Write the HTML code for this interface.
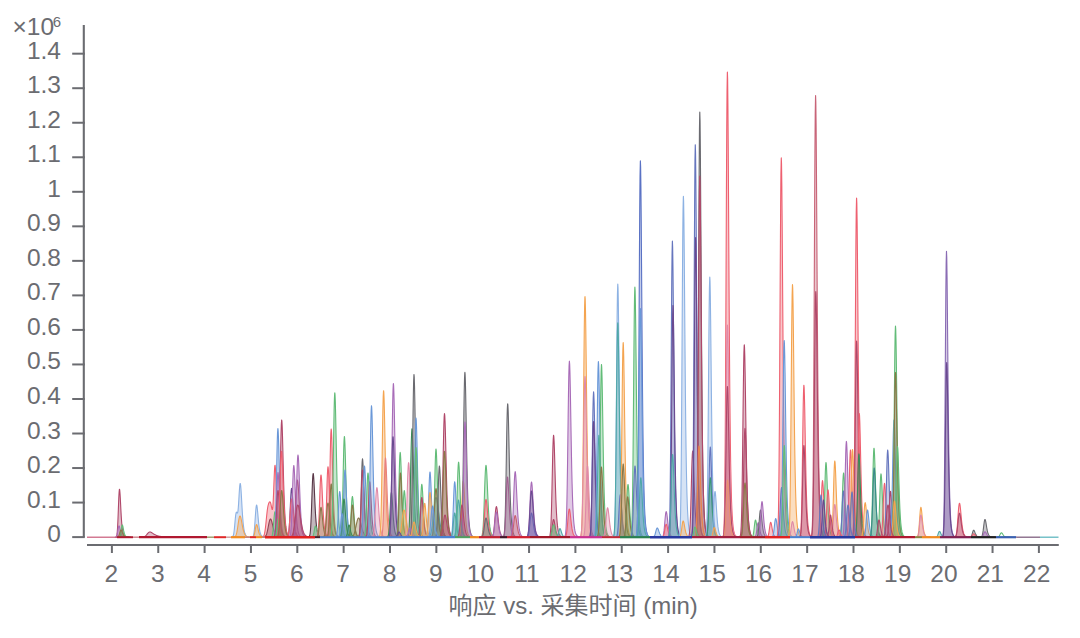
<!DOCTYPE html>
<html><head><meta charset="utf-8"><style>
html,body{margin:0;padding:0;background:#fff;width:1080px;height:638px;overflow:hidden}
svg{display:block}
.t{font-family:"Liberation Sans","Noto Sans CJK SC",sans-serif;font-size:24.5px;fill:#6b6c71}
.sup{font-size:15px}
.xl{font-size:24.0px}
</style></head><body>
<svg width="1080" height="638" viewBox="0 0 1080 638">
<g stroke-linejoin="round">
<path d="M115.76 537.20 L115.76 537.13 L116.06 536.99 L116.36 536.65 L116.66 535.90 L116.97 534.40 L117.27 531.73 L117.57 527.50 L117.88 521.47 L118.18 513.94 L118.48 505.70 L118.78 498.05 L119.09 492.28 L119.39 489.43 L119.50 489.20 L119.69 489.81 L119.99 493.00 L120.30 498.13 L120.60 504.14 L120.90 510.16 L121.20 515.60 L121.51 520.23 L121.81 524.00 L122.11 526.99 L122.42 529.31 L122.72 531.12 L123.02 532.51 L123.33 533.59 L123.63 534.42 L123.93 535.06 L124.23 535.55 L124.54 535.93 L124.84 536.22 L125.14 536.44 L125.44 536.62 L125.75 536.75 L126.05 536.85 L126.35 536.93 L126.66 536.99 L126.96 537.04 L127.26 537.08 L127.56 537.11 L127.87 537.13 L128.17 537.14 L128.47 537.16 Z" fill="#b0486a" fill-opacity="0.36" stroke="#b0486a" stroke-opacity="1.00" stroke-width="1.10"/>
<path d="M115.26 537.20 L115.26 537.18 L115.56 537.15 L115.86 537.07 L116.16 536.89 L116.47 536.54 L116.77 535.91 L117.07 534.92 L117.38 533.50 L117.68 531.72 L117.98 529.78 L118.28 527.98 L118.59 526.63 L118.89 525.95 L119.00 525.90 L119.19 526.04 L119.49 526.79 L119.80 528.00 L120.10 529.42 L120.40 530.83 L120.70 532.12 L121.01 533.21 L121.31 534.09 L121.61 534.80 L121.92 535.34 L122.22 535.77 L122.52 536.10 L122.83 536.35 L123.13 536.54 L123.43 536.70 L123.73 536.81 L124.04 536.90 L124.34 536.97 L124.64 537.02 L124.94 537.06 L125.25 537.09 L125.55 537.12 L125.85 537.14 L126.16 537.15 L126.46 537.16 L126.76 537.17 L127.06 537.18 L127.37 537.18 L127.67 537.19 L127.97 537.19 Z" fill="#a86cb8" fill-opacity="0.36" stroke="#a86cb8" stroke-opacity="1.00" stroke-width="1.10"/>
<path d="M118.84 537.20 L118.84 537.18 L119.15 537.14 L119.46 537.03 L119.76 536.77 L120.07 536.25 L120.38 535.31 L120.68 533.85 L120.99 531.89 L121.29 529.63 L121.60 527.46 L121.91 525.81 L122.21 525.04 L122.30 525.00 L122.52 525.23 L122.83 526.23 L123.13 527.73 L123.44 529.39 L123.74 530.97 L124.05 532.35 L124.36 533.46 L124.66 534.34 L124.97 535.03 L125.28 535.55 L125.58 535.94 L125.89 536.24 L126.19 536.47 L126.50 536.65 L126.81 536.78 L127.11 536.88 L127.42 536.96 L127.73 537.01 L128.03 537.06 L128.34 537.09 L128.65 537.12 L128.95 537.14 L129.26 537.15 L129.56 537.16 L129.87 537.17 L130.18 537.18 L130.48 537.18 L130.79 537.19 Z" fill="#62bc78" fill-opacity="0.36" stroke="#62bc78" stroke-opacity="1.00" stroke-width="1.10"/>
<path d="M116.68 537.20 L116.68 537.19 L116.98 537.17 L117.29 537.14 L117.59 537.07 L117.89 536.93 L118.20 536.69 L118.50 536.30 L118.80 535.72 L119.11 534.94 L119.41 533.98 L119.71 532.91 L120.02 531.85 L120.32 530.94 L120.62 530.30 L120.93 530.01 L121.00 530.00 L121.23 530.10 L121.53 530.52 L121.84 531.18 L122.14 531.97 L122.44 532.79 L122.75 533.57 L123.05 534.27 L123.35 534.86 L123.66 535.34 L123.96 535.74 L124.26 536.05 L124.57 536.30 L124.87 536.49 L125.17 536.64 L125.48 536.76 L125.78 536.86 L126.08 536.93 L126.39 536.99 L126.69 537.04 L126.99 537.07 L127.30 537.10 L127.60 537.12 L127.90 537.14 L128.21 537.15 L128.51 537.16 L128.81 537.17 L129.12 537.18 L129.42 537.18 L129.72 537.19 L130.03 537.19 L130.33 537.19 L130.63 537.19 L130.94 537.19 Z" fill="#8a7848" fill-opacity="0.36" stroke="#8a7848" stroke-opacity="1.00" stroke-width="1.10"/>
<path d="M141.36 537.20 L141.36 537.18 L141.66 537.18 L141.96 537.16 L142.26 537.15 L142.57 537.12 L142.87 537.09 L143.17 537.04 L143.47 536.98 L143.77 536.90 L144.07 536.79 L144.38 536.66 L144.68 536.50 L144.98 536.31 L145.28 536.09 L145.58 535.83 L145.88 535.54 L146.19 535.23 L146.49 534.89 L146.79 534.53 L147.09 534.16 L147.39 533.80 L147.69 533.45 L148.00 533.12 L148.30 532.82 L148.60 532.56 L148.90 532.34 L149.20 532.18 L149.50 532.07 L149.81 532.01 L150.00 532.00 L150.11 532.00 L150.41 532.04 L150.71 532.13 L151.01 532.25 L151.31 532.40 L151.62 532.57 L151.92 532.76 L152.22 532.96 L152.52 533.17 L152.82 533.37 L153.12 533.58 L153.43 533.79 L153.73 533.98 L154.03 534.17 L154.33 534.35 L154.63 534.52 L154.93 534.69 L155.24 534.84 L155.54 534.98 L155.84 535.12 L156.14 535.25 L156.44 535.37 L156.74 535.48 L157.04 535.59 L157.35 535.69 L157.65 535.78 L157.95 535.87 L158.25 535.95 L158.55 536.03 L158.85 536.10 L159.16 536.17 L159.46 536.23 L159.76 536.29 L160.06 536.35 L160.36 536.40 L160.66 536.45 L160.97 536.49 L161.27 536.54 L161.57 536.58 L161.87 536.62 L162.17 536.65 L162.47 536.69 L162.78 536.72 L163.08 536.75 L163.38 536.78 L163.68 536.80 L163.98 536.83 L164.28 536.85 L164.59 536.87 L164.89 536.89 L165.19 536.91 L165.49 536.93 L165.79 536.95 L166.09 536.96 L166.40 536.98 L166.70 536.99 L167.00 537.00 L167.30 537.01 L167.60 537.03 L167.90 537.04 L168.21 537.05 L168.51 537.06 L168.81 537.07 L169.11 537.07 L169.41 537.08 L169.71 537.09 L170.02 537.10 L170.32 537.10 L170.62 537.11 L170.92 537.11 L171.22 537.12 L171.52 537.12 L171.83 537.13 L172.13 537.13 L172.43 537.14 L172.73 537.14 L173.03 537.14 L173.33 537.15 L173.64 537.15 L173.94 537.15 L174.24 537.16 L174.54 537.16 L174.84 537.16 L175.14 537.16 L175.44 537.17 L175.75 537.17 L176.05 537.17 L176.35 537.17 L176.65 537.17 L176.95 537.18 L177.25 537.18 L177.56 537.18 L177.86 537.18 L178.16 537.18 L178.46 537.18 L178.76 537.18 L179.06 537.18 L179.37 537.19 L179.67 537.19 L179.97 537.19 Z" fill="#b0486a" fill-opacity="0.36" stroke="#b0486a" stroke-opacity="1.00" stroke-width="1.10"/>
<path d="M231.69 537.20 L231.69 537.17 L231.99 537.12 L232.29 537.02 L232.59 536.83 L232.89 536.47 L233.19 535.84 L233.49 534.84 L233.79 533.34 L234.09 531.26 L234.39 528.60 L234.69 525.47 L234.99 522.08 L235.29 518.76 L235.59 515.89 L235.89 513.77 L236.19 512.54 L236.30 512.33 L236.49 512.19 L236.79 512.45 L237.09 512.92 L237.40 513.09 L237.69 512.48 L238.00 510.73 L238.29 507.70 L238.59 503.49 L238.90 498.51 L239.19 493.35 L239.50 488.72 L239.80 485.30 L240.10 483.59 L240.30 483.53 L240.40 483.81 L240.70 485.90 L241.00 489.55 L241.30 494.29 L241.60 499.60 L241.90 505.05 L242.20 510.22 L242.50 514.91 L242.80 519.00 L243.10 522.46 L243.40 525.34 L243.70 527.68 L244.00 529.59 L244.30 531.11 L244.60 532.34 L244.90 533.31 L245.20 534.10 L245.50 534.72 L245.80 535.22 L246.10 535.62 L246.40 535.94 L246.70 536.19 L247.00 536.40 L247.30 536.56 L247.60 536.69 L247.90 536.79 L248.20 536.87 L248.50 536.94 L248.80 536.99 L249.10 537.03 L249.40 537.07 L249.70 537.09 L250.00 537.12 L250.30 537.13 L250.60 537.15 L250.90 537.16 L251.20 537.17 Z" fill="#8db2e3" fill-opacity="0.36" stroke="#8db2e3" stroke-opacity="1.00" stroke-width="1.10"/>
<path d="M233.38 537.20 L233.38 537.18 L233.68 537.15 L233.98 537.12 L234.28 537.06 L234.58 536.96 L234.88 536.80 L235.18 536.56 L235.48 536.20 L235.78 535.70 L236.08 535.01 L236.38 534.10 L236.68 532.95 L236.98 531.54 L237.28 529.88 L237.58 528.00 L237.88 525.97 L238.18 523.87 L238.48 521.82 L238.78 519.92 L239.08 518.31 L239.38 517.07 L239.68 516.29 L239.98 516.00 L240.00 516.00 L240.28 516.20 L240.58 516.86 L240.88 517.90 L241.18 519.25 L241.48 520.81 L241.78 522.47 L242.08 524.17 L242.38 525.81 L242.69 527.37 L242.99 528.79 L243.28 530.07 L243.59 531.19 L243.89 532.16 L244.19 532.99 L244.49 533.69 L244.79 534.28 L245.09 534.78 L245.39 535.19 L245.69 535.53 L245.99 535.82 L246.29 536.06 L246.59 536.25 L246.89 536.42 L247.19 536.55 L247.49 536.66 L247.79 536.75 L248.09 536.83 L248.39 536.89 L248.69 536.95 L248.99 536.99 L249.29 537.03 L249.59 537.06 L249.89 537.08 L250.19 537.10 L250.49 537.12 L250.79 537.13 L251.09 537.14 L251.39 537.15 L251.69 537.16 L251.99 537.17 L252.29 537.17 L252.59 537.18 L252.89 537.18 L253.19 537.19 L253.50 537.19 L253.79 537.19 Z" fill="#f4a450" fill-opacity="0.36" stroke="#f4a450" stroke-opacity="1.00" stroke-width="1.10"/>
<path d="M251.99 537.20 L251.99 537.16 L252.29 537.10 L252.59 536.96 L252.89 536.70 L253.19 536.22 L253.50 535.39 L253.79 534.05 L254.10 532.04 L254.40 529.27 L254.70 525.71 L255.00 521.54 L255.30 517.04 L255.60 512.68 L255.90 508.95 L256.20 506.32 L256.50 505.08 L256.60 505.00 L256.80 505.31 L257.10 506.87 L257.40 509.45 L257.70 512.65 L258.00 516.11 L258.30 519.50 L258.60 522.63 L258.90 525.36 L259.20 527.68 L259.50 529.59 L259.81 531.14 L260.11 532.39 L260.41 533.38 L260.71 534.17 L261.01 534.80 L261.31 535.30 L261.61 535.69 L261.91 536.01 L262.21 536.26 L262.51 536.45 L262.81 536.61 L263.11 536.73 L263.41 536.83 L263.71 536.90 L264.01 536.97 L264.31 537.01 L264.61 537.05 L264.92 537.08 L265.21 537.11 L265.52 537.13 L265.82 537.14 L266.12 537.15 L266.42 537.16 L266.72 537.17 L267.02 537.18 Z" fill="#8db2e3" fill-opacity="0.36" stroke="#8db2e3" stroke-opacity="1.00" stroke-width="1.10"/>
<path d="M251.99 537.20 L251.99 537.18 L252.29 537.16 L252.59 537.11 L252.89 537.01 L253.19 536.82 L253.50 536.49 L253.79 535.97 L254.10 535.18 L254.40 534.10 L254.70 532.71 L255.00 531.07 L255.30 529.31 L255.60 527.60 L255.90 526.15 L256.20 525.12 L256.50 524.63 L256.60 524.60 L256.80 524.72 L257.10 525.33 L257.40 526.34 L257.70 527.59 L258.00 528.95 L258.30 530.27 L258.60 531.50 L258.90 532.57 L259.20 533.47 L259.50 534.22 L259.81 534.83 L260.11 535.32 L260.41 535.71 L260.71 536.02 L261.01 536.26 L261.31 536.46 L261.61 536.61 L261.91 536.73 L262.21 536.83 L262.51 536.91 L262.81 536.97 L263.11 537.02 L263.41 537.05 L263.71 537.08 L264.01 537.11 L264.31 537.13 L264.61 537.14 L264.92 537.15 L265.21 537.16 L265.52 537.17 L265.82 537.18 L266.12 537.18 L266.42 537.19 L266.72 537.19 L267.02 537.19 Z" fill="#f4a450" fill-opacity="0.36" stroke="#f4a450" stroke-opacity="1.00" stroke-width="1.10"/>
<path d="M263.01 537.20 L263.01 537.18 L263.31 537.16 L263.62 537.14 L263.92 537.10 L264.22 537.04 L264.53 536.94 L264.83 536.80 L265.13 536.59 L265.44 536.30 L265.74 535.91 L266.04 535.39 L266.35 534.72 L266.65 533.88 L266.95 532.87 L267.25 531.68 L267.56 530.33 L267.86 528.84 L268.16 527.26 L268.47 525.64 L268.77 524.06 L269.07 522.59 L269.38 521.29 L269.68 520.25 L269.98 519.50 L270.29 519.09 L270.50 519.00 L270.59 519.02 L270.89 519.28 L271.19 519.86 L271.50 520.69 L271.80 521.74 L272.10 522.94 L272.41 524.22 L272.71 525.55 L273.01 526.85 L273.32 528.11 L273.62 529.28 L273.92 530.36 L274.23 531.33 L274.53 532.19 L274.83 532.94 L275.13 533.59 L275.44 534.15 L275.74 534.63 L276.04 535.04 L276.35 535.39 L276.65 535.68 L276.95 535.92 L277.26 536.13 L277.56 536.30 L277.86 536.44 L278.17 536.57 L278.47 536.67 L278.77 536.75 L279.07 536.83 L279.38 536.89 L279.68 536.94 L279.98 536.98 L280.29 537.01 L280.59 537.04 L280.89 537.07 L281.20 537.09 L281.50 537.11 L281.80 537.12 L282.11 537.14 L282.41 537.15 L282.71 537.15 L283.01 537.16 L283.32 537.17 L283.62 537.17 L283.92 537.18 L284.23 537.18 L284.53 537.18 L284.83 537.19 L285.14 537.19 L285.44 537.19 L285.74 537.19 Z" fill="#5a3848" fill-opacity="0.36" stroke="#5a3848" stroke-opacity="1.00" stroke-width="1.10"/>
<path d="M261.85 537.20 L261.85 537.17 L262.15 537.14 L262.45 537.08 L262.75 536.98 L263.06 536.81 L263.36 536.54 L263.66 536.12 L263.96 535.49 L264.26 534.60 L264.56 533.39 L264.86 531.80 L265.16 529.82 L265.46 527.46 L265.77 524.77 L266.07 521.83 L266.37 518.79 L266.67 515.78 L266.97 512.95 L267.27 510.42 L267.57 508.26 L267.87 506.50 L267.90 506.37 L268.18 505.11 L268.48 504.04 L268.78 503.21 L269.08 502.57 L269.38 502.11 L269.68 501.85 L269.98 501.83 L270.28 502.13 L270.58 502.81 L270.88 503.88 L271.00 504.38 L271.19 505.29 L271.49 506.88 L271.79 508.40 L272.09 509.44 L272.39 509.52 L272.69 508.12 L272.99 504.82 L273.29 499.49 L273.60 492.40 L273.90 484.34 L274.20 476.43 L274.50 469.96 L274.80 466.03 L275.10 465.27 L275.40 467.74 L275.70 472.92 L276.00 479.95 L276.30 487.87 L276.61 495.84 L276.91 503.28 L277.21 509.79 L277.51 515.29 L277.81 519.81 L278.11 523.45 L278.41 526.35 L278.71 528.65 L279.01 530.47 L279.31 531.90 L279.62 533.02 L279.92 533.91 L280.22 534.61 L280.52 535.16 L280.82 535.59 L281.12 535.93 L281.42 536.20 L281.72 536.41 L282.02 536.58 L282.33 536.71 L282.63 536.82 L282.93 536.90 L283.23 536.96 L283.53 537.01 L283.83 537.05 L284.13 537.08 L284.43 537.11 L284.74 537.13 L285.04 537.14 Z" fill="#ee6070" fill-opacity="0.36" stroke="#ee6070" stroke-opacity="1.00" stroke-width="1.10"/>
<path d="M270.68 537.20 L270.68 537.16 L270.98 537.11 L271.29 536.98 L271.59 536.73 L271.89 536.24 L272.20 535.38 L272.50 534.00 L272.80 531.96 L273.11 529.20 L273.41 525.80 L273.71 522.02 L274.02 518.25 L274.32 515.02 L274.62 512.75 L274.93 511.74 L275.00 511.70 L275.23 512.06 L275.53 513.55 L275.84 515.88 L276.14 518.68 L276.44 521.59 L276.75 524.35 L277.05 526.82 L277.35 528.91 L277.66 530.63 L277.96 532.02 L278.26 533.13 L278.57 534.00 L278.87 534.69 L279.17 535.23 L279.48 535.66 L279.78 535.99 L280.08 536.25 L280.39 536.46 L280.69 536.62 L280.99 536.74 L281.30 536.84 L281.60 536.92 L281.90 536.98 L282.21 537.03 L282.51 537.06 L282.81 537.09 L283.12 537.12 L283.42 537.13 L283.72 537.15 L284.03 537.16 L284.33 537.17 L284.63 537.18 L284.94 537.18 Z" fill="#62bc78" fill-opacity="0.36" stroke="#62bc78" stroke-opacity="1.00" stroke-width="1.10"/>
<path d="M273.58 537.20 L273.58 537.05 L273.88 536.81 L274.19 536.28 L274.49 535.19 L274.79 533.12 L275.10 529.46 L275.40 523.59 L275.70 514.90 L276.01 503.12 L276.31 488.64 L276.61 472.54 L276.92 456.50 L277.22 442.72 L277.52 433.07 L277.83 428.78 L277.90 428.60 L278.13 430.15 L278.43 436.47 L278.74 446.39 L279.04 458.32 L279.34 470.71 L279.65 482.47 L279.95 492.98 L280.25 501.88 L280.56 509.22 L280.86 515.15 L281.16 519.86 L281.47 523.59 L281.77 526.52 L282.07 528.82 L282.38 530.63 L282.68 532.05 L282.98 533.16 L283.29 534.03 L283.59 534.72 L283.89 535.25 L284.20 535.67 L284.50 536.00 L284.80 536.26 L285.11 536.46 L285.41 536.62 L285.71 536.75 L286.02 536.84 L286.32 536.92 L286.62 536.98 L286.93 537.03 L287.23 537.07 L287.53 537.09 L287.84 537.12 Z" fill="#6a98d8" fill-opacity="0.36" stroke="#6a98d8" stroke-opacity="1.00" stroke-width="1.10"/>
<path d="M273.68 537.20 L273.68 537.11 L273.98 536.97 L274.29 536.65 L274.59 536.00 L274.89 534.77 L275.20 532.59 L275.50 529.09 L275.80 523.92 L276.11 516.89 L276.41 508.27 L276.71 498.68 L277.02 489.12 L277.32 480.91 L277.62 475.16 L277.93 472.61 L278.00 472.50 L278.23 473.42 L278.53 477.19 L278.84 483.10 L279.14 490.21 L279.44 497.59 L279.75 504.59 L280.05 510.85 L280.35 516.16 L280.66 520.53 L280.96 524.07 L281.26 526.87 L281.57 529.09 L281.87 530.84 L282.17 532.21 L282.48 533.29 L282.78 534.13 L283.08 534.79 L283.39 535.31 L283.69 535.72 L283.99 536.04 L284.30 536.29 L284.60 536.49 L284.90 536.64 L285.21 536.76 L285.51 536.86 L285.81 536.93 L286.12 536.99 L286.42 537.03 L286.72 537.07 L287.03 537.10 L287.33 537.12 L287.63 537.14 L287.94 537.15 Z" fill="#a86cb8" fill-opacity="0.36" stroke="#a86cb8" stroke-opacity="1.00" stroke-width="1.10"/>
<path d="M273.39 537.20 L273.39 537.14 L273.69 537.05 L273.99 536.86 L274.29 536.48 L274.59 535.78 L274.89 534.57 L275.19 532.63 L275.50 529.71 L275.80 525.70 L276.10 520.54 L276.40 514.49 L276.70 507.95 L277.00 501.64 L277.30 496.23 L277.60 492.42 L277.90 490.62 L278.00 490.50 L278.20 490.95 L278.50 493.21 L278.80 496.96 L279.10 501.60 L279.40 506.62 L279.70 511.53 L280.00 516.07 L280.30 520.03 L280.61 523.39 L280.90 526.16 L281.21 528.42 L281.51 530.22 L281.81 531.67 L282.11 532.81 L282.41 533.72 L282.71 534.44 L283.01 535.02 L283.31 535.47 L283.61 535.83 L283.91 536.11 L284.21 536.34 L284.51 536.52 L284.81 536.66 L285.11 536.77 L285.41 536.86 L285.71 536.93 L286.01 536.99 L286.31 537.03 L286.62 537.07 L286.92 537.09 L287.22 537.12 L287.52 537.13 L287.82 537.15 L288.12 537.16 L288.42 537.17 Z" fill="#b0486a" fill-opacity="0.36" stroke="#b0486a" stroke-opacity="1.00" stroke-width="1.10"/>
<path d="M274.54 537.20 L274.54 537.17 L274.85 537.11 L275.16 536.94 L275.46 536.56 L275.77 535.78 L276.07 534.38 L276.38 532.21 L276.69 529.28 L276.99 525.91 L277.30 522.67 L277.61 520.21 L277.91 519.06 L278.00 519.00 L278.22 519.35 L278.53 520.84 L278.83 523.07 L279.14 525.55 L279.44 527.91 L279.75 529.96 L280.06 531.63 L280.36 532.94 L280.67 533.96 L280.98 534.73 L281.28 535.32 L281.59 535.77 L281.89 536.11 L282.20 536.37 L282.51 536.57 L282.81 536.72 L283.12 536.84 L283.43 536.92 L283.73 536.99 L284.04 537.04 L284.35 537.08 L284.65 537.11 L284.96 537.13 L285.26 537.15 L285.57 537.16 L285.88 537.17 L286.18 537.18 L286.49 537.18 Z" fill="#62bc78" fill-opacity="0.36" stroke="#62bc78" stroke-opacity="1.00" stroke-width="1.10"/>
<path d="M277.09 537.20 L277.09 537.04 L277.39 536.82 L277.69 536.34 L277.99 535.40 L278.29 533.64 L278.60 530.60 L278.89 525.72 L279.20 518.42 L279.50 508.33 L279.80 495.39 L280.10 480.20 L280.40 463.81 L280.70 447.95 L281.00 434.38 L281.30 424.82 L281.60 420.30 L281.70 420.00 L281.90 421.14 L282.20 426.81 L282.50 436.20 L282.80 447.85 L283.10 460.45 L283.40 472.78 L283.70 484.16 L284.00 494.11 L284.31 502.55 L284.61 509.50 L284.91 515.16 L285.21 519.69 L285.51 523.31 L285.81 526.19 L286.11 528.48 L286.41 530.28 L286.71 531.72 L287.01 532.86 L287.31 533.76 L287.61 534.47 L287.91 535.04 L288.21 535.49 L288.51 535.84 L288.81 536.13 L289.11 536.35 L289.41 536.53 L289.71 536.67 L290.01 536.78 L290.31 536.86 L290.62 536.93 L290.92 536.99 L291.22 537.03 L291.52 537.07 L291.82 537.10 L292.12 537.12 Z" fill="#b0486a" fill-opacity="0.36" stroke="#b0486a" stroke-opacity="1.00" stroke-width="1.10"/>
<path d="M276.32 537.20 L276.32 537.09 L276.62 536.96 L276.92 536.69 L277.22 536.19 L277.52 535.31 L277.82 533.82 L278.12 531.45 L278.43 527.89 L278.73 522.86 L279.03 516.19 L279.33 507.85 L279.63 498.09 L279.93 487.44 L280.23 476.74 L280.53 466.94 L280.83 458.97 L281.14 453.61 L281.44 451.37 L281.50 451.30 L281.74 452.28 L282.04 456.04 L282.34 462.07 L282.64 469.64 L282.94 477.95 L283.24 486.34 L283.55 494.32 L283.85 501.58 L284.15 507.92 L284.45 513.33 L284.75 517.84 L285.05 521.56 L285.35 524.60 L285.65 527.06 L285.95 529.04 L286.26 530.64 L286.56 531.93 L286.86 532.97 L287.16 533.80 L287.46 534.46 L287.76 535.00 L288.06 535.43 L288.37 535.78 L288.67 536.06 L288.97 536.28 L289.27 536.46 L289.57 536.61 L289.87 536.72 L290.17 536.82 L290.47 536.89 L290.77 536.95 L291.08 537.00 L291.38 537.04 L291.68 537.07 L291.98 537.10 L292.28 537.12 L292.58 537.13 L292.88 537.15 Z" fill="#ee6070" fill-opacity="0.36" stroke="#ee6070" stroke-opacity="1.00" stroke-width="1.10"/>
<path d="M276.52 537.20 L276.52 537.14 L276.82 537.07 L277.12 536.92 L277.42 536.65 L277.72 536.17 L278.02 535.36 L278.32 534.07 L278.62 532.14 L278.93 529.41 L279.23 525.78 L279.53 521.24 L279.83 515.94 L280.13 510.15 L280.43 504.33 L280.73 499.00 L281.03 494.67 L281.34 491.76 L281.64 490.54 L281.70 490.50 L281.94 491.03 L282.24 493.08 L282.54 496.36 L282.84 500.47 L283.14 504.99 L283.44 509.55 L283.75 513.89 L284.05 517.84 L284.35 521.28 L284.65 524.22 L284.95 526.68 L285.25 528.70 L285.55 530.35 L285.85 531.69 L286.15 532.77 L286.46 533.63 L286.76 534.34 L287.06 534.90 L287.36 535.35 L287.66 535.71 L287.96 536.00 L288.26 536.24 L288.56 536.43 L288.87 536.58 L289.17 536.70 L289.47 536.80 L289.77 536.88 L290.07 536.94 L290.37 536.99 L290.67 537.03 L290.98 537.07 L291.28 537.09 L291.58 537.11 L291.88 537.13 L292.18 537.14 L292.48 537.16 L292.78 537.16 L293.08 537.17 Z" fill="#8a7848" fill-opacity="0.36" stroke="#8a7848" stroke-opacity="1.00" stroke-width="1.10"/>
<path d="M286.99 537.20 L286.99 537.13 L287.29 537.04 L287.59 536.84 L287.89 536.45 L288.19 535.72 L288.50 534.45 L288.80 532.42 L289.10 529.38 L289.40 525.18 L289.70 519.79 L290.00 513.47 L290.30 506.64 L290.60 500.04 L290.90 494.39 L291.20 490.41 L291.50 488.53 L291.60 488.40 L291.80 488.87 L292.10 491.24 L292.40 495.15 L292.70 500.00 L293.00 505.24 L293.30 510.38 L293.60 515.12 L293.90 519.26 L294.20 522.77 L294.50 525.67 L294.81 528.02 L295.11 529.91 L295.41 531.42 L295.71 532.61 L296.01 533.57 L296.31 534.32 L296.61 534.92 L296.91 535.39 L297.21 535.77 L297.51 536.06 L297.81 536.30 L298.11 536.49 L298.41 536.64 L298.71 536.75 L299.01 536.85 L299.31 536.92 L299.61 536.98 L299.92 537.02 L300.21 537.06 L300.52 537.09 L300.82 537.11 L301.12 537.13 L301.42 537.14 L301.72 537.16 L302.02 537.17 Z" fill="#6a4a90" fill-opacity="0.36" stroke="#6a4a90" stroke-opacity="1.00" stroke-width="1.10"/>
<path d="M286.42 537.20 L286.42 537.15 L286.72 537.09 L287.02 536.97 L287.32 536.75 L287.62 536.36 L287.92 535.70 L288.22 534.64 L288.52 533.06 L288.83 530.83 L289.13 527.86 L289.43 524.15 L289.73 519.81 L290.03 515.07 L290.33 510.31 L290.63 505.95 L290.93 502.41 L291.24 500.03 L291.54 499.03 L291.60 499.00 L291.84 499.43 L292.14 501.11 L292.44 503.79 L292.74 507.16 L293.04 510.85 L293.34 514.58 L293.64 518.13 L293.95 521.36 L294.25 524.18 L294.55 526.58 L294.85 528.59 L295.15 530.24 L295.45 531.60 L295.75 532.69 L296.06 533.57 L296.36 534.28 L296.66 534.86 L296.96 535.32 L297.26 535.69 L297.56 535.98 L297.86 536.22 L298.16 536.41 L298.46 536.57 L298.77 536.69 L299.07 536.79 L299.37 536.87 L299.67 536.94 L299.97 536.99 L300.27 537.03 L300.57 537.06 L300.88 537.09 L301.18 537.11 L301.48 537.13 L301.78 537.14 L302.08 537.15 L302.38 537.16 L302.68 537.17 L302.98 537.18 Z" fill="#ee6070" fill-opacity="0.36" stroke="#ee6070" stroke-opacity="1.00" stroke-width="1.10"/>
<path d="M289.19 537.20 L289.19 537.10 L289.49 536.97 L289.79 536.68 L290.09 536.10 L290.39 535.02 L290.69 533.16 L291.00 530.18 L291.30 525.71 L291.60 519.54 L291.90 511.62 L292.20 502.33 L292.50 492.30 L292.80 482.60 L293.10 474.29 L293.40 468.45 L293.70 465.69 L293.80 465.50 L294.00 466.20 L294.30 469.67 L294.60 475.41 L294.90 482.54 L295.20 490.24 L295.50 497.79 L295.80 504.75 L296.10 510.84 L296.40 516.00 L296.70 520.25 L297.01 523.72 L297.31 526.49 L297.61 528.70 L297.91 530.46 L298.21 531.86 L298.51 532.97 L298.81 533.85 L299.11 534.54 L299.41 535.10 L299.71 535.53 L300.01 535.88 L300.31 536.15 L300.61 536.37 L300.91 536.54 L301.21 536.68 L301.51 536.79 L301.81 536.87 L302.12 536.94 L302.42 536.99 L302.72 537.04 L303.02 537.07 L303.32 537.10 L303.62 537.12 L303.92 537.14 L304.22 537.15 Z" fill="#a86cb8" fill-opacity="0.36" stroke="#a86cb8" stroke-opacity="1.00" stroke-width="1.10"/>
<path d="M291.64 537.20 L291.64 537.13 L291.94 537.05 L292.24 536.91 L292.55 536.67 L292.85 536.24 L293.15 535.54 L293.45 534.44 L293.75 532.80 L294.05 530.48 L294.36 527.33 L294.66 523.27 L294.96 518.30 L295.26 512.53 L295.56 506.23 L295.87 499.72 L296.17 493.48 L296.47 488.00 L296.77 483.72 L297.07 481.00 L297.37 480.00 L297.40 480.00 L297.68 480.74 L297.98 483.04 L298.28 486.63 L298.58 491.10 L298.88 496.10 L299.19 501.27 L299.49 506.31 L299.79 511.01 L300.09 515.23 L300.39 518.95 L300.69 522.14 L301.00 524.84 L301.30 527.08 L301.60 528.94 L301.90 530.46 L302.20 531.71 L302.50 532.73 L302.81 533.56 L303.11 534.24 L303.41 534.79 L303.71 535.24 L304.01 535.61 L304.32 535.90 L304.62 536.14 L304.92 536.34 L305.22 536.50 L305.52 536.63 L305.82 536.74 L306.13 536.82 L306.43 536.89 L306.73 536.95 L307.03 537.00 L307.33 537.03 L307.63 537.07 L307.94 537.09 L308.24 537.11 L308.54 537.13 L308.84 537.14 L309.14 537.15 L309.45 537.16 L309.75 537.17 Z" fill="#b0486a" fill-opacity="0.36" stroke="#b0486a" stroke-opacity="1.00" stroke-width="1.10"/>
<path d="M293.10 537.20 L293.10 537.09 L293.41 536.95 L293.71 536.65 L294.01 536.08 L294.32 535.04 L294.62 533.25 L294.93 530.39 L295.23 526.11 L295.53 520.10 L295.84 512.25 L296.14 502.73 L296.45 492.06 L296.75 481.12 L297.05 470.93 L297.36 462.63 L297.66 457.15 L297.96 455.02 L298.00 455.00 L298.27 456.29 L298.57 460.56 L298.88 467.12 L299.18 475.07 L299.48 483.55 L299.79 491.91 L300.09 499.65 L300.39 506.49 L300.70 512.33 L301.00 517.18 L301.31 521.16 L301.61 524.39 L301.91 526.99 L302.22 529.06 L302.52 530.71 L302.82 532.03 L303.13 533.09 L303.43 533.92 L303.74 534.59 L304.04 535.12 L304.34 535.54 L304.65 535.88 L304.95 536.15 L305.25 536.36 L305.56 536.53 L305.86 536.67 L306.17 536.78 L306.47 536.86 L306.77 536.93 L307.08 536.99 L307.38 537.03 L307.69 537.06 L307.99 537.09 L308.29 537.11 L308.60 537.13 L308.90 537.15 Z" fill="#a86cb8" fill-opacity="0.36" stroke="#a86cb8" stroke-opacity="1.00" stroke-width="1.10"/>
<path d="M308.59 537.20 L308.59 537.11 L308.89 536.99 L309.19 536.73 L309.49 536.22 L309.79 535.27 L310.10 533.61 L310.39 530.96 L310.70 526.99 L311.00 521.51 L311.30 514.48 L311.60 506.22 L311.90 497.31 L312.20 488.69 L312.50 481.31 L312.80 476.12 L313.10 473.67 L313.20 473.50 L313.40 474.12 L313.70 477.20 L314.00 482.31 L314.30 488.64 L314.60 495.48 L314.90 502.19 L315.20 508.37 L315.50 513.78 L315.81 518.37 L316.11 522.14 L316.41 525.22 L316.71 527.68 L317.01 529.65 L317.31 531.21 L317.61 532.46 L317.91 533.44 L318.21 534.22 L318.51 534.84 L318.81 535.33 L319.11 535.72 L319.41 536.03 L319.71 536.27 L320.01 536.46 L320.31 536.62 L320.61 536.74 L320.91 536.83 L321.21 536.91 L321.51 536.97 L321.81 537.02 L322.12 537.06 L322.42 537.09 L322.72 537.11 L323.02 537.13 L323.32 537.14 L323.62 537.15 Z" fill="#5a3848" fill-opacity="0.36" stroke="#5a3848" stroke-opacity="1.00" stroke-width="1.10"/>
<path d="M311.47 537.20 L311.47 537.18 L311.77 537.16 L312.08 537.09 L312.39 536.95 L312.69 536.66 L313.00 536.17 L313.31 535.37 L313.61 534.21 L313.92 532.69 L314.23 530.93 L314.53 529.13 L314.84 527.56 L315.15 526.46 L315.45 526.01 L315.50 526.00 L315.76 526.23 L316.06 527.01 L316.37 528.18 L316.68 529.52 L316.99 530.87 L317.29 532.10 L317.60 533.16 L317.90 534.03 L318.21 534.73 L318.52 535.28 L318.82 535.71 L319.13 536.04 L319.44 536.30 L319.74 536.50 L320.05 536.66 L320.36 536.78 L320.66 536.88 L320.97 536.95 L321.28 537.00 L321.58 537.05 L321.89 537.08 L322.19 537.11 L322.50 537.13 L322.81 537.15 L323.12 537.16 L323.42 537.17 L323.73 537.17 L324.03 537.18 L324.34 537.18 L324.65 537.19 L324.95 537.19 Z" fill="#62bc78" fill-opacity="0.36" stroke="#62bc78" stroke-opacity="1.00" stroke-width="1.10"/>
<path d="M316.39 537.20 L316.39 537.12 L316.69 537.00 L316.99 536.75 L317.29 536.24 L317.59 535.31 L317.89 533.70 L318.19 531.11 L318.50 527.23 L318.80 521.88 L319.10 515.01 L319.40 506.95 L319.70 498.25 L320.00 489.83 L320.30 482.63 L320.60 477.56 L320.90 475.16 L321.00 475.00 L321.20 475.60 L321.50 478.61 L321.80 483.60 L322.10 489.78 L322.40 496.47 L322.70 503.01 L323.00 509.05 L323.30 514.33 L323.61 518.81 L323.90 522.50 L324.21 525.50 L324.51 527.91 L324.81 529.83 L325.11 531.36 L325.41 532.57 L325.71 533.53 L326.01 534.29 L326.31 534.90 L326.61 535.37 L326.91 535.75 L327.21 536.05 L327.51 536.29 L327.81 536.48 L328.11 536.63 L328.41 536.75 L328.71 536.84 L329.01 536.92 L329.31 536.98 L329.62 537.02 L329.92 537.06 L330.22 537.09 L330.52 537.11 L330.82 537.13 L331.12 537.14 L331.42 537.16 Z" fill="#ee6070" fill-opacity="0.36" stroke="#ee6070" stroke-opacity="1.00" stroke-width="1.10"/>
<path d="M316.39 537.20 L316.39 537.16 L316.69 537.10 L316.99 536.98 L317.29 536.74 L317.59 536.29 L317.89 535.52 L318.19 534.28 L318.50 532.42 L318.80 529.86 L319.10 526.57 L319.40 522.71 L319.70 518.54 L320.00 514.51 L320.30 511.06 L320.60 508.63 L320.90 507.48 L321.00 507.40 L321.20 507.69 L321.50 509.13 L321.80 511.52 L322.10 514.48 L322.40 517.68 L322.70 520.82 L323.00 523.71 L323.30 526.24 L323.61 528.39 L323.90 530.16 L324.21 531.60 L324.51 532.75 L324.81 533.67 L325.11 534.40 L325.41 534.98 L325.71 535.44 L326.01 535.81 L326.31 536.10 L326.61 536.33 L326.91 536.51 L327.21 536.65 L327.51 536.77 L327.81 536.86 L328.11 536.93 L328.41 536.98 L328.71 537.03 L329.01 537.06 L329.31 537.09 L329.62 537.11 L329.92 537.13 L330.22 537.15 L330.52 537.16 L330.82 537.17 L331.12 537.17 L331.42 537.18 Z" fill="#8a7848" fill-opacity="0.36" stroke="#8a7848" stroke-opacity="1.00" stroke-width="1.10"/>
<path d="M323.68 537.20 L323.68 537.10 L323.98 536.95 L324.29 536.61 L324.59 535.90 L324.89 534.55 L325.20 532.18 L325.50 528.38 L325.80 522.75 L326.11 515.10 L326.41 505.72 L326.71 495.28 L327.02 484.88 L327.32 475.95 L327.62 469.69 L327.93 466.92 L328.00 466.80 L328.23 467.80 L328.53 471.90 L328.84 478.33 L329.14 486.07 L329.44 494.10 L329.75 501.72 L330.05 508.53 L330.35 514.30 L330.66 519.06 L330.96 522.91 L331.26 525.96 L331.57 528.38 L331.87 530.28 L332.17 531.77 L332.48 532.94 L332.78 533.86 L333.08 534.58 L333.39 535.15 L333.69 535.59 L333.99 535.94 L334.30 536.21 L334.60 536.42 L334.90 536.59 L335.21 536.72 L335.51 536.83 L335.81 536.91 L336.12 536.97 L336.42 537.02 L336.72 537.06 L337.03 537.09 L337.33 537.11 L337.63 537.13 L337.94 537.15 Z" fill="#ee6070" fill-opacity="0.36" stroke="#ee6070" stroke-opacity="1.00" stroke-width="1.10"/>
<path d="M322.82 537.20 L322.82 537.16 L323.12 537.10 L323.42 537.00 L323.72 536.80 L324.02 536.45 L324.32 535.85 L324.62 534.91 L324.93 533.49 L325.23 531.49 L325.53 528.83 L325.83 525.51 L326.13 521.63 L326.43 517.39 L326.73 513.13 L327.03 509.22 L327.33 506.05 L327.64 503.92 L327.94 503.03 L328.00 503.00 L328.24 503.39 L328.54 504.89 L328.84 507.29 L329.14 510.30 L329.44 513.61 L329.74 516.95 L330.05 520.13 L330.35 523.02 L330.65 525.54 L330.95 527.69 L331.25 529.49 L331.55 530.97 L331.85 532.18 L332.15 533.16 L332.45 533.95 L332.76 534.59 L333.06 535.10 L333.36 535.51 L333.66 535.84 L333.96 536.11 L334.26 536.32 L334.56 536.50 L334.87 536.63 L335.17 536.75 L335.47 536.84 L335.77 536.91 L336.07 536.96 L336.37 537.01 L336.67 537.05 L336.97 537.08 L337.27 537.10 L337.58 537.12 L337.88 537.14 L338.18 537.15 L338.48 537.16 L338.78 537.17 L339.08 537.17 L339.38 537.18 Z" fill="#8a7848" fill-opacity="0.36" stroke="#8a7848" stroke-opacity="1.00" stroke-width="1.10"/>
<path d="M326.88 537.20 L326.88 537.05 L327.18 536.81 L327.49 536.29 L327.79 535.20 L328.09 533.13 L328.40 529.49 L328.70 523.64 L329.00 514.99 L329.31 503.24 L329.61 488.82 L329.91 472.78 L330.22 456.79 L330.52 443.07 L330.82 433.45 L331.13 429.18 L331.20 429.00 L331.43 430.54 L331.73 436.84 L332.04 446.72 L332.34 458.61 L332.64 470.95 L332.95 482.67 L333.25 493.14 L333.55 502.01 L333.86 509.32 L334.16 515.24 L334.46 519.93 L334.77 523.64 L335.07 526.56 L335.37 528.86 L335.68 530.65 L335.98 532.07 L336.28 533.18 L336.59 534.04 L336.89 534.73 L337.19 535.26 L337.50 535.68 L337.80 536.01 L338.10 536.26 L338.41 536.47 L338.71 536.62 L339.01 536.75 L339.32 536.85 L339.62 536.92 L339.92 536.98 L340.23 537.03 L340.53 537.07 L340.83 537.09 L341.14 537.12 Z" fill="#ee6070" fill-opacity="0.36" stroke="#ee6070" stroke-opacity="1.00" stroke-width="1.10"/>
<path d="M326.59 537.20 L326.59 537.13 L326.89 537.03 L327.19 536.81 L327.49 536.38 L327.79 535.58 L328.10 534.20 L328.39 531.99 L328.70 528.67 L329.00 524.10 L329.30 518.22 L329.60 511.33 L329.90 503.88 L330.20 496.69 L330.50 490.53 L330.80 486.19 L331.10 484.14 L331.20 484.00 L331.40 484.52 L331.70 487.09 L332.00 491.35 L332.30 496.64 L332.60 502.36 L332.90 507.96 L333.20 513.12 L333.50 517.64 L333.81 521.47 L334.11 524.63 L334.41 527.19 L334.71 529.25 L335.01 530.90 L335.31 532.20 L335.61 533.24 L335.91 534.06 L336.21 534.71 L336.51 535.23 L336.81 535.64 L337.11 535.96 L337.41 536.22 L337.71 536.42 L338.01 536.58 L338.31 536.71 L338.61 536.81 L338.91 536.89 L339.21 536.96 L339.51 537.01 L339.81 537.05 L340.12 537.08 L340.42 537.10 L340.72 537.12 L341.02 537.14 L341.32 537.15 L341.62 537.16 Z" fill="#8a7848" fill-opacity="0.36" stroke="#8a7848" stroke-opacity="1.00" stroke-width="1.10"/>
<path d="M330.19 537.20 L330.19 537.00 L330.49 536.73 L330.79 536.14 L331.09 534.98 L331.39 532.81 L331.69 529.06 L332.00 523.06 L332.30 514.06 L332.60 501.64 L332.90 485.69 L333.20 466.97 L333.50 446.77 L333.80 427.24 L334.10 410.51 L334.40 398.74 L334.70 393.17 L334.80 392.80 L335.00 394.20 L335.30 401.19 L335.60 412.76 L335.90 427.11 L336.20 442.63 L336.50 457.83 L336.80 471.85 L337.10 484.11 L337.40 494.51 L337.70 503.07 L338.01 510.04 L338.31 515.62 L338.61 520.09 L338.91 523.63 L339.21 526.45 L339.51 528.68 L339.81 530.45 L340.11 531.85 L340.41 532.96 L340.71 533.84 L341.01 534.54 L341.31 535.09 L341.61 535.53 L341.91 535.88 L342.21 536.15 L342.51 536.37 L342.81 536.54 L343.12 536.68 L343.42 536.79 L343.72 536.87 L344.02 536.94 L344.32 536.99 L344.62 537.04 L344.92 537.07 L345.22 537.10 Z" fill="#62bc78" fill-opacity="0.36" stroke="#62bc78" stroke-opacity="1.00" stroke-width="1.10"/>
<path d="M335.38 537.20 L335.38 537.14 L335.68 537.04 L335.99 536.81 L336.29 536.36 L336.59 535.48 L336.90 533.94 L337.20 531.47 L337.50 527.82 L337.81 522.86 L338.11 516.77 L338.41 509.99 L338.72 503.24 L339.02 497.44 L339.32 493.38 L339.63 491.58 L339.70 491.50 L339.93 492.15 L340.23 494.81 L340.54 498.99 L340.84 504.01 L341.14 509.22 L341.45 514.17 L341.75 518.59 L342.05 522.34 L342.36 525.42 L342.66 527.92 L342.96 529.91 L343.27 531.47 L343.57 532.71 L343.87 533.68 L344.18 534.44 L344.48 535.03 L344.78 535.50 L345.09 535.87 L345.39 536.15 L345.69 536.38 L346.00 536.56 L346.30 536.70 L346.60 536.80 L346.91 536.89 L347.21 536.96 L347.51 537.01 L347.82 537.05 L348.12 537.08 L348.42 537.11 L348.73 537.13 L349.03 537.14 L349.33 537.16 L349.64 537.17 Z" fill="#6a98d8" fill-opacity="0.36" stroke="#6a98d8" stroke-opacity="1.00" stroke-width="1.10"/>
<path d="M340.08 537.20 L340.08 537.06 L340.38 536.84 L340.69 536.35 L340.99 535.34 L341.29 533.41 L341.60 530.02 L341.90 524.58 L342.20 516.53 L342.51 505.60 L342.81 492.18 L343.11 477.24 L343.42 462.37 L343.72 449.59 L344.02 440.64 L344.33 436.67 L344.40 436.50 L344.63 437.93 L344.93 443.80 L345.24 452.99 L345.54 464.06 L345.84 475.55 L346.15 486.45 L346.45 496.19 L346.75 504.45 L347.06 511.25 L347.36 516.76 L347.66 521.13 L347.97 524.58 L348.27 527.30 L348.57 529.43 L348.88 531.11 L349.18 532.42 L349.48 533.45 L349.79 534.26 L350.09 534.90 L350.39 535.39 L350.70 535.78 L351.00 536.09 L351.30 536.33 L351.61 536.52 L351.91 536.66 L352.21 536.78 L352.52 536.87 L352.82 536.94 L353.12 537.00 L353.43 537.04 L353.73 537.08 L354.03 537.10 L354.34 537.12 Z" fill="#62bc78" fill-opacity="0.36" stroke="#62bc78" stroke-opacity="1.00" stroke-width="1.10"/>
<path d="M340.68 537.20 L340.68 537.11 L340.98 536.96 L341.29 536.63 L341.59 535.96 L341.89 534.67 L342.20 532.41 L342.50 528.78 L342.80 523.40 L343.11 516.11 L343.41 507.15 L343.71 497.19 L344.02 487.26 L344.32 478.74 L344.62 472.76 L344.93 470.11 L345.00 470.00 L345.23 470.96 L345.53 474.87 L345.84 481.01 L346.14 488.39 L346.44 496.06 L346.75 503.33 L347.05 509.84 L347.35 515.35 L347.66 519.89 L347.96 523.56 L348.26 526.47 L348.57 528.78 L348.87 530.59 L349.17 532.02 L349.48 533.13 L349.78 534.01 L350.08 534.70 L350.39 535.24 L350.69 535.66 L350.99 535.99 L351.30 536.25 L351.60 536.46 L351.90 536.62 L352.21 536.74 L352.51 536.84 L352.81 536.92 L353.12 536.98 L353.42 537.03 L353.72 537.06 L354.03 537.09 L354.33 537.12 L354.63 537.13 L354.94 537.15 Z" fill="#6a98d8" fill-opacity="0.36" stroke="#6a98d8" stroke-opacity="1.00" stroke-width="1.10"/>
<path d="M339.68 537.20 L339.68 537.15 L339.98 537.06 L340.29 536.88 L340.59 536.49 L340.89 535.76 L341.20 534.48 L341.50 532.41 L341.80 529.36 L342.11 525.21 L342.41 520.12 L342.71 514.46 L343.02 508.81 L343.32 503.97 L343.62 500.57 L343.93 499.06 L344.00 499.00 L344.23 499.54 L344.53 501.77 L344.84 505.26 L345.14 509.46 L345.44 513.81 L345.75 517.95 L346.05 521.64 L346.35 524.78 L346.66 527.36 L346.96 529.45 L347.26 531.10 L347.57 532.41 L347.87 533.45 L348.17 534.25 L348.48 534.89 L348.78 535.39 L349.08 535.78 L349.39 536.09 L349.69 536.33 L349.99 536.51 L350.30 536.66 L350.60 536.78 L350.90 536.87 L351.21 536.94 L351.51 537.00 L351.81 537.04 L352.12 537.07 L352.42 537.10 L352.72 537.12 L353.03 537.14 L353.33 537.15 L353.63 537.16 L353.94 537.17 Z" fill="#3a8a58" fill-opacity="0.36" stroke="#3a8a58" stroke-opacity="1.00" stroke-width="1.10"/>
<path d="M348.08 537.20 L348.08 537.14 L348.38 537.06 L348.69 536.86 L348.99 536.45 L349.29 535.67 L349.60 534.30 L349.90 532.10 L350.20 528.84 L350.51 524.43 L350.81 519.00 L351.11 512.97 L351.42 506.95 L351.72 501.79 L352.02 498.17 L352.33 496.57 L352.40 496.50 L352.63 497.08 L352.93 499.45 L353.24 503.17 L353.54 507.64 L353.84 512.28 L354.15 516.69 L354.45 520.63 L354.75 523.96 L355.06 526.71 L355.36 528.94 L355.66 530.70 L355.97 532.10 L356.27 533.20 L356.57 534.06 L356.88 534.74 L357.18 535.27 L357.48 535.69 L357.79 536.01 L358.09 536.27 L358.39 536.47 L358.70 536.63 L359.00 536.75 L359.30 536.85 L359.61 536.92 L359.91 536.98 L360.21 537.03 L360.52 537.07 L360.82 537.10 L361.12 537.12 L361.43 537.14 L361.73 537.15 L362.03 537.16 L362.34 537.17 Z" fill="#62bc78" fill-opacity="0.36" stroke="#62bc78" stroke-opacity="1.00" stroke-width="1.10"/>
<path d="M349.96 537.20 L349.96 537.18 L350.26 537.17 L350.56 537.15 L350.86 537.12 L351.16 537.07 L351.46 537.01 L351.76 536.92 L352.06 536.79 L352.36 536.61 L352.66 536.38 L352.96 536.06 L353.26 535.66 L353.56 535.15 L353.86 534.52 L354.16 533.77 L354.46 532.87 L354.76 531.83 L355.06 530.66 L355.36 529.37 L355.66 527.99 L355.96 526.54 L356.26 525.07 L356.56 523.63 L356.86 522.26 L357.16 521.01 L357.46 519.93 L357.76 519.07 L358.06 518.44 L358.36 518.09 L358.60 518.00 L358.66 518.00 L358.96 518.19 L359.26 518.63 L359.56 519.29 L359.87 520.14 L360.17 521.15 L360.46 522.26 L360.76 523.45 L361.06 524.66 L361.37 525.87 L361.67 527.05 L361.97 528.18 L362.27 529.24 L362.57 530.21 L362.87 531.10 L363.17 531.90 L363.47 532.61 L363.77 533.24 L364.07 533.79 L364.37 534.27 L364.67 534.69 L364.97 535.05 L365.27 535.36 L365.57 535.63 L365.87 535.86 L366.17 536.05 L366.47 536.22 L366.77 536.36 L367.07 536.48 L367.37 536.59 L367.67 536.68 L367.97 536.76 L368.27 536.82 L368.57 536.88 L368.87 536.92 L369.17 536.96 L369.47 537.00 L369.77 537.03 L370.07 537.05 L370.37 537.07 L370.67 537.09 L370.97 537.11 L371.27 537.12 L371.57 537.13 L371.87 537.14 L372.17 537.15 L372.47 537.16 L372.77 537.16 L373.07 537.17 L373.37 537.17 L373.67 537.18 L373.97 537.18 L374.27 537.18 L374.57 537.19 L374.87 537.19 L375.17 537.19 L375.47 537.19 L375.77 537.19 Z" fill="#8a7848" fill-opacity="0.36" stroke="#8a7848" stroke-opacity="1.00" stroke-width="1.10"/>
<path d="M358.18 537.20 L358.18 537.09 L358.48 536.92 L358.79 536.54 L359.09 535.75 L359.39 534.25 L359.70 531.61 L360.00 527.37 L360.30 521.10 L360.61 512.59 L360.91 502.15 L361.21 490.52 L361.52 478.94 L361.82 468.99 L362.12 462.02 L362.43 458.93 L362.50 458.80 L362.73 459.92 L363.03 464.48 L363.34 471.64 L363.64 480.26 L363.94 489.20 L364.25 497.69 L364.55 505.27 L364.85 511.70 L365.16 517.00 L365.46 521.29 L365.76 524.69 L366.07 527.37 L366.37 529.49 L366.67 531.15 L366.98 532.46 L367.28 533.48 L367.58 534.28 L367.89 534.91 L368.19 535.41 L368.49 535.79 L368.80 536.10 L369.10 536.33 L369.40 536.52 L369.71 536.67 L370.01 536.78 L370.31 536.87 L370.62 536.94 L370.92 537.00 L371.22 537.04 L371.53 537.08 L371.83 537.10 L372.13 537.12 L372.44 537.14 Z" fill="#6a6a70" fill-opacity="0.36" stroke="#6a6a70" stroke-opacity="1.00" stroke-width="1.10"/>
<path d="M358.18 537.20 L358.18 537.11 L358.48 536.96 L358.79 536.63 L359.09 535.96 L359.39 534.67 L359.70 532.41 L360.00 528.78 L360.30 523.40 L360.61 516.11 L360.91 507.15 L361.21 497.19 L361.52 487.26 L361.82 478.74 L362.12 472.76 L362.43 470.11 L362.50 470.00 L362.73 470.96 L363.03 474.87 L363.34 481.01 L363.64 488.39 L363.94 496.06 L364.25 503.33 L364.55 509.84 L364.85 515.35 L365.16 519.89 L365.46 523.56 L365.76 526.47 L366.07 528.78 L366.37 530.59 L366.67 532.02 L366.98 533.13 L367.28 534.01 L367.58 534.70 L367.89 535.24 L368.19 535.66 L368.49 535.99 L368.80 536.25 L369.10 536.46 L369.40 536.62 L369.71 536.74 L370.01 536.84 L370.31 536.92 L370.62 536.98 L370.92 537.03 L371.22 537.06 L371.53 537.09 L371.83 537.12 L372.13 537.13 L372.44 537.15 Z" fill="#b0486a" fill-opacity="0.36" stroke="#b0486a" stroke-opacity="1.00" stroke-width="1.10"/>
<path d="M360.18 537.20 L360.18 537.10 L360.48 536.95 L360.79 536.60 L361.09 535.88 L361.39 534.52 L361.70 532.13 L362.00 528.28 L362.30 522.58 L362.61 514.85 L362.91 505.37 L363.21 494.81 L363.52 484.29 L363.82 475.26 L364.12 468.93 L364.43 466.12 L364.50 466.00 L364.73 467.01 L365.03 471.16 L365.34 477.66 L365.64 485.49 L365.94 493.61 L366.25 501.32 L366.55 508.21 L366.85 514.04 L367.16 518.85 L367.46 522.75 L367.76 525.83 L368.07 528.27 L368.37 530.20 L368.67 531.71 L368.98 532.89 L369.28 533.82 L369.58 534.55 L369.89 535.12 L370.19 535.57 L370.49 535.92 L370.80 536.20 L371.10 536.41 L371.40 536.58 L371.71 536.72 L372.01 536.82 L372.31 536.90 L372.62 536.97 L372.92 537.02 L373.22 537.06 L373.53 537.09 L373.83 537.11 L374.13 537.13 L374.44 537.15 Z" fill="#6a98d8" fill-opacity="0.36" stroke="#6a98d8" stroke-opacity="1.00" stroke-width="1.10"/>
<path d="M363.68 537.20 L363.68 537.11 L363.98 536.97 L364.29 536.66 L364.59 536.01 L364.89 534.79 L365.20 532.63 L365.50 529.15 L365.80 524.02 L366.11 517.05 L366.41 508.50 L366.71 498.97 L367.02 489.49 L367.32 481.35 L367.62 475.64 L367.93 473.11 L368.00 473.00 L368.23 473.91 L368.53 477.65 L368.84 483.52 L369.14 490.57 L369.44 497.89 L369.75 504.85 L370.05 511.06 L370.35 516.32 L370.66 520.66 L370.96 524.17 L371.26 526.95 L371.57 529.15 L371.87 530.89 L372.17 532.25 L372.48 533.32 L372.78 534.16 L373.08 534.81 L373.39 535.33 L373.69 535.73 L373.99 536.05 L374.30 536.30 L374.60 536.49 L374.90 536.64 L375.21 536.76 L375.51 536.86 L375.81 536.93 L376.12 536.99 L376.42 537.04 L376.72 537.07 L377.03 537.10 L377.33 537.12 L377.63 537.14 L377.94 537.15 Z" fill="#62bc78" fill-opacity="0.36" stroke="#62bc78" stroke-opacity="1.00" stroke-width="1.10"/>
<path d="M365.48 537.20 L365.48 537.12 L365.78 537.00 L366.09 536.73 L366.39 536.18 L366.69 535.12 L367.00 533.25 L367.30 530.26 L367.60 525.83 L367.91 519.81 L368.21 512.43 L368.51 504.21 L368.82 496.03 L369.12 489.00 L369.42 484.08 L369.73 481.89 L369.80 481.80 L370.03 482.59 L370.33 485.82 L370.64 490.87 L370.94 496.96 L371.24 503.28 L371.55 509.28 L371.85 514.64 L372.15 519.18 L372.46 522.93 L372.76 525.95 L373.06 528.36 L373.37 530.26 L373.67 531.75 L373.97 532.93 L374.28 533.85 L374.58 534.57 L374.88 535.14 L375.19 535.58 L375.49 535.93 L375.79 536.21 L376.10 536.42 L376.40 536.59 L376.70 536.72 L377.01 536.82 L377.31 536.91 L377.61 536.97 L377.92 537.02 L378.22 537.06 L378.52 537.09 L378.83 537.11 L379.13 537.13 L379.43 537.15 L379.74 537.16 Z" fill="#b0486a" fill-opacity="0.36" stroke="#b0486a" stroke-opacity="1.00" stroke-width="1.10"/>
<path d="M367.18 537.20 L367.18 537.02 L367.48 536.73 L367.79 536.09 L368.09 534.77 L368.39 532.26 L368.70 527.83 L369.00 520.72 L369.30 510.20 L369.61 495.93 L369.91 478.41 L370.21 458.90 L370.52 439.48 L370.82 422.80 L371.12 411.11 L371.43 405.92 L371.50 405.70 L371.73 407.57 L372.03 415.23 L372.34 427.24 L372.64 441.69 L372.94 456.69 L373.25 470.93 L373.55 483.65 L373.85 494.43 L374.16 503.32 L374.46 510.51 L374.76 516.21 L375.07 520.72 L375.37 524.27 L375.67 527.06 L375.98 529.24 L376.28 530.96 L376.58 532.31 L376.89 533.36 L377.19 534.19 L377.49 534.84 L377.80 535.35 L378.10 535.75 L378.40 536.06 L378.71 536.31 L379.01 536.50 L379.31 536.65 L379.62 536.77 L379.92 536.86 L380.22 536.94 L380.53 536.99 L380.83 537.04 L381.13 537.07 L381.44 537.10 Z" fill="#6a98d8" fill-opacity="0.36" stroke="#6a98d8" stroke-opacity="1.00" stroke-width="1.10"/>
<path d="M371.72 537.20 L371.72 537.14 L372.02 537.06 L372.32 536.91 L372.62 536.62 L372.92 536.11 L373.22 535.25 L373.52 533.88 L373.82 531.82 L374.13 528.92 L374.43 525.07 L374.73 520.25 L375.03 514.62 L375.33 508.47 L375.63 502.29 L375.93 496.63 L376.23 492.03 L376.54 488.94 L376.84 487.64 L376.90 487.60 L377.14 488.16 L377.44 490.34 L377.74 493.82 L378.04 498.19 L378.34 502.99 L378.64 507.83 L378.94 512.44 L379.25 516.63 L379.55 520.29 L379.85 523.41 L380.15 526.02 L380.45 528.17 L380.75 529.93 L381.05 531.34 L381.36 532.49 L381.66 533.41 L381.96 534.16 L382.26 534.76 L382.56 535.23 L382.86 535.62 L383.16 535.93 L383.46 536.18 L383.76 536.38 L384.07 536.54 L384.37 536.67 L384.67 536.77 L384.97 536.86 L385.27 536.93 L385.57 536.98 L385.87 537.02 L386.18 537.06 L386.48 537.09 L386.78 537.11 L387.08 537.13 L387.38 537.14 L387.68 537.15 L387.98 537.16 L388.28 537.17 Z" fill="#e08aa8" fill-opacity="0.36" stroke="#e08aa8" stroke-opacity="1.00" stroke-width="1.10"/>
<path d="M378.99 537.20 L378.99 537.00 L379.29 536.72 L379.59 536.13 L379.89 534.94 L380.19 532.75 L380.50 528.95 L380.80 522.85 L381.10 513.72 L381.40 501.12 L381.70 484.94 L382.00 465.95 L382.30 445.46 L382.60 425.64 L382.90 408.67 L383.20 396.73 L383.50 391.08 L383.60 390.70 L383.80 392.12 L384.10 399.21 L384.40 410.95 L384.70 425.51 L385.00 441.26 L385.30 456.68 L385.60 470.90 L385.90 483.33 L386.20 493.89 L386.50 502.57 L386.81 509.65 L387.11 515.31 L387.41 519.84 L387.71 523.43 L388.01 526.29 L388.31 528.55 L388.61 530.35 L388.91 531.77 L389.21 532.90 L389.51 533.79 L389.81 534.50 L390.11 535.06 L390.41 535.51 L390.71 535.86 L391.01 536.14 L391.31 536.36 L391.61 536.53 L391.92 536.67 L392.21 536.78 L392.52 536.87 L392.82 536.94 L393.12 536.99 L393.42 537.03 L393.72 537.07 L394.02 537.10 Z" fill="#f4a450" fill-opacity="0.36" stroke="#f4a450" stroke-opacity="1.00" stroke-width="1.10"/>
<path d="M380.89 537.20 L380.89 537.09 L381.19 536.94 L381.49 536.62 L381.79 535.98 L382.09 534.79 L382.39 532.74 L382.69 529.44 L383.00 524.51 L383.30 517.69 L383.60 508.95 L383.90 498.68 L384.20 487.60 L384.50 476.89 L384.80 467.71 L385.10 461.26 L385.40 458.21 L385.50 458.00 L385.70 458.77 L386.00 462.60 L386.30 468.95 L386.60 476.82 L386.90 485.33 L387.20 493.67 L387.50 501.36 L387.80 508.08 L388.11 513.79 L388.40 518.48 L388.71 522.30 L389.01 525.37 L389.31 527.82 L389.61 529.76 L389.91 531.30 L390.21 532.53 L390.51 533.50 L390.81 534.27 L391.11 534.88 L391.41 535.36 L391.71 535.74 L392.01 536.04 L392.31 536.28 L392.61 536.47 L392.91 536.62 L393.21 536.74 L393.51 536.84 L393.81 536.91 L394.12 536.97 L394.42 537.02 L394.72 537.06 L395.02 537.09 L395.32 537.11 L395.62 537.13 L395.92 537.14 Z" fill="#e88080" fill-opacity="0.36" stroke="#e88080" stroke-opacity="1.00" stroke-width="1.10"/>
<path d="M387.08 537.20 L387.08 537.14 L387.38 537.04 L387.69 536.82 L387.99 536.37 L388.29 535.52 L388.60 534.02 L388.90 531.60 L389.20 528.02 L389.51 523.17 L389.81 517.21 L390.11 510.58 L390.42 503.98 L390.72 498.31 L391.02 494.34 L391.33 492.57 L391.40 492.50 L391.63 493.14 L391.93 495.74 L392.24 499.82 L392.54 504.73 L392.84 509.83 L393.15 514.67 L393.45 519.00 L393.75 522.66 L394.06 525.68 L394.36 528.13 L394.66 530.06 L394.97 531.60 L395.27 532.81 L395.57 533.75 L395.88 534.50 L396.18 535.08 L396.48 535.54 L396.79 535.90 L397.09 536.18 L397.39 536.40 L397.70 536.57 L398.00 536.71 L398.30 536.81 L398.61 536.90 L398.91 536.96 L399.21 537.01 L399.52 537.05 L399.82 537.09 L400.12 537.11 L400.43 537.13 L400.73 537.14 L401.03 537.16 L401.34 537.17 Z" fill="#3a8a58" fill-opacity="0.36" stroke="#3a8a58" stroke-opacity="1.00" stroke-width="1.10"/>
<path d="M388.79 537.20 L388.79 536.99 L389.09 536.70 L389.39 536.08 L389.69 534.83 L389.99 532.53 L390.30 528.55 L390.60 522.16 L390.90 512.58 L391.20 499.37 L391.50 482.41 L391.80 462.50 L392.10 441.01 L392.40 420.23 L392.70 402.44 L393.00 389.92 L393.30 384.00 L393.40 383.60 L393.60 385.09 L393.90 392.53 L394.20 404.83 L394.50 420.10 L394.80 436.61 L395.10 452.77 L395.40 467.69 L395.70 480.72 L396.00 491.79 L396.31 500.90 L396.61 508.31 L396.91 514.25 L397.21 519.00 L397.51 522.77 L397.81 525.77 L398.11 528.14 L398.41 530.02 L398.71 531.51 L399.01 532.69 L399.31 533.63 L399.61 534.37 L399.91 534.96 L400.21 535.42 L400.51 535.79 L400.81 536.08 L401.11 536.32 L401.41 536.50 L401.71 536.65 L402.01 536.76 L402.32 536.85 L402.62 536.92 L402.92 536.98 L403.22 537.03 L403.52 537.06 L403.82 537.09 Z" fill="#a86cb8" fill-opacity="0.36" stroke="#a86cb8" stroke-opacity="1.00" stroke-width="1.10"/>
<path d="M388.39 537.20 L388.39 537.06 L388.69 536.87 L388.99 536.47 L389.29 535.65 L389.59 534.15 L389.89 531.54 L390.19 527.36 L390.50 521.09 L390.80 512.45 L391.10 501.35 L391.40 488.32 L391.70 474.26 L392.00 460.67 L392.30 449.03 L392.60 440.83 L392.90 436.96 L393.00 436.70 L393.20 437.68 L393.50 442.54 L393.80 450.59 L394.10 460.58 L394.40 471.38 L394.70 481.96 L395.00 491.72 L395.30 500.25 L395.61 507.49 L395.90 513.45 L396.21 518.30 L396.51 522.18 L396.81 525.29 L397.11 527.76 L397.41 529.72 L397.71 531.27 L398.01 532.50 L398.31 533.48 L398.61 534.25 L398.91 534.86 L399.21 535.35 L399.51 535.73 L399.81 536.04 L400.11 536.28 L400.41 536.47 L400.71 536.62 L401.01 536.74 L401.31 536.84 L401.62 536.91 L401.92 536.97 L402.22 537.02 L402.52 537.06 L402.82 537.09 L403.12 537.11 L403.42 537.13 Z" fill="#6a4a90" fill-opacity="0.36" stroke="#6a4a90" stroke-opacity="1.00" stroke-width="1.10"/>
<path d="M395.88 537.20 L395.88 537.08 L396.18 536.90 L396.49 536.48 L396.79 535.63 L397.09 534.01 L397.40 531.16 L397.70 526.57 L398.00 519.79 L398.31 510.59 L398.61 499.29 L398.91 486.71 L399.22 474.18 L399.52 463.42 L399.82 455.89 L400.13 452.54 L400.20 452.40 L400.43 453.61 L400.73 458.55 L401.04 466.29 L401.34 475.61 L401.64 485.28 L401.95 494.47 L402.25 502.67 L402.55 509.62 L402.86 515.35 L403.16 519.99 L403.46 523.66 L403.77 526.57 L404.07 528.86 L404.37 530.66 L404.68 532.07 L404.98 533.18 L405.28 534.05 L405.59 534.73 L405.89 535.26 L406.19 535.68 L406.50 536.01 L406.80 536.26 L407.10 536.47 L407.41 536.62 L407.71 536.75 L408.01 536.85 L408.32 536.92 L408.62 536.98 L408.92 537.03 L409.23 537.07 L409.53 537.09 L409.83 537.12 L410.14 537.14 Z" fill="#62bc78" fill-opacity="0.36" stroke="#62bc78" stroke-opacity="1.00" stroke-width="1.10"/>
<path d="M396.08 537.20 L396.08 537.11 L396.38 536.97 L396.69 536.66 L396.99 536.01 L397.29 534.79 L397.60 532.63 L397.90 529.15 L398.20 524.02 L398.51 517.05 L398.81 508.50 L399.11 498.97 L399.42 489.49 L399.72 481.35 L400.02 475.64 L400.33 473.11 L400.40 473.00 L400.63 473.91 L400.93 477.65 L401.24 483.52 L401.54 490.57 L401.84 497.89 L402.15 504.85 L402.45 511.06 L402.75 516.32 L403.06 520.66 L403.36 524.17 L403.66 526.95 L403.97 529.15 L404.27 530.89 L404.57 532.25 L404.88 533.32 L405.18 534.16 L405.48 534.81 L405.79 535.33 L406.09 535.73 L406.39 536.05 L406.70 536.30 L407.00 536.49 L407.30 536.64 L407.61 536.76 L407.91 536.86 L408.21 536.93 L408.52 536.99 L408.82 537.04 L409.12 537.07 L409.43 537.10 L409.73 537.12 L410.03 537.14 L410.34 537.15 Z" fill="#8a7848" fill-opacity="0.36" stroke="#8a7848" stroke-opacity="1.00" stroke-width="1.10"/>
<path d="M399.98 537.20 L399.98 537.13 L400.28 537.03 L400.59 536.81 L400.89 536.34 L401.19 535.45 L401.50 533.88 L401.80 531.36 L402.10 527.63 L402.41 522.57 L402.71 516.36 L403.01 509.45 L403.32 502.57 L403.62 496.66 L403.92 492.52 L404.23 490.68 L404.30 490.60 L404.53 491.26 L404.83 493.98 L405.14 498.23 L405.44 503.35 L405.74 508.67 L406.05 513.72 L406.35 518.22 L406.65 522.04 L406.96 525.19 L407.26 527.74 L407.56 529.76 L407.87 531.36 L408.17 532.62 L408.47 533.61 L408.78 534.38 L409.08 534.99 L409.38 535.47 L409.69 535.84 L409.99 536.13 L410.29 536.36 L410.60 536.54 L410.90 536.69 L411.20 536.80 L411.51 536.88 L411.81 536.95 L412.11 537.01 L412.42 537.05 L412.72 537.08 L413.02 537.11 L413.33 537.13 L413.63 537.14 L413.93 537.15 L414.24 537.16 Z" fill="#62bc78" fill-opacity="0.36" stroke="#62bc78" stroke-opacity="1.00" stroke-width="1.10"/>
<path d="M403.99 537.20 L403.99 537.10 L404.29 536.96 L404.59 536.66 L404.89 536.05 L405.19 534.94 L405.50 533.00 L405.80 529.90 L406.10 525.26 L406.40 518.85 L406.70 510.62 L407.00 500.97 L407.30 490.55 L407.60 480.47 L407.90 471.84 L408.20 465.76 L408.50 462.89 L408.60 462.70 L408.80 463.42 L409.10 467.03 L409.40 473.00 L409.70 480.40 L410.00 488.41 L410.30 496.25 L410.60 503.49 L410.90 509.81 L411.20 515.17 L411.50 519.59 L411.81 523.19 L412.11 526.07 L412.41 528.37 L412.71 530.20 L413.01 531.65 L413.31 532.80 L413.61 533.72 L413.91 534.44 L414.21 535.01 L414.51 535.47 L414.81 535.83 L415.11 536.11 L415.41 536.34 L415.71 536.52 L416.01 536.66 L416.31 536.77 L416.61 536.86 L416.92 536.93 L417.21 536.99 L417.52 537.03 L417.82 537.07 L418.12 537.09 L418.42 537.12 L418.72 537.13 L419.02 537.15 Z" fill="#e08aa8" fill-opacity="0.36" stroke="#e08aa8" stroke-opacity="1.00" stroke-width="1.10"/>
<path d="M407.39 537.20 L407.39 537.05 L407.69 536.85 L407.99 536.41 L408.29 535.53 L408.59 533.91 L408.89 531.09 L409.19 526.58 L409.50 519.83 L409.80 510.50 L410.10 498.53 L410.40 484.48 L410.70 469.32 L411.00 454.65 L411.30 442.10 L411.60 433.26 L411.90 429.08 L412.00 428.80 L412.20 429.85 L412.50 435.10 L412.80 443.78 L413.10 454.56 L413.40 466.21 L413.70 477.62 L414.00 488.14 L414.30 497.34 L414.61 505.15 L414.90 511.58 L415.21 516.81 L415.51 521.00 L415.81 524.36 L416.11 527.01 L416.41 529.13 L416.71 530.80 L417.01 532.13 L417.31 533.18 L417.61 534.02 L417.91 534.68 L418.21 535.20 L418.51 535.62 L418.81 535.95 L419.11 536.21 L419.41 536.41 L419.71 536.58 L420.01 536.71 L420.31 536.81 L420.62 536.89 L420.92 536.95 L421.22 537.01 L421.52 537.05 L421.82 537.08 L422.12 537.10 L422.42 537.12 Z" fill="#3a8a58" fill-opacity="0.36" stroke="#3a8a58" stroke-opacity="1.00" stroke-width="1.10"/>
<path d="M409.68 537.20 L409.68 536.97 L409.98 536.62 L410.29 535.83 L410.59 534.19 L410.89 531.08 L411.20 525.61 L411.50 516.81 L411.80 503.80 L412.11 486.14 L412.41 464.46 L412.71 440.33 L413.02 416.29 L413.32 395.65 L413.62 381.19 L413.93 374.77 L414.00 374.50 L414.23 376.82 L414.53 386.29 L414.84 401.15 L415.14 419.03 L415.44 437.59 L415.75 455.21 L416.05 470.95 L416.35 484.29 L416.66 495.28 L416.96 504.17 L417.26 511.23 L417.57 516.81 L417.87 521.21 L418.17 524.65 L418.48 527.36 L418.78 529.48 L419.08 531.15 L419.39 532.45 L419.69 533.48 L419.99 534.28 L420.30 534.91 L420.60 535.40 L420.90 535.79 L421.21 536.10 L421.51 536.33 L421.81 536.52 L422.12 536.67 L422.42 536.78 L422.72 536.87 L423.03 536.94 L423.33 537.00 L423.63 537.04 L423.94 537.08 Z" fill="#6a6a70" fill-opacity="0.36" stroke="#6a6a70" stroke-opacity="1.00" stroke-width="1.10"/>
<path d="M411.68 537.20 L411.68 537.03 L411.98 536.78 L412.29 536.19 L412.59 535.00 L412.89 532.72 L413.20 528.71 L413.50 522.26 L413.80 512.73 L414.11 499.79 L414.41 483.91 L414.71 466.23 L415.02 448.62 L415.32 433.50 L415.62 422.90 L415.93 418.20 L416.00 418.00 L416.23 419.70 L416.53 426.64 L416.84 437.52 L417.14 450.62 L417.44 464.22 L417.75 477.13 L418.05 488.66 L418.35 498.43 L418.66 506.49 L418.96 513.00 L419.26 518.17 L419.57 522.26 L419.87 525.48 L420.17 528.01 L420.48 529.99 L420.78 531.55 L421.08 532.77 L421.39 533.72 L421.69 534.47 L421.99 535.06 L422.30 535.52 L422.60 535.88 L422.90 536.17 L423.21 536.39 L423.51 536.57 L423.81 536.70 L424.12 536.81 L424.42 536.89 L424.72 536.96 L425.03 537.01 L425.33 537.05 L425.63 537.08 L425.94 537.11 Z" fill="#6a98d8" fill-opacity="0.36" stroke="#6a98d8" stroke-opacity="1.00" stroke-width="1.10"/>
<path d="M411.68 537.20 L411.68 537.07 L411.98 536.88 L412.29 536.44 L412.59 535.54 L412.89 533.83 L413.20 530.81 L413.50 525.96 L413.80 518.78 L414.11 509.05 L414.41 497.09 L414.71 483.79 L415.02 470.54 L415.32 459.16 L415.62 451.19 L415.93 447.65 L416.00 447.50 L416.23 448.78 L416.53 454.00 L416.84 462.19 L417.14 472.05 L417.44 482.28 L417.75 492.00 L418.05 500.67 L418.35 508.03 L418.66 514.09 L418.96 518.99 L419.26 522.88 L419.57 525.96 L419.87 528.38 L420.17 530.28 L420.48 531.77 L420.78 532.95 L421.08 533.86 L421.39 534.58 L421.69 535.15 L421.99 535.59 L422.30 535.94 L422.60 536.21 L422.90 536.42 L423.21 536.59 L423.51 536.72 L423.81 536.83 L424.12 536.91 L424.42 536.97 L424.72 537.02 L425.03 537.06 L425.33 537.09 L425.63 537.11 L425.94 537.13 Z" fill="#62bc78" fill-opacity="0.36" stroke="#62bc78" stroke-opacity="1.00" stroke-width="1.10"/>
<path d="M417.48 537.20 L417.48 537.13 L417.78 537.01 L418.09 536.75 L418.39 536.22 L418.69 535.21 L419.00 533.43 L419.30 530.57 L419.60 526.34 L419.91 520.60 L420.21 513.55 L420.51 505.70 L420.82 497.89 L421.12 491.18 L421.42 486.48 L421.73 484.39 L421.80 484.30 L422.03 485.05 L422.33 488.13 L422.64 492.96 L422.94 498.78 L423.24 504.81 L423.55 510.54 L423.85 515.66 L424.15 520.00 L424.46 523.57 L424.76 526.46 L425.06 528.76 L425.37 530.57 L425.67 532.00 L425.97 533.12 L426.28 534.00 L426.58 534.69 L426.88 535.23 L427.19 535.66 L427.49 535.99 L427.79 536.25 L428.10 536.46 L428.40 536.62 L428.70 536.74 L429.01 536.84 L429.31 536.92 L429.61 536.98 L429.92 537.03 L430.22 537.06 L430.52 537.09 L430.83 537.12 L431.13 537.13 L431.43 537.15 L431.74 537.16 Z" fill="#62bc78" fill-opacity="0.36" stroke="#62bc78" stroke-opacity="1.00" stroke-width="1.10"/>
<path d="M417.48 537.20 L417.48 537.14 L417.78 537.06 L418.09 536.87 L418.39 536.47 L418.69 535.71 L419.00 534.37 L419.30 532.22 L419.60 529.05 L419.91 524.74 L420.21 519.45 L420.51 513.56 L420.82 507.70 L421.12 502.66 L421.42 499.13 L421.73 497.57 L421.80 497.50 L422.03 498.07 L422.33 500.38 L422.64 504.00 L422.94 508.37 L423.24 512.89 L423.55 517.19 L423.85 521.03 L424.15 524.29 L424.46 526.97 L424.76 529.14 L425.06 530.86 L425.37 532.22 L425.67 533.30 L425.97 534.14 L426.28 534.80 L426.58 535.32 L426.88 535.72 L427.19 536.04 L427.49 536.29 L427.79 536.49 L428.10 536.64 L428.40 536.76 L428.70 536.86 L429.01 536.93 L429.31 536.99 L429.61 537.03 L429.92 537.07 L430.22 537.10 L430.52 537.12 L430.83 537.14 L431.13 537.15 L431.43 537.16 L431.74 537.17 Z" fill="#b0486a" fill-opacity="0.36" stroke="#b0486a" stroke-opacity="1.00" stroke-width="1.10"/>
<path d="M420.38 537.20 L420.38 537.15 L420.68 537.08 L420.99 536.91 L421.29 536.57 L421.59 535.93 L421.90 534.78 L422.20 532.95 L422.50 530.24 L422.81 526.56 L423.11 522.04 L423.41 517.02 L423.72 512.01 L424.02 507.71 L424.32 504.69 L424.63 503.36 L424.70 503.30 L424.93 503.78 L425.23 505.76 L425.54 508.85 L425.84 512.58 L426.14 516.44 L426.45 520.12 L426.75 523.40 L427.05 526.18 L427.36 528.47 L427.66 530.32 L427.96 531.79 L428.27 532.95 L428.57 533.87 L428.87 534.59 L429.18 535.15 L429.48 535.59 L429.78 535.94 L430.09 536.21 L430.39 536.42 L430.69 536.59 L431.00 536.72 L431.30 536.83 L431.60 536.91 L431.91 536.97 L432.21 537.02 L432.51 537.06 L432.82 537.09 L433.12 537.11 L433.42 537.13 L433.73 537.15 L434.03 537.16 L434.33 537.17 L434.64 537.17 Z" fill="#f4a450" fill-opacity="0.36" stroke="#f4a450" stroke-opacity="1.00" stroke-width="1.10"/>
<path d="M425.68 537.20 L425.68 537.11 L425.98 536.97 L426.29 536.65 L426.59 536.00 L426.89 534.75 L427.20 532.55 L427.50 529.03 L427.80 523.81 L428.11 516.74 L428.41 508.05 L428.71 498.38 L429.02 488.75 L429.32 480.48 L429.62 474.68 L429.93 472.11 L430.00 472.00 L430.23 472.93 L430.53 476.73 L430.84 482.68 L431.14 489.85 L431.44 497.28 L431.75 504.34 L432.05 510.65 L432.35 516.00 L432.66 520.40 L432.96 523.96 L433.26 526.79 L433.57 529.03 L433.87 530.79 L434.17 532.17 L434.48 533.26 L434.78 534.11 L435.08 534.77 L435.39 535.30 L435.69 535.71 L435.99 536.03 L436.30 536.28 L436.60 536.48 L436.90 536.64 L437.21 536.76 L437.51 536.85 L437.81 536.93 L438.12 536.99 L438.42 537.03 L438.72 537.07 L439.03 537.10 L439.33 537.12 L439.63 537.14 L439.94 537.15 Z" fill="#6a98d8" fill-opacity="0.36" stroke="#6a98d8" stroke-opacity="1.00" stroke-width="1.10"/>
<path d="M425.39 537.20 L425.39 537.14 L425.69 537.05 L425.99 536.87 L426.29 536.51 L426.59 535.84 L426.89 534.68 L427.19 532.82 L427.50 530.04 L427.80 526.19 L428.10 521.25 L428.40 515.46 L428.70 509.21 L429.00 503.16 L429.30 497.98 L429.60 494.34 L429.90 492.62 L430.00 492.50 L430.20 492.93 L430.50 495.10 L430.80 498.68 L431.10 503.12 L431.40 507.93 L431.70 512.63 L432.00 516.97 L432.30 520.76 L432.61 523.98 L432.90 526.63 L433.21 528.79 L433.51 530.52 L433.81 531.90 L434.11 533.00 L434.41 533.87 L434.71 534.56 L435.01 535.11 L435.31 535.54 L435.61 535.89 L435.91 536.16 L436.21 536.38 L436.51 536.55 L436.81 536.68 L437.11 536.79 L437.41 536.88 L437.71 536.94 L438.01 537.00 L438.31 537.04 L438.62 537.07 L438.92 537.10 L439.22 537.12 L439.52 537.14 L439.82 537.15 L440.12 537.16 L440.42 537.17 Z" fill="#f4a450" fill-opacity="0.36" stroke="#f4a450" stroke-opacity="1.00" stroke-width="1.10"/>
<path d="M431.68 537.20 L431.68 537.08 L431.98 536.89 L432.29 536.46 L432.59 535.57 L432.89 533.88 L433.20 530.92 L433.50 526.14 L433.80 519.09 L434.11 509.52 L434.41 497.77 L434.71 484.68 L435.02 471.66 L435.32 460.47 L435.62 452.63 L435.93 449.14 L436.00 449.00 L436.23 450.26 L436.53 455.39 L436.84 463.45 L437.14 473.14 L437.44 483.20 L437.75 492.75 L438.05 501.28 L438.35 508.52 L438.66 514.47 L438.96 519.30 L439.26 523.12 L439.57 526.14 L439.87 528.53 L440.17 530.40 L440.48 531.86 L440.78 533.02 L441.08 533.92 L441.39 534.63 L441.69 535.18 L441.99 535.62 L442.30 535.96 L442.60 536.23 L442.90 536.44 L443.21 536.60 L443.51 536.73 L443.81 536.83 L444.12 536.91 L444.42 536.97 L444.72 537.02 L445.03 537.06 L445.33 537.09 L445.63 537.11 L445.94 537.13 Z" fill="#62bc78" fill-opacity="0.36" stroke="#62bc78" stroke-opacity="1.00" stroke-width="1.10"/>
<path d="M427.36 537.20 L427.36 537.16 L427.66 537.13 L427.96 537.09 L428.26 537.03 L428.56 536.94 L428.86 536.81 L429.16 536.62 L429.46 536.35 L429.76 535.99 L430.06 535.50 L430.36 534.85 L430.66 534.02 L430.96 532.97 L431.26 531.67 L431.56 530.10 L431.86 528.25 L432.16 526.10 L432.46 523.69 L432.76 521.01 L433.06 518.15 L433.36 515.16 L433.66 512.12 L433.96 509.14 L434.26 506.30 L434.56 503.72 L434.86 501.50 L435.16 499.70 L435.46 498.42 L435.76 497.68 L436.00 497.50 L436.06 497.51 L436.36 497.89 L436.66 498.79 L436.96 500.16 L437.26 501.93 L437.56 504.01 L437.87 506.31 L438.17 508.76 L438.46 511.27 L438.76 513.78 L439.06 516.22 L439.37 518.55 L439.67 520.74 L439.97 522.75 L440.27 524.58 L440.57 526.24 L440.87 527.71 L441.17 529.01 L441.47 530.15 L441.77 531.15 L442.07 532.01 L442.37 532.75 L442.67 533.39 L442.97 533.95 L443.27 534.42 L443.57 534.83 L443.87 535.17 L444.17 535.47 L444.47 535.72 L444.77 535.94 L445.07 536.12 L445.37 536.28 L445.67 536.41 L445.97 536.53 L446.27 536.63 L446.57 536.71 L446.87 536.78 L447.17 536.84 L447.47 536.90 L447.77 536.94 L448.07 536.98 L448.37 537.01 L448.67 537.04 L448.97 537.06 L449.27 537.08 L449.57 537.10 L449.87 537.11 L450.17 537.13 L450.47 537.14 L450.77 537.15 L451.07 537.15 L451.37 537.16 L451.67 537.17 L451.97 537.17 L452.27 537.18 L452.57 537.18 L452.87 537.18 L453.17 537.18 Z" fill="#50a8a8" fill-opacity="0.36" stroke="#50a8a8" stroke-opacity="1.00" stroke-width="1.10"/>
<path d="M430.82 537.20 L430.82 537.14 L431.12 537.06 L431.42 536.91 L431.72 536.63 L432.02 536.13 L432.32 535.29 L432.62 533.95 L432.93 531.93 L433.23 529.09 L433.53 525.31 L433.83 520.59 L434.13 515.08 L434.43 509.04 L434.73 502.99 L435.03 497.45 L435.33 492.94 L435.64 489.91 L435.94 488.64 L436.00 488.60 L436.24 489.15 L436.54 491.28 L436.84 494.69 L437.14 498.98 L437.44 503.68 L437.74 508.42 L438.05 512.94 L438.35 517.05 L438.65 520.64 L438.95 523.69 L439.25 526.25 L439.55 528.35 L439.85 530.07 L440.15 531.46 L440.45 532.59 L440.76 533.49 L441.06 534.22 L441.36 534.80 L441.66 535.27 L441.96 535.65 L442.26 535.96 L442.56 536.20 L442.87 536.40 L443.17 536.55 L443.47 536.68 L443.77 536.78 L444.07 536.87 L444.37 536.93 L444.67 536.98 L444.97 537.03 L445.27 537.06 L445.58 537.09 L445.88 537.11 L446.18 537.13 L446.48 537.14 L446.78 537.15 L447.08 537.16 L447.38 537.17 Z" fill="#8a7848" fill-opacity="0.36" stroke="#8a7848" stroke-opacity="1.00" stroke-width="1.10"/>
<path d="M435.08 537.20 L435.08 537.10 L435.38 536.95 L435.69 536.60 L435.99 535.88 L436.29 534.52 L436.60 532.13 L436.90 528.28 L437.20 522.58 L437.51 514.85 L437.81 505.37 L438.11 494.81 L438.42 484.29 L438.72 475.26 L439.02 468.93 L439.33 466.12 L439.40 466.00 L439.63 467.01 L439.93 471.16 L440.24 477.66 L440.54 485.49 L440.84 493.61 L441.15 501.32 L441.45 508.21 L441.75 514.04 L442.06 518.85 L442.36 522.75 L442.66 525.83 L442.97 528.27 L443.27 530.20 L443.57 531.71 L443.88 532.89 L444.18 533.82 L444.48 534.55 L444.79 535.12 L445.09 535.57 L445.39 535.92 L445.70 536.20 L446.00 536.41 L446.30 536.58 L446.61 536.72 L446.91 536.82 L447.21 536.90 L447.52 536.97 L447.82 537.02 L448.12 537.06 L448.43 537.09 L448.73 537.11 L449.03 537.13 L449.34 537.15 Z" fill="#6a6a70" fill-opacity="0.36" stroke="#6a6a70" stroke-opacity="1.00" stroke-width="1.10"/>
<path d="M439.60 537.20 L439.60 537.04 L439.91 536.82 L440.21 536.38 L440.51 535.52 L440.82 533.95 L441.12 531.26 L441.43 526.95 L441.73 520.52 L442.03 511.49 L442.34 499.69 L442.64 485.38 L442.95 469.33 L443.25 452.88 L443.55 437.55 L443.86 425.08 L444.16 416.84 L444.46 413.63 L444.50 413.60 L444.77 415.54 L445.07 421.97 L445.38 431.82 L445.68 443.78 L445.98 456.53 L446.29 469.10 L446.59 480.74 L446.89 491.02 L447.20 499.80 L447.50 507.09 L447.81 513.09 L448.11 517.94 L448.41 521.84 L448.72 524.96 L449.02 527.44 L449.32 529.43 L449.63 531.01 L449.93 532.27 L450.24 533.27 L450.54 534.07 L450.84 534.71 L451.15 535.22 L451.45 535.62 L451.75 535.94 L452.06 536.20 L452.36 536.40 L452.67 536.57 L452.97 536.69 L453.27 536.80 L453.58 536.88 L453.88 536.94 L454.19 537.00 L454.49 537.04 L454.79 537.07 L455.10 537.10 L455.40 537.12 Z" fill="#b0486a" fill-opacity="0.36" stroke="#b0486a" stroke-opacity="1.00" stroke-width="1.10"/>
<path d="M439.60 537.20 L439.60 537.09 L439.91 536.94 L440.21 536.63 L440.51 536.03 L440.82 534.94 L441.12 533.08 L441.43 530.09 L441.73 525.62 L442.03 519.35 L442.34 511.16 L442.64 501.23 L442.95 490.08 L443.25 478.67 L443.55 468.03 L443.86 459.37 L444.16 453.65 L444.46 451.42 L444.50 451.40 L444.77 452.75 L445.07 457.21 L445.38 464.05 L445.68 472.35 L445.98 481.20 L446.29 489.93 L446.59 498.00 L446.89 505.14 L447.20 511.24 L447.50 516.30 L447.81 520.46 L448.11 523.83 L448.41 526.54 L448.72 528.70 L449.02 530.43 L449.32 531.81 L449.63 532.91 L449.93 533.78 L450.24 534.47 L450.54 535.03 L450.84 535.47 L451.15 535.82 L451.45 536.10 L451.75 536.33 L452.06 536.50 L452.36 536.65 L452.67 536.76 L452.97 536.85 L453.27 536.92 L453.58 536.98 L453.88 537.02 L454.19 537.06 L454.49 537.09 L454.79 537.11 L455.10 537.13 L455.40 537.14 Z" fill="#8a7848" fill-opacity="0.36" stroke="#8a7848" stroke-opacity="1.00" stroke-width="1.10"/>
<path d="M450.38 537.20 L450.38 537.12 L450.68 537.00 L450.99 536.73 L451.29 536.18 L451.59 535.12 L451.90 533.25 L452.20 530.26 L452.50 525.83 L452.81 519.81 L453.11 512.43 L453.41 504.21 L453.72 496.03 L454.02 489.00 L454.32 484.08 L454.63 481.89 L454.70 481.80 L454.93 482.59 L455.23 485.82 L455.54 490.87 L455.84 496.96 L456.14 503.28 L456.45 509.28 L456.75 514.64 L457.05 519.18 L457.36 522.93 L457.66 525.95 L457.96 528.36 L458.27 530.26 L458.57 531.75 L458.87 532.93 L459.18 533.85 L459.48 534.57 L459.78 535.14 L460.09 535.58 L460.39 535.93 L460.69 536.21 L461.00 536.42 L461.30 536.59 L461.60 536.72 L461.91 536.82 L462.21 536.91 L462.51 536.97 L462.82 537.02 L463.12 537.06 L463.42 537.09 L463.73 537.11 L464.03 537.13 L464.33 537.15 L464.64 537.16 Z" fill="#6a98d8" fill-opacity="0.36" stroke="#6a98d8" stroke-opacity="1.00" stroke-width="1.10"/>
<path d="M450.38 537.20 L450.38 537.17 L450.68 537.11 L450.99 537.00 L451.29 536.75 L451.59 536.29 L451.90 535.48 L452.20 534.17 L452.50 532.23 L452.81 529.60 L453.11 526.38 L453.41 522.79 L453.72 519.22 L454.02 516.15 L454.32 514.00 L454.63 513.04 L454.70 513.00 L454.93 513.34 L455.23 514.75 L455.54 516.96 L455.84 519.62 L456.14 522.38 L456.45 525.00 L456.75 527.35 L457.05 529.33 L457.36 530.96 L457.66 532.29 L457.96 533.34 L458.27 534.17 L458.57 534.82 L458.87 535.33 L459.18 535.74 L459.48 536.05 L459.78 536.30 L460.09 536.49 L460.39 536.65 L460.69 536.77 L461.00 536.86 L461.30 536.93 L461.60 536.99 L461.91 537.04 L462.21 537.07 L462.51 537.10 L462.82 537.12 L463.12 537.14 L463.42 537.15 L463.73 537.16 L464.03 537.17 L464.33 537.18 L464.64 537.18 Z" fill="#50a8a8" fill-opacity="0.36" stroke="#50a8a8" stroke-opacity="1.00" stroke-width="1.10"/>
<path d="M453.99 537.20 L453.99 537.10 L454.29 536.96 L454.59 536.65 L454.89 536.04 L455.19 534.92 L455.50 532.97 L455.80 529.85 L456.10 525.18 L456.40 518.73 L456.70 510.45 L457.00 500.72 L457.30 490.23 L457.60 480.09 L457.90 471.40 L458.20 465.28 L458.50 462.39 L458.60 462.20 L458.80 462.93 L459.10 466.56 L459.40 472.57 L459.70 480.02 L460.00 488.08 L460.30 495.98 L460.60 503.26 L460.90 509.62 L461.20 515.03 L461.50 519.47 L461.81 523.09 L462.11 525.99 L462.41 528.31 L462.71 530.15 L463.01 531.62 L463.31 532.77 L463.61 533.69 L463.91 534.42 L464.21 535.00 L464.51 535.46 L464.81 535.82 L465.11 536.11 L465.41 536.33 L465.71 536.51 L466.01 536.66 L466.31 536.77 L466.61 536.86 L466.92 536.93 L467.21 536.99 L467.52 537.03 L467.82 537.07 L468.12 537.09 L468.42 537.12 L468.72 537.13 L469.02 537.15 Z" fill="#62bc78" fill-opacity="0.36" stroke="#62bc78" stroke-opacity="1.00" stroke-width="1.10"/>
<path d="M458.69 537.20 L458.69 537.12 L458.99 537.02 L459.29 536.79 L459.59 536.34 L459.89 535.50 L460.19 534.05 L460.50 531.72 L460.80 528.22 L461.10 523.41 L461.40 517.22 L461.70 509.97 L462.00 502.13 L462.30 494.55 L462.60 488.07 L462.90 483.50 L463.20 481.35 L463.30 481.20 L463.50 481.74 L463.80 484.45 L464.10 488.94 L464.40 494.51 L464.70 500.53 L465.00 506.42 L465.30 511.86 L465.60 516.61 L465.90 520.64 L466.20 523.96 L466.51 526.67 L466.81 528.83 L467.11 530.56 L467.41 531.94 L467.71 533.03 L468.01 533.90 L468.31 534.58 L468.61 535.13 L468.91 535.56 L469.21 535.90 L469.51 536.17 L469.81 536.38 L470.11 536.55 L470.41 536.69 L470.71 536.79 L471.01 536.88 L471.31 536.94 L471.62 537.00 L471.92 537.04 L472.22 537.07 L472.52 537.10 L472.82 537.12 L473.12 537.14 L473.42 537.15 L473.72 537.16 Z" fill="#f4a450" fill-opacity="0.36" stroke="#f4a450" stroke-opacity="1.00" stroke-width="1.10"/>
<path d="M460.29 537.20 L460.29 536.98 L460.59 536.66 L460.89 535.99 L461.19 534.66 L461.49 532.19 L461.80 527.91 L462.10 521.05 L462.40 510.77 L462.70 496.59 L463.00 478.38 L463.30 457.00 L463.60 433.93 L463.90 411.62 L464.20 392.53 L464.50 379.08 L464.80 372.73 L464.90 372.30 L465.10 373.90 L465.40 381.88 L465.70 395.09 L466.00 411.48 L466.30 429.21 L466.60 446.56 L466.90 462.58 L467.20 476.57 L467.50 488.45 L467.81 498.22 L468.11 506.19 L468.41 512.56 L468.71 517.66 L469.01 521.71 L469.31 524.92 L469.61 527.47 L469.91 529.49 L470.21 531.09 L470.51 532.36 L470.81 533.36 L471.11 534.16 L471.41 534.79 L471.71 535.29 L472.01 535.69 L472.31 536.00 L472.61 536.25 L472.91 536.45 L473.21 536.60 L473.51 536.73 L473.82 536.83 L474.12 536.90 L474.42 536.97 L474.72 537.01 L475.02 537.05 L475.32 537.08 Z" fill="#6a6a70" fill-opacity="0.36" stroke="#6a6a70" stroke-opacity="1.00" stroke-width="1.10"/>
<path d="M460.39 537.20 L460.39 537.04 L460.69 536.82 L460.99 536.36 L461.29 535.42 L461.59 533.70 L461.89 530.70 L462.19 525.91 L462.50 518.72 L462.80 508.80 L463.10 496.07 L463.40 481.13 L463.70 465.00 L464.00 449.40 L464.30 436.04 L464.60 426.64 L464.90 422.20 L465.00 421.90 L465.20 423.02 L465.50 428.60 L465.80 437.84 L466.10 449.30 L466.40 461.69 L466.70 473.82 L467.00 485.02 L467.30 494.81 L467.61 503.11 L467.90 509.95 L468.21 515.51 L468.51 519.97 L468.81 523.54 L469.11 526.37 L469.41 528.62 L469.71 530.40 L470.01 531.81 L470.31 532.93 L470.61 533.82 L470.91 534.52 L471.21 535.08 L471.51 535.52 L471.81 535.87 L472.11 536.14 L472.41 536.36 L472.71 536.54 L473.01 536.67 L473.31 536.78 L473.62 536.87 L473.92 536.94 L474.22 536.99 L474.52 537.04 L474.82 537.07 L475.12 537.10 L475.42 537.12 Z" fill="#a86cb8" fill-opacity="0.36" stroke="#a86cb8" stroke-opacity="1.00" stroke-width="1.10"/>
<path d="M480.82 537.20 L480.82 537.11 L481.12 537.00 L481.42 536.78 L481.72 536.36 L482.02 535.62 L482.32 534.37 L482.62 532.39 L482.93 529.40 L483.23 525.20 L483.53 519.61 L483.83 512.63 L484.13 504.47 L484.43 495.55 L484.73 486.60 L485.03 478.39 L485.33 471.72 L485.64 467.24 L485.94 465.36 L486.00 465.30 L486.24 466.12 L486.54 469.27 L486.84 474.31 L487.14 480.65 L487.44 487.60 L487.74 494.63 L488.05 501.31 L488.35 507.39 L488.65 512.69 L488.95 517.22 L489.25 521.00 L489.55 524.11 L489.85 526.65 L490.15 528.71 L490.45 530.37 L490.76 531.71 L491.06 532.79 L491.36 533.66 L491.66 534.35 L491.96 534.91 L492.26 535.36 L492.56 535.72 L492.87 536.01 L493.17 536.25 L493.47 536.43 L493.77 536.58 L494.07 536.70 L494.37 536.80 L494.67 536.88 L494.97 536.94 L495.27 536.99 L495.58 537.03 L495.88 537.07 L496.18 537.09 L496.48 537.11 L496.78 537.13 L497.08 537.14 L497.38 537.16 Z" fill="#62bc78" fill-opacity="0.36" stroke="#62bc78" stroke-opacity="1.00" stroke-width="1.10"/>
<path d="M480.82 537.20 L480.82 537.15 L481.12 537.09 L481.42 536.98 L481.72 536.76 L482.02 536.37 L482.32 535.71 L482.62 534.67 L482.93 533.10 L483.23 530.89 L483.53 527.95 L483.83 524.28 L484.13 519.99 L484.43 515.30 L484.73 510.60 L485.03 506.28 L485.33 502.78 L485.64 500.42 L485.94 499.43 L486.00 499.40 L486.24 499.83 L486.54 501.49 L486.84 504.14 L487.14 507.47 L487.44 511.13 L487.74 514.82 L488.05 518.33 L488.35 521.53 L488.65 524.32 L488.95 526.69 L489.25 528.68 L489.55 530.32 L489.85 531.66 L490.15 532.74 L490.45 533.61 L490.76 534.31 L491.06 534.88 L491.36 535.34 L491.66 535.70 L491.96 536.00 L492.26 536.23 L492.56 536.42 L492.87 536.58 L493.17 536.70 L493.47 536.80 L493.77 536.88 L494.07 536.94 L494.37 536.99 L494.67 537.03 L494.97 537.06 L495.27 537.09 L495.58 537.11 L495.88 537.13 L496.18 537.14 L496.48 537.15 L496.78 537.16 L497.08 537.17 L497.38 537.18 Z" fill="#ee6070" fill-opacity="0.36" stroke="#ee6070" stroke-opacity="1.00" stroke-width="1.10"/>
<path d="M480.82 537.20 L480.82 537.18 L481.12 537.15 L481.42 537.09 L481.72 536.97 L482.02 536.78 L482.32 536.44 L482.62 535.91 L482.93 535.12 L483.23 534.00 L483.53 532.50 L483.83 530.64 L484.13 528.46 L484.43 526.08 L484.73 523.69 L485.03 521.49 L485.33 519.71 L485.64 518.52 L485.94 518.01 L486.00 518.00 L486.24 518.22 L486.54 519.06 L486.84 520.41 L487.14 522.10 L487.44 523.96 L487.74 525.83 L488.05 527.62 L488.35 529.24 L488.65 530.66 L488.95 531.86 L489.25 532.87 L489.55 533.70 L489.85 534.38 L490.15 534.93 L490.45 535.38 L490.76 535.73 L491.06 536.02 L491.36 536.25 L491.66 536.44 L491.96 536.59 L492.26 536.71 L492.56 536.81 L492.87 536.88 L493.17 536.95 L493.47 537.00 L493.77 537.04 L494.07 537.07 L494.37 537.09 L494.67 537.11 L494.97 537.13 L495.27 537.14 L495.58 537.16 L495.88 537.16 L496.18 537.17 L496.48 537.18 L496.78 537.18 L497.08 537.19 L497.38 537.19 Z" fill="#6a6a70" fill-opacity="0.36" stroke="#6a6a70" stroke-opacity="1.00" stroke-width="1.10"/>
<path d="M491.22 537.20 L491.22 537.16 L491.52 537.11 L491.82 537.02 L492.12 536.84 L492.42 536.53 L492.72 535.99 L493.02 535.15 L493.32 533.88 L493.63 532.09 L493.93 529.71 L494.23 526.74 L494.53 523.27 L494.83 519.47 L495.13 515.66 L495.43 512.17 L495.73 509.33 L496.04 507.42 L496.34 506.62 L496.40 506.60 L496.64 506.95 L496.94 508.29 L497.24 510.44 L497.54 513.13 L497.84 516.09 L498.14 519.08 L498.44 521.92 L498.75 524.51 L499.05 526.77 L499.35 528.70 L499.65 530.30 L499.95 531.63 L500.25 532.71 L500.55 533.59 L500.86 534.29 L501.16 534.86 L501.46 535.32 L501.76 535.69 L502.06 535.99 L502.36 536.23 L502.66 536.42 L502.96 536.57 L503.26 536.69 L503.57 536.79 L503.87 536.87 L504.17 536.94 L504.47 536.99 L504.77 537.03 L505.07 537.06 L505.37 537.09 L505.68 537.11 L505.98 537.13 L506.28 537.14 L506.58 537.15 L506.88 537.16 L507.18 537.17 L507.48 537.18 L507.78 537.18 Z" fill="#b0486a" fill-opacity="0.36" stroke="#b0486a" stroke-opacity="1.00" stroke-width="1.10"/>
<path d="M491.22 537.20 L491.22 537.17 L491.52 537.13 L491.82 537.05 L492.12 536.90 L492.42 536.64 L492.72 536.21 L493.02 535.51 L493.32 534.47 L493.63 532.99 L493.93 531.04 L494.23 528.59 L494.53 525.73 L494.83 522.60 L495.13 519.46 L495.43 516.59 L495.73 514.25 L496.04 512.68 L496.34 512.02 L496.40 512.00 L496.64 512.29 L496.94 513.39 L497.24 515.16 L497.54 517.38 L497.84 519.82 L498.14 522.28 L498.44 524.62 L498.75 526.75 L499.05 528.61 L499.35 530.20 L499.65 531.52 L499.95 532.61 L500.25 533.50 L500.55 534.22 L500.86 534.81 L501.16 535.28 L501.46 535.65 L501.76 535.96 L502.06 536.20 L502.36 536.40 L502.66 536.56 L502.96 536.68 L503.26 536.78 L503.57 536.87 L503.87 536.93 L504.17 536.98 L504.47 537.03 L504.77 537.06 L505.07 537.09 L505.37 537.11 L505.68 537.13 L505.98 537.14 L506.28 537.15 L506.58 537.16 L506.88 537.17 L507.18 537.18 L507.48 537.18 L507.78 537.18 Z" fill="#a86cb8" fill-opacity="0.36" stroke="#a86cb8" stroke-opacity="1.00" stroke-width="1.10"/>
<path d="M503.09 537.20 L503.09 537.02 L503.39 536.77 L503.69 536.23 L503.99 535.15 L504.29 533.15 L504.60 529.68 L504.89 524.13 L505.20 515.82 L505.50 504.34 L505.80 489.61 L506.10 472.32 L506.40 453.66 L506.70 435.61 L507.00 420.16 L507.30 409.29 L507.60 404.15 L507.70 403.80 L507.90 405.10 L508.20 411.55 L508.50 422.24 L508.80 435.50 L509.10 449.84 L509.40 463.88 L509.70 476.83 L510.00 488.15 L510.31 497.76 L510.61 505.67 L510.91 512.11 L511.21 517.27 L511.51 521.39 L511.81 524.67 L512.11 527.27 L512.41 529.33 L512.71 530.96 L513.01 532.26 L513.31 533.29 L513.61 534.10 L513.91 534.74 L514.21 535.25 L514.51 535.66 L514.81 535.98 L515.11 536.23 L515.41 536.43 L515.71 536.59 L516.01 536.72 L516.32 536.82 L516.62 536.90 L516.92 536.96 L517.22 537.01 L517.52 537.05 L517.82 537.08 L518.12 537.11 Z" fill="#6a6a70" fill-opacity="0.36" stroke="#6a6a70" stroke-opacity="1.00" stroke-width="1.10"/>
<path d="M502.89 537.20 L502.89 537.12 L503.19 537.00 L503.49 536.76 L503.79 536.27 L504.09 535.37 L504.39 533.81 L504.69 531.30 L505.00 527.55 L505.30 522.37 L505.60 515.73 L505.90 507.92 L506.20 499.50 L506.50 491.36 L506.80 484.38 L507.10 479.48 L507.40 477.16 L507.50 477.00 L507.70 477.58 L508.00 480.50 L508.30 485.32 L508.60 491.30 L508.90 497.78 L509.20 504.11 L509.50 509.96 L509.80 515.07 L510.11 519.40 L510.40 522.97 L510.71 525.88 L511.01 528.20 L511.31 530.07 L511.61 531.54 L511.91 532.72 L512.21 533.65 L512.51 534.39 L512.81 534.97 L513.11 535.43 L513.41 535.80 L513.71 536.09 L514.01 536.32 L514.31 536.50 L514.61 536.65 L514.91 536.76 L515.21 536.85 L515.51 536.93 L515.82 536.98 L516.12 537.03 L516.42 537.06 L516.72 537.09 L517.02 537.11 L517.32 537.13 L517.62 537.15 L517.92 537.16 Z" fill="#a06090" fill-opacity="0.36" stroke="#a06090" stroke-opacity="1.00" stroke-width="1.10"/>
<path d="M510.02 537.20 L510.02 537.12 L510.32 537.01 L510.62 536.81 L510.92 536.43 L511.22 535.76 L511.52 534.62 L511.82 532.82 L512.12 530.10 L512.43 526.27 L512.73 521.18 L513.03 514.82 L513.33 507.38 L513.63 499.25 L513.93 491.10 L514.23 483.62 L514.53 477.55 L514.84 473.46 L515.14 471.75 L515.20 471.70 L515.44 472.44 L515.74 475.32 L516.04 479.91 L516.34 485.69 L516.64 492.02 L516.94 498.42 L517.25 504.50 L517.55 510.04 L517.85 514.88 L518.15 519.00 L518.45 522.44 L518.75 525.27 L519.05 527.59 L519.35 529.47 L519.65 530.98 L519.96 532.20 L520.26 533.18 L520.56 533.97 L520.86 534.60 L521.16 535.11 L521.46 535.52 L521.76 535.85 L522.07 536.12 L522.37 536.33 L522.67 536.50 L522.97 536.64 L523.27 536.75 L523.57 536.84 L523.87 536.91 L524.17 536.97 L524.48 537.01 L524.78 537.05 L525.08 537.08 L525.38 537.10 L525.68 537.12 L525.98 537.14 L526.28 537.15 L526.58 537.16 Z" fill="#a86cb8" fill-opacity="0.36" stroke="#a86cb8" stroke-opacity="1.00" stroke-width="1.10"/>
<path d="M510.02 537.20 L510.02 537.17 L510.32 537.14 L510.62 537.07 L510.92 536.95 L511.22 536.72 L511.52 536.35 L511.82 535.75 L512.12 534.86 L512.43 533.60 L512.73 531.92 L513.03 529.82 L513.33 527.37 L513.63 524.69 L513.93 522.00 L514.23 519.53 L514.53 517.53 L514.84 516.18 L515.14 515.62 L515.20 515.60 L515.44 515.85 L515.74 516.79 L516.04 518.31 L516.34 520.21 L516.64 522.30 L516.94 524.41 L517.25 526.42 L517.55 528.24 L517.85 529.84 L518.15 531.20 L518.45 532.33 L518.75 533.27 L519.05 534.03 L519.35 534.65 L519.65 535.15 L519.96 535.55 L520.26 535.88 L520.56 536.14 L520.86 536.34 L521.16 536.51 L521.46 536.65 L521.76 536.76 L522.07 536.84 L522.37 536.91 L522.67 536.97 L522.97 537.01 L523.27 537.05 L523.57 537.08 L523.87 537.10 L524.17 537.12 L524.48 537.14 L524.78 537.15 L525.08 537.16 L525.38 537.17 L525.68 537.17 L525.98 537.18 L526.28 537.18 L526.58 537.19 Z" fill="#c86070" fill-opacity="0.36" stroke="#c86070" stroke-opacity="1.00" stroke-width="1.10"/>
<path d="M526.32 537.20 L526.32 537.13 L526.62 537.04 L526.92 536.87 L527.22 536.55 L527.52 535.98 L527.82 535.03 L528.12 533.50 L528.42 531.21 L528.73 527.99 L529.03 523.70 L529.33 518.34 L529.63 512.07 L529.93 505.22 L530.23 498.35 L530.53 492.05 L530.83 486.93 L531.14 483.49 L531.44 482.04 L531.50 482.00 L531.74 482.63 L532.04 485.05 L532.34 488.92 L532.64 493.79 L532.94 499.12 L533.24 504.52 L533.54 509.64 L533.85 514.31 L534.15 518.39 L534.45 521.86 L534.75 524.76 L535.05 527.15 L535.35 529.10 L535.65 530.68 L535.96 531.96 L536.26 532.99 L536.56 533.81 L536.86 534.48 L537.16 535.01 L537.46 535.44 L537.76 535.79 L538.06 536.07 L538.37 536.29 L538.67 536.47 L538.97 536.61 L539.27 536.73 L539.57 536.82 L539.87 536.89 L540.17 536.95 L540.47 537.00 L540.77 537.04 L541.08 537.07 L541.38 537.10 L541.68 537.12 L541.98 537.13 L542.28 537.15 L542.58 537.16 L542.88 537.17 Z" fill="#a86cb8" fill-opacity="0.36" stroke="#a86cb8" stroke-opacity="1.00" stroke-width="1.10"/>
<path d="M526.32 537.20 L526.32 537.14 L526.62 537.07 L526.92 536.93 L527.22 536.66 L527.52 536.18 L527.82 535.38 L528.12 534.11 L528.42 532.19 L528.73 529.49 L529.03 525.90 L529.33 521.41 L529.63 516.17 L529.93 510.43 L530.23 504.68 L530.53 499.41 L530.83 495.13 L531.14 492.24 L531.44 491.04 L531.50 491.00 L531.74 491.53 L532.04 493.55 L532.34 496.79 L532.64 500.87 L532.94 505.33 L533.24 509.85 L533.54 514.14 L533.85 518.04 L534.15 521.45 L534.45 524.36 L534.75 526.79 L535.05 528.79 L535.35 530.42 L535.65 531.75 L535.96 532.81 L536.26 533.67 L536.56 534.37 L536.86 534.92 L537.16 535.37 L537.46 535.73 L537.76 536.02 L538.06 536.25 L538.37 536.44 L538.67 536.59 L538.97 536.71 L539.27 536.80 L539.57 536.88 L539.87 536.94 L540.17 536.99 L540.47 537.03 L540.77 537.07 L541.08 537.09 L541.38 537.11 L541.68 537.13 L541.98 537.14 L542.28 537.16 L542.58 537.16 L542.88 537.17 Z" fill="#6a4a90" fill-opacity="0.36" stroke="#6a4a90" stroke-opacity="1.00" stroke-width="1.10"/>
<path d="M526.32 537.20 L526.32 537.17 L526.62 537.13 L526.92 537.06 L527.22 536.92 L527.52 536.67 L527.82 536.25 L528.12 535.58 L528.42 534.58 L528.73 533.16 L529.03 531.28 L529.33 528.93 L529.63 526.18 L529.93 523.18 L530.23 520.17 L530.53 517.40 L530.83 515.16 L531.14 513.65 L531.44 513.02 L531.50 513.00 L531.74 513.28 L532.04 514.34 L532.34 516.03 L532.64 518.17 L532.94 520.51 L533.24 522.87 L533.54 525.12 L533.85 527.17 L534.15 528.95 L534.45 530.47 L534.75 531.75 L535.05 532.79 L535.35 533.65 L535.65 534.34 L535.96 534.90 L536.26 535.35 L536.56 535.72 L536.86 536.01 L537.16 536.24 L537.46 536.43 L537.76 536.58 L538.06 536.70 L538.37 536.80 L538.67 536.88 L538.97 536.94 L539.27 536.99 L539.57 537.03 L539.87 537.07 L540.17 537.09 L540.47 537.11 L540.77 537.13 L541.08 537.14 L541.38 537.16 L541.68 537.16 L541.98 537.17 L542.28 537.18 L542.58 537.18 L542.88 537.18 Z" fill="#6a62b0" fill-opacity="0.36" stroke="#6a62b0" stroke-opacity="1.00" stroke-width="1.10"/>
<path d="M548.99 537.20 L548.99 537.06 L549.29 536.87 L549.59 536.46 L549.89 535.63 L550.19 534.11 L550.50 531.46 L550.79 527.22 L551.10 520.87 L551.40 512.10 L551.70 500.85 L552.00 487.64 L552.30 473.39 L552.60 459.60 L552.90 447.80 L553.20 439.49 L553.50 435.56 L553.60 435.30 L553.80 436.29 L554.10 441.22 L554.40 449.39 L554.70 459.51 L555.00 470.47 L555.30 481.19 L555.60 491.09 L555.90 499.73 L556.21 507.07 L556.50 513.11 L556.81 518.04 L557.11 521.97 L557.41 525.13 L557.71 527.63 L558.01 529.61 L558.31 531.19 L558.61 532.44 L558.91 533.42 L559.21 534.21 L559.51 534.83 L559.81 535.32 L560.11 535.71 L560.41 536.02 L560.71 536.27 L561.01 536.46 L561.31 536.61 L561.61 536.74 L561.91 536.83 L562.22 536.91 L562.52 536.97 L562.82 537.02 L563.12 537.05 L563.42 537.08 L563.72 537.11 L564.02 537.13 Z" fill="#b0486a" fill-opacity="0.36" stroke="#b0486a" stroke-opacity="1.00" stroke-width="1.10"/>
<path d="M548.99 537.20 L548.99 537.18 L549.29 537.14 L549.59 537.07 L549.89 536.93 L550.19 536.66 L550.50 536.20 L550.79 535.47 L551.10 534.36 L551.40 532.84 L551.70 530.89 L552.00 528.59 L552.30 526.12 L552.60 523.72 L552.90 521.67 L553.20 520.23 L553.50 519.55 L553.60 519.50 L553.80 519.67 L554.10 520.53 L554.40 521.95 L554.70 523.71 L555.00 525.61 L555.30 527.47 L555.60 529.19 L555.90 530.69 L556.21 531.97 L556.50 533.02 L556.81 533.87 L557.11 534.56 L557.41 535.10 L557.71 535.54 L558.01 535.88 L558.31 536.16 L558.61 536.37 L558.91 536.54 L559.21 536.68 L559.51 536.79 L559.81 536.87 L560.11 536.94 L560.41 537.00 L560.71 537.04 L561.01 537.07 L561.31 537.10 L561.61 537.12 L561.91 537.14 L562.22 537.15 L562.52 537.16 L562.82 537.17 L563.12 537.17 L563.42 537.18 L563.72 537.18 L564.02 537.19 Z" fill="#b0486a" fill-opacity="0.36" stroke="#b0486a" stroke-opacity="1.00" stroke-width="1.10"/>
<path d="M548.99 537.20 L548.99 537.18 L549.29 537.16 L549.59 537.11 L549.89 537.01 L550.19 536.82 L550.50 536.50 L550.79 535.98 L551.10 535.20 L551.40 534.12 L551.70 532.74 L552.00 531.12 L552.30 529.37 L552.60 527.68 L552.90 526.23 L553.20 525.21 L553.50 524.73 L553.60 524.70 L553.80 524.82 L554.10 525.43 L554.40 526.43 L554.70 527.67 L555.00 529.01 L555.30 530.33 L555.60 531.54 L555.90 532.60 L556.21 533.50 L556.50 534.25 L556.81 534.85 L557.11 535.33 L557.41 535.72 L557.71 536.03 L558.01 536.27 L558.31 536.46 L558.61 536.62 L558.91 536.74 L559.21 536.83 L559.51 536.91 L559.81 536.97 L560.11 537.02 L560.41 537.06 L560.71 537.09 L561.01 537.11 L561.31 537.13 L561.61 537.14 L561.91 537.15 L562.22 537.16 L562.52 537.17 L562.82 537.18 L563.12 537.18 L563.42 537.19 L563.72 537.19 L564.02 537.19 Z" fill="#62bc78" fill-opacity="0.36" stroke="#62bc78" stroke-opacity="1.00" stroke-width="1.10"/>
<path d="M555.97 537.20 L555.97 537.19 L556.27 537.17 L556.58 537.11 L556.89 537.00 L557.19 536.79 L557.50 536.41 L557.81 535.79 L558.11 534.90 L558.42 533.74 L558.73 532.39 L559.03 531.00 L559.34 529.80 L559.65 528.95 L559.95 528.61 L560.00 528.60 L560.26 528.77 L560.57 529.38 L560.87 530.27 L561.18 531.30 L561.49 532.34 L561.79 533.28 L562.10 534.10 L562.40 534.76 L562.71 535.30 L563.02 535.72 L563.32 536.05 L563.63 536.31 L563.94 536.51 L564.24 536.66 L564.55 536.79 L564.86 536.88 L565.16 536.95 L565.47 537.01 L565.78 537.05 L566.08 537.08 L566.39 537.11 L566.70 537.13 L567.00 537.15 L567.31 537.16 L567.62 537.17 L567.92 537.17 L568.23 537.18 L568.53 537.18 L568.84 537.19 L569.15 537.19 L569.45 537.19 Z" fill="#50a8a8" fill-opacity="0.36" stroke="#50a8a8" stroke-opacity="1.00" stroke-width="1.10"/>
<path d="M564.50 537.20 L564.50 536.97 L564.81 536.66 L565.11 536.03 L565.41 534.81 L565.72 532.57 L566.02 528.74 L566.33 522.61 L566.63 513.45 L566.93 500.59 L567.24 483.79 L567.54 463.41 L567.85 440.55 L568.15 417.13 L568.45 395.31 L568.76 377.54 L569.06 365.81 L569.37 361.25 L569.40 361.20 L569.67 363.96 L569.97 373.11 L570.28 387.14 L570.58 404.17 L570.88 422.33 L571.19 440.24 L571.49 456.80 L571.79 471.44 L572.10 483.94 L572.40 494.33 L572.71 502.87 L573.01 509.78 L573.31 515.33 L573.62 519.77 L573.92 523.31 L574.23 526.14 L574.53 528.39 L574.83 530.18 L575.14 531.61 L575.44 532.75 L575.74 533.66 L576.05 534.38 L576.35 534.95 L576.65 535.41 L576.96 535.77 L577.26 536.06 L577.57 536.30 L577.87 536.48 L578.17 536.63 L578.48 536.74 L578.78 536.84 L579.09 536.91 L579.39 536.97 L579.69 537.02 L580.00 537.05 L580.30 537.08 Z" fill="#a86cb8" fill-opacity="0.36" stroke="#a86cb8" stroke-opacity="1.00" stroke-width="1.10"/>
<path d="M564.40 537.20 L564.40 537.16 L564.71 537.11 L565.01 537.01 L565.32 536.82 L565.62 536.46 L565.92 535.85 L566.23 534.86 L566.53 533.39 L566.83 531.33 L567.14 528.64 L567.44 525.38 L567.75 521.71 L568.05 517.96 L568.35 514.46 L568.66 511.62 L568.96 509.74 L569.26 509.01 L569.30 509.00 L569.57 509.44 L569.87 510.91 L570.18 513.16 L570.48 515.89 L570.78 518.79 L571.09 521.66 L571.39 524.32 L571.70 526.66 L572.00 528.67 L572.30 530.33 L572.61 531.70 L572.91 532.81 L573.21 533.70 L573.52 534.41 L573.82 534.97 L574.12 535.43 L574.43 535.79 L574.73 536.08 L575.04 536.30 L575.34 536.49 L575.64 536.63 L575.95 536.75 L576.25 536.84 L576.55 536.91 L576.86 536.97 L577.16 537.02 L577.47 537.06 L577.77 537.08 L578.07 537.11 L578.38 537.13 L578.68 537.14 L578.99 537.15 L579.29 537.16 L579.59 537.17 L579.90 537.18 L580.20 537.18 Z" fill="#ee6070" fill-opacity="0.36" stroke="#ee6070" stroke-opacity="1.00" stroke-width="1.10"/>
<path d="M580.39 537.20 L580.39 536.87 L580.69 536.42 L580.99 535.44 L581.29 533.49 L581.59 529.89 L581.89 523.64 L582.20 513.63 L582.50 498.62 L582.80 477.92 L583.10 451.34 L583.40 420.14 L583.70 386.47 L584.00 353.90 L584.30 326.02 L584.60 306.40 L584.90 297.12 L585.00 296.50 L585.20 298.84 L585.50 310.49 L585.80 329.77 L586.10 353.70 L586.40 379.57 L586.70 404.90 L587.00 428.27 L587.30 448.70 L587.61 466.04 L587.90 480.31 L588.21 491.93 L588.51 501.23 L588.81 508.68 L589.11 514.58 L589.41 519.28 L589.71 523.00 L590.01 525.95 L590.31 528.28 L590.61 530.14 L590.91 531.60 L591.21 532.76 L591.51 533.69 L591.81 534.42 L592.11 534.99 L592.41 535.45 L592.71 535.82 L593.01 536.10 L593.32 536.33 L593.62 536.51 L593.92 536.65 L594.22 536.77 L594.52 536.86 L594.82 536.93 L595.12 536.98 L595.42 537.03 Z" fill="#f4a450" fill-opacity="0.36" stroke="#f4a450" stroke-opacity="1.00" stroke-width="1.10"/>
<path d="M580.10 537.20 L580.10 536.99 L580.41 536.71 L580.71 536.13 L581.01 535.02 L581.32 532.97 L581.62 529.48 L581.93 523.88 L582.23 515.52 L582.53 503.77 L582.84 488.43 L583.14 469.82 L583.45 448.95 L583.75 427.57 L584.05 407.64 L584.36 391.42 L584.66 380.71 L584.97 376.54 L585.00 376.50 L585.27 379.02 L585.57 387.38 L585.88 400.19 L586.18 415.74 L586.48 432.31 L586.79 448.66 L587.09 463.79 L587.39 477.15 L587.70 488.57 L588.00 498.05 L588.31 505.85 L588.61 512.16 L588.91 517.23 L589.22 521.29 L589.52 524.52 L589.83 527.10 L590.13 529.16 L590.43 530.79 L590.74 532.10 L591.04 533.14 L591.34 533.96 L591.65 534.62 L591.95 535.15 L592.25 535.56 L592.56 535.90 L592.86 536.16 L593.17 536.37 L593.47 536.54 L593.77 536.68 L594.08 536.78 L594.38 536.87 L594.69 536.94 L594.99 536.99 L595.29 537.03 L595.60 537.07 L595.90 537.09 Z" fill="#e08aa8" fill-opacity="0.36" stroke="#e08aa8" stroke-opacity="1.00" stroke-width="1.10"/>
<path d="M582.89 537.20 L582.89 537.10 L583.19 536.97 L583.49 536.68 L583.79 536.10 L584.09 535.04 L584.39 533.19 L584.70 530.23 L585.00 525.79 L585.30 519.66 L585.60 511.80 L585.90 502.57 L586.20 492.61 L586.50 482.98 L586.80 474.73 L587.10 468.93 L587.40 466.18 L587.50 466.00 L587.70 466.69 L588.00 470.14 L588.30 475.84 L588.60 482.92 L588.90 490.57 L589.20 498.06 L589.50 504.98 L589.80 511.02 L590.11 516.15 L590.40 520.37 L590.71 523.81 L591.01 526.56 L591.31 528.76 L591.61 530.51 L591.91 531.90 L592.21 533.00 L592.51 533.87 L592.81 534.56 L593.11 535.11 L593.41 535.54 L593.71 535.89 L594.01 536.16 L594.31 536.38 L594.61 536.55 L594.91 536.68 L595.21 536.79 L595.51 536.88 L595.82 536.94 L596.12 537.00 L596.42 537.04 L596.72 537.07 L597.02 537.10 L597.32 537.12 L597.62 537.14 L597.92 537.15 Z" fill="#e08aa8" fill-opacity="0.36" stroke="#e08aa8" stroke-opacity="1.00" stroke-width="1.10"/>
<path d="M589.28 537.20 L589.28 537.00 L589.58 536.68 L589.89 535.97 L590.19 534.52 L590.49 531.74 L590.80 526.85 L591.10 518.99 L591.40 507.37 L591.71 491.60 L592.01 472.24 L592.31 450.69 L592.62 429.22 L592.92 410.79 L593.22 397.87 L593.53 392.14 L593.60 391.90 L593.83 393.97 L594.13 402.43 L594.44 415.70 L594.74 431.67 L595.04 448.24 L595.35 463.98 L595.65 478.03 L595.95 489.95 L596.26 499.76 L596.56 507.70 L596.86 514.01 L597.17 518.99 L597.47 522.92 L597.77 525.99 L598.08 528.41 L598.38 530.31 L598.68 531.79 L598.99 532.96 L599.29 533.88 L599.59 534.59 L599.90 535.16 L600.20 535.60 L600.50 535.94 L600.81 536.21 L601.11 536.43 L601.41 536.59 L601.72 536.72 L602.02 536.83 L602.32 536.91 L602.63 536.97 L602.93 537.02 L603.23 537.06 L603.54 537.09 Z" fill="#6676be" fill-opacity="0.36" stroke="#6676be" stroke-opacity="1.00" stroke-width="1.10"/>
<path d="M589.28 537.20 L589.28 537.04 L589.58 536.79 L589.89 536.23 L590.19 535.06 L590.49 532.85 L590.80 528.96 L591.10 522.71 L591.40 513.47 L591.71 500.92 L592.01 485.51 L592.31 468.37 L592.62 451.29 L592.92 436.63 L593.22 426.35 L593.53 421.79 L593.60 421.60 L593.83 423.25 L594.13 429.98 L594.44 440.53 L594.74 453.24 L595.04 466.42 L595.35 478.94 L595.65 490.13 L595.95 499.60 L596.26 507.41 L596.56 513.73 L596.86 518.75 L597.17 522.71 L597.47 525.84 L597.77 528.28 L598.08 530.21 L598.38 531.72 L598.68 532.90 L598.99 533.83 L599.29 534.56 L599.59 535.13 L599.90 535.57 L600.20 535.92 L600.50 536.20 L600.81 536.42 L601.11 536.58 L601.41 536.72 L601.72 536.82 L602.02 536.90 L602.32 536.97 L602.63 537.02 L602.93 537.06 L603.23 537.09 L603.54 537.11 Z" fill="#6a4a90" fill-opacity="0.36" stroke="#6a4a90" stroke-opacity="1.00" stroke-width="1.10"/>
<path d="M594.08 537.20 L594.08 536.95 L594.38 536.57 L594.69 535.72 L594.99 533.96 L595.29 530.60 L595.60 524.69 L595.90 515.19 L596.20 501.15 L596.51 482.09 L596.81 458.69 L597.11 432.65 L597.42 406.71 L597.72 384.43 L598.02 368.82 L598.33 361.89 L598.40 361.60 L598.63 364.10 L598.93 374.33 L599.24 390.36 L599.54 409.66 L599.84 429.69 L600.15 448.71 L600.45 465.69 L600.75 480.09 L601.06 491.95 L601.36 501.55 L601.66 509.17 L601.97 515.19 L602.27 519.94 L602.57 523.66 L602.88 526.58 L603.18 528.87 L603.48 530.67 L603.79 532.08 L604.09 533.18 L604.39 534.05 L604.70 534.73 L605.00 535.26 L605.30 535.68 L605.61 536.01 L605.91 536.26 L606.21 536.47 L606.52 536.63 L606.82 536.75 L607.12 536.85 L607.43 536.92 L607.73 536.98 L608.03 537.03 L608.34 537.07 Z" fill="#6a98d8" fill-opacity="0.36" stroke="#6a98d8" stroke-opacity="1.00" stroke-width="1.10"/>
<path d="M594.58 537.20 L594.58 537.06 L594.88 536.84 L595.19 536.34 L595.49 535.32 L595.79 533.37 L596.10 529.94 L596.40 524.43 L596.70 516.28 L597.01 505.22 L597.31 491.64 L597.61 476.53 L597.92 461.48 L598.22 448.55 L598.52 439.49 L598.83 435.47 L598.90 435.30 L599.13 436.75 L599.43 442.69 L599.74 451.99 L600.04 463.19 L600.34 474.81 L600.65 485.85 L600.95 495.71 L601.25 504.06 L601.56 510.94 L601.86 516.51 L602.16 520.93 L602.47 524.43 L602.77 527.18 L603.07 529.34 L603.38 531.04 L603.68 532.37 L603.98 533.41 L604.29 534.23 L604.59 534.87 L604.89 535.37 L605.20 535.77 L605.50 536.08 L605.80 536.32 L606.11 536.51 L606.41 536.66 L606.71 536.77 L607.02 536.87 L607.32 536.94 L607.62 536.99 L607.93 537.04 L608.23 537.07 L608.53 537.10 L608.84 537.12 Z" fill="#50a8a8" fill-opacity="0.36" stroke="#50a8a8" stroke-opacity="1.00" stroke-width="1.10"/>
<path d="M597.18 537.20 L597.18 536.96 L597.48 536.58 L597.79 535.74 L598.09 534.01 L598.39 530.71 L598.70 524.89 L599.00 515.55 L599.30 501.74 L599.61 483.00 L599.91 459.99 L600.21 434.37 L600.52 408.86 L600.82 386.95 L601.12 371.60 L601.43 364.78 L601.50 364.50 L601.73 366.96 L602.03 377.02 L602.34 392.79 L602.64 411.77 L602.94 431.46 L603.25 450.17 L603.55 466.87 L603.85 481.03 L604.16 492.70 L604.46 502.14 L604.76 509.63 L605.07 515.55 L605.37 520.22 L605.67 523.88 L605.98 526.75 L606.28 529.01 L606.58 530.78 L606.89 532.16 L607.19 533.25 L607.49 534.10 L607.80 534.77 L608.10 535.29 L608.40 535.71 L608.71 536.03 L609.01 536.28 L609.31 536.48 L609.62 536.63 L609.92 536.76 L610.22 536.85 L610.53 536.93 L610.83 536.99 L611.13 537.03 L611.44 537.07 Z" fill="#62bc78" fill-opacity="0.36" stroke="#62bc78" stroke-opacity="1.00" stroke-width="1.10"/>
<path d="M596.79 537.20 L596.79 537.10 L597.09 536.97 L597.39 536.69 L597.69 536.12 L597.99 535.07 L598.29 533.25 L598.60 530.32 L598.90 525.95 L599.20 519.91 L599.50 512.16 L599.80 503.06 L600.10 493.24 L600.40 483.74 L600.70 475.61 L601.00 469.89 L601.30 467.18 L601.40 467.00 L601.60 467.68 L601.90 471.08 L602.20 476.70 L602.50 483.68 L602.80 491.23 L603.10 498.61 L603.40 505.43 L603.70 511.39 L604.00 516.45 L604.30 520.61 L604.61 524.00 L604.91 526.71 L605.21 528.88 L605.51 530.60 L605.81 531.97 L606.11 533.06 L606.41 533.92 L606.71 534.60 L607.01 535.14 L607.31 535.57 L607.61 535.91 L607.91 536.18 L608.21 536.39 L608.51 536.56 L608.81 536.69 L609.11 536.80 L609.41 536.88 L609.72 536.95 L610.01 537.00 L610.32 537.04 L610.62 537.07 L610.92 537.10 L611.22 537.12 L611.52 537.14 L611.82 537.15 Z" fill="#8a7848" fill-opacity="0.36" stroke="#8a7848" stroke-opacity="1.00" stroke-width="1.10"/>
<path d="M602.42 537.20 L602.42 537.16 L602.72 537.12 L603.02 537.03 L603.32 536.86 L603.62 536.55 L603.92 536.04 L604.22 535.23 L604.52 534.01 L604.83 532.29 L605.13 530.01 L605.43 527.15 L605.73 523.82 L606.03 520.17 L606.33 516.51 L606.63 513.15 L606.93 510.43 L607.24 508.59 L607.54 507.82 L607.60 507.80 L607.84 508.13 L608.14 509.42 L608.44 511.49 L608.74 514.08 L609.04 516.92 L609.34 519.79 L609.64 522.52 L609.95 525.01 L610.25 527.18 L610.55 529.03 L610.85 530.57 L611.15 531.85 L611.45 532.89 L611.75 533.73 L612.05 534.41 L612.36 534.96 L612.66 535.40 L612.96 535.75 L613.26 536.04 L613.56 536.26 L613.86 536.45 L614.16 536.60 L614.47 536.71 L614.77 536.81 L615.07 536.89 L615.37 536.95 L615.67 537.00 L615.97 537.04 L616.27 537.07 L616.57 537.09 L616.88 537.12 L617.18 537.13 L617.48 537.15 L617.78 537.16 L618.08 537.16 L618.38 537.17 L618.68 537.18 L618.98 537.18 Z" fill="#e08aa8" fill-opacity="0.36" stroke="#e08aa8" stroke-opacity="1.00" stroke-width="1.10"/>
<path d="M613.48 537.20 L613.48 536.85 L613.78 536.30 L614.09 535.07 L614.39 532.52 L614.69 527.68 L615.00 519.16 L615.30 505.46 L615.60 485.22 L615.91 457.73 L616.21 423.99 L616.51 386.44 L616.82 349.04 L617.12 316.92 L617.42 294.41 L617.73 284.42 L617.80 284.00 L618.03 287.60 L618.33 302.35 L618.64 325.47 L618.94 353.30 L619.24 382.18 L619.55 409.60 L619.85 434.09 L620.15 454.85 L620.46 471.96 L620.76 485.80 L621.06 496.78 L621.37 505.46 L621.67 512.31 L621.97 517.67 L622.28 521.88 L622.58 525.19 L622.88 527.78 L623.19 529.81 L623.49 531.41 L623.79 532.66 L624.10 533.64 L624.40 534.40 L624.70 535.01 L625.01 535.48 L625.31 535.85 L625.61 536.14 L625.92 536.37 L626.22 536.55 L626.52 536.69 L626.83 536.80 L627.13 536.89 L627.43 536.95 L627.74 537.01 Z" fill="#8db2e3" fill-opacity="0.36" stroke="#8db2e3" stroke-opacity="1.00" stroke-width="1.10"/>
<path d="M613.19 537.20 L613.19 536.91 L613.49 536.50 L613.79 535.63 L614.09 533.90 L614.39 530.69 L614.70 525.12 L615.00 516.20 L615.30 502.84 L615.60 484.39 L615.90 460.72 L616.20 432.93 L616.50 402.94 L616.80 373.93 L617.10 349.10 L617.40 331.62 L617.70 323.36 L617.80 322.80 L618.00 324.88 L618.30 335.26 L618.60 352.44 L618.90 373.75 L619.20 396.79 L619.50 419.35 L619.80 440.18 L620.10 458.37 L620.40 473.81 L620.71 486.52 L621.01 496.88 L621.31 505.16 L621.61 511.80 L621.91 517.05 L622.21 521.24 L622.51 524.55 L622.81 527.18 L623.11 529.26 L623.41 530.91 L623.71 532.21 L624.01 533.25 L624.31 534.07 L624.61 534.72 L624.91 535.24 L625.21 535.64 L625.51 535.97 L625.81 536.22 L626.12 536.43 L626.41 536.59 L626.72 536.71 L627.02 536.81 L627.32 536.89 L627.62 536.96 L627.92 537.01 L628.22 537.05 Z" fill="#50a8a8" fill-opacity="0.36" stroke="#50a8a8" stroke-opacity="1.00" stroke-width="1.10"/>
<path d="M615.69 537.20 L615.69 537.14 L615.99 537.06 L616.29 536.89 L616.59 536.55 L616.89 535.91 L617.20 534.81 L617.50 533.04 L617.80 530.39 L618.10 526.73 L618.40 522.04 L618.70 516.53 L619.00 510.59 L619.30 504.84 L619.60 499.91 L619.90 496.45 L620.20 494.81 L620.30 494.70 L620.50 495.11 L620.80 497.17 L621.10 500.57 L621.40 504.80 L621.70 509.37 L622.00 513.84 L622.30 517.97 L622.60 521.57 L622.90 524.64 L623.21 527.15 L623.51 529.21 L623.81 530.85 L624.11 532.16 L624.41 533.21 L624.71 534.04 L625.01 534.69 L625.31 535.21 L625.61 535.63 L625.91 535.95 L626.21 536.21 L626.51 536.42 L626.81 536.58 L627.11 536.71 L627.41 536.81 L627.71 536.89 L628.01 536.96 L628.31 537.01 L628.62 537.05 L628.91 537.08 L629.22 537.10 L629.52 537.12 L629.82 537.14 L630.12 537.15 L630.42 537.16 L630.72 537.17 Z" fill="#6676be" fill-opacity="0.36" stroke="#6676be" stroke-opacity="1.00" stroke-width="1.10"/>
<path d="M618.88 537.20 L618.88 536.93 L619.18 536.51 L619.49 535.56 L619.79 533.60 L620.09 529.88 L620.40 523.33 L620.70 512.79 L621.00 497.23 L621.31 476.09 L621.61 450.15 L621.91 421.27 L622.22 392.51 L622.52 367.81 L622.82 350.51 L623.13 342.82 L623.20 342.50 L623.43 345.27 L623.73 356.61 L624.04 374.39 L624.34 395.79 L624.64 417.99 L624.95 439.08 L625.25 457.92 L625.55 473.88 L625.86 487.03 L626.16 497.68 L626.46 506.12 L626.77 512.79 L627.07 518.06 L627.37 522.18 L627.68 525.42 L627.98 527.97 L628.28 529.96 L628.59 531.52 L628.89 532.75 L629.19 533.71 L629.50 534.46 L629.80 535.05 L630.10 535.52 L630.41 535.88 L630.71 536.16 L631.01 536.39 L631.32 536.56 L631.62 536.70 L631.92 536.81 L632.23 536.89 L632.53 536.96 L632.83 537.01 L633.14 537.05 Z" fill="#f4a450" fill-opacity="0.36" stroke="#f4a450" stroke-opacity="1.00" stroke-width="1.10"/>
<path d="M618.59 537.20 L618.59 537.10 L618.89 536.96 L619.19 536.67 L619.49 536.07 L619.79 534.98 L620.10 533.08 L620.39 530.03 L620.70 525.47 L621.00 519.17 L621.30 511.09 L621.60 501.60 L621.90 491.36 L622.20 481.46 L622.50 472.98 L622.80 467.01 L623.10 464.19 L623.20 464.00 L623.40 464.71 L623.70 468.25 L624.00 474.12 L624.30 481.39 L624.60 489.26 L624.90 496.97 L625.20 504.07 L625.50 510.29 L625.80 515.56 L626.11 519.90 L626.41 523.43 L626.71 526.26 L627.01 528.53 L627.31 530.32 L627.61 531.75 L627.91 532.88 L628.21 533.78 L628.51 534.49 L628.81 535.05 L629.11 535.50 L629.41 535.85 L629.71 536.13 L630.01 536.35 L630.31 536.53 L630.61 536.67 L630.91 536.78 L631.21 536.87 L631.51 536.94 L631.82 536.99 L632.12 537.03 L632.42 537.07 L632.72 537.10 L633.02 537.12 L633.32 537.13 L633.62 537.15 Z" fill="#8a7848" fill-opacity="0.36" stroke="#8a7848" stroke-opacity="1.00" stroke-width="1.10"/>
<path d="M623.39 537.20 L623.39 537.13 L623.69 537.03 L623.99 536.81 L624.29 536.39 L624.59 535.60 L624.89 534.23 L625.20 532.04 L625.50 528.75 L625.80 524.22 L626.10 518.40 L626.40 511.57 L626.70 504.20 L627.00 497.07 L627.30 490.96 L627.60 486.67 L627.90 484.64 L628.00 484.50 L628.20 485.01 L628.50 487.56 L628.80 491.78 L629.10 497.02 L629.40 502.69 L629.70 508.23 L630.00 513.35 L630.30 517.82 L630.61 521.62 L630.90 524.74 L631.21 527.29 L631.51 529.33 L631.81 530.96 L632.11 532.25 L632.41 533.28 L632.71 534.09 L633.01 534.74 L633.31 535.25 L633.61 535.65 L633.91 535.97 L634.21 536.23 L634.51 536.43 L634.81 536.59 L635.11 536.72 L635.41 536.82 L635.71 536.90 L636.01 536.96 L636.32 537.01 L636.62 537.05 L636.92 537.08 L637.22 537.11 L637.52 537.12 L637.82 537.14 L638.12 537.15 L638.42 537.16 Z" fill="#62bc78" fill-opacity="0.36" stroke="#62bc78" stroke-opacity="1.00" stroke-width="1.10"/>
<path d="M623.09 537.20 L623.09 537.15 L623.39 537.07 L623.69 536.90 L623.99 536.58 L624.29 535.97 L624.60 534.92 L624.89 533.24 L625.20 530.72 L625.50 527.25 L625.80 522.79 L626.10 517.55 L626.40 511.90 L626.70 506.43 L627.00 501.76 L627.30 498.46 L627.60 496.90 L627.70 496.80 L627.90 497.19 L628.20 499.15 L628.50 502.38 L628.80 506.40 L629.10 510.74 L629.40 514.99 L629.70 518.92 L630.00 522.35 L630.30 525.26 L630.61 527.65 L630.91 529.60 L631.21 531.16 L631.51 532.41 L631.81 533.40 L632.11 534.19 L632.41 534.82 L632.71 535.31 L633.01 535.70 L633.31 536.01 L633.61 536.26 L633.91 536.46 L634.21 536.61 L634.51 536.73 L634.81 536.83 L635.11 536.91 L635.41 536.97 L635.71 537.02 L636.01 537.05 L636.32 537.08 L636.62 537.11 L636.92 537.13 L637.22 537.14 L637.52 537.15 L637.82 537.16 L638.12 537.17 Z" fill="#8a7848" fill-opacity="0.36" stroke="#8a7848" stroke-opacity="1.00" stroke-width="1.10"/>
<path d="M630.58 537.20 L630.58 536.85 L630.88 536.31 L631.19 535.09 L631.49 532.58 L631.79 527.79 L632.10 519.37 L632.40 505.84 L632.70 485.83 L633.01 458.67 L633.31 425.33 L633.61 388.23 L633.92 351.27 L634.22 319.53 L634.52 297.29 L634.83 287.41 L634.90 287.00 L635.13 290.56 L635.43 305.13 L635.74 327.98 L636.04 355.48 L636.34 384.01 L636.65 411.11 L636.95 435.32 L637.25 455.83 L637.56 472.73 L637.86 486.41 L638.16 497.26 L638.47 505.84 L638.77 512.61 L639.07 517.90 L639.38 522.06 L639.68 525.34 L639.98 527.89 L640.29 529.90 L640.59 531.48 L640.89 532.71 L641.20 533.68 L641.50 534.44 L641.80 535.03 L642.11 535.50 L642.41 535.87 L642.71 536.16 L643.02 536.38 L643.32 536.56 L643.62 536.70 L643.93 536.80 L644.23 536.89 L644.53 536.96 L644.84 537.01 Z" fill="#62bc78" fill-opacity="0.36" stroke="#62bc78" stroke-opacity="1.00" stroke-width="1.10"/>
<path d="M630.39 537.20 L630.39 537.10 L630.69 536.97 L630.99 536.68 L631.29 536.10 L631.59 535.04 L631.89 533.19 L632.20 530.23 L632.50 525.79 L632.80 519.66 L633.10 511.80 L633.40 502.57 L633.70 492.61 L634.00 482.98 L634.30 474.73 L634.60 468.93 L634.90 466.18 L635.00 466.00 L635.20 466.69 L635.50 470.14 L635.80 475.84 L636.10 482.92 L636.40 490.57 L636.70 498.06 L637.00 504.98 L637.30 511.02 L637.61 516.15 L637.90 520.37 L638.21 523.81 L638.51 526.56 L638.81 528.76 L639.11 530.51 L639.41 531.90 L639.71 533.00 L640.01 533.87 L640.31 534.56 L640.61 535.11 L640.91 535.54 L641.21 535.89 L641.51 536.16 L641.81 536.38 L642.11 536.55 L642.41 536.68 L642.71 536.79 L643.01 536.88 L643.32 536.94 L643.62 537.00 L643.92 537.04 L644.22 537.07 L644.52 537.10 L644.82 537.12 L645.12 537.14 L645.42 537.15 Z" fill="#6676be" fill-opacity="0.36" stroke="#6676be" stroke-opacity="1.00" stroke-width="1.10"/>
<path d="M636.08 537.20 L636.08 536.67 L636.38 535.86 L636.69 534.03 L636.99 530.25 L637.29 523.05 L637.60 510.39 L637.90 490.03 L638.20 459.94 L638.51 419.10 L638.81 368.95 L639.11 313.15 L639.42 257.56 L639.72 209.82 L640.02 176.37 L640.33 161.52 L640.40 160.90 L640.63 166.26 L640.93 188.17 L641.24 222.54 L641.54 263.89 L641.84 306.81 L642.15 347.56 L642.45 383.97 L642.75 414.82 L643.06 440.24 L643.36 460.81 L643.66 477.13 L643.97 490.03 L644.27 500.21 L644.57 508.18 L644.88 514.43 L645.18 519.36 L645.48 523.20 L645.79 526.22 L646.09 528.59 L646.39 530.45 L646.70 531.90 L647.00 533.05 L647.30 533.94 L647.61 534.65 L647.91 535.20 L648.21 535.63 L648.52 535.97 L648.82 536.23 L649.12 536.44 L649.43 536.61 L649.73 536.73 L650.03 536.83 L650.34 536.91 Z" fill="#5a72c4" fill-opacity="0.36" stroke="#5a72c4" stroke-opacity="1.00" stroke-width="1.10"/>
<path d="M635.79 537.20 L635.79 536.89 L636.09 536.45 L636.39 535.53 L636.69 533.68 L636.99 530.25 L637.29 524.32 L637.60 514.80 L637.90 500.54 L638.20 480.87 L638.50 455.62 L638.80 425.97 L639.10 393.98 L639.40 363.04 L639.70 336.55 L640.00 317.91 L640.30 309.09 L640.40 308.50 L640.60 310.72 L640.90 321.79 L641.20 340.11 L641.50 362.84 L641.80 387.43 L642.10 411.49 L642.40 433.70 L642.70 453.11 L643.00 469.59 L643.30 483.14 L643.61 494.19 L643.91 503.03 L644.21 510.10 L644.51 515.71 L644.81 520.18 L645.11 523.70 L645.41 526.51 L645.71 528.73 L646.01 530.49 L646.31 531.88 L646.61 532.99 L646.91 533.86 L647.21 534.55 L647.51 535.10 L647.81 535.54 L648.11 535.88 L648.41 536.16 L648.72 536.37 L649.01 536.55 L649.32 536.68 L649.62 536.79 L649.92 536.87 L650.22 536.94 L650.52 537.00 L650.82 537.04 Z" fill="#6a98d8" fill-opacity="0.36" stroke="#6a98d8" stroke-opacity="1.00" stroke-width="1.10"/>
<path d="M636.19 537.20 L636.19 537.12 L636.49 537.01 L636.79 536.77 L637.09 536.29 L637.39 535.40 L637.70 533.85 L638.00 531.38 L638.30 527.68 L638.60 522.57 L638.90 516.01 L639.20 508.31 L639.50 500.00 L639.80 491.97 L640.10 485.09 L640.40 480.24 L640.70 477.95 L640.80 477.80 L641.00 478.38 L641.30 481.25 L641.60 486.01 L641.90 491.91 L642.20 498.30 L642.50 504.55 L642.80 510.32 L643.10 515.36 L643.40 519.64 L643.71 523.16 L644.01 526.03 L644.31 528.32 L644.61 530.16 L644.91 531.62 L645.21 532.78 L645.51 533.69 L645.81 534.42 L646.11 535.00 L646.41 535.46 L646.71 535.82 L647.01 536.11 L647.31 536.33 L647.61 536.51 L647.91 536.66 L648.21 536.77 L648.51 536.86 L648.81 536.93 L649.12 536.99 L649.41 537.03 L649.72 537.07 L650.02 537.09 L650.32 537.12 L650.62 537.13 L650.92 537.15 L651.22 537.16 Z" fill="#50a8a8" fill-opacity="0.36" stroke="#50a8a8" stroke-opacity="1.00" stroke-width="1.10"/>
<path d="M652.12 537.20 L652.12 537.19 L652.42 537.17 L652.72 537.15 L653.02 537.09 L653.32 537.00 L653.62 536.84 L653.92 536.58 L654.23 536.20 L654.53 535.66 L654.83 534.95 L655.13 534.06 L655.43 533.01 L655.73 531.87 L656.03 530.72 L656.33 529.67 L656.63 528.82 L656.94 528.25 L657.24 528.01 L657.30 528.00 L657.54 528.10 L657.84 528.51 L658.14 529.15 L658.44 529.96 L658.74 530.85 L659.04 531.75 L659.35 532.61 L659.65 533.39 L659.95 534.06 L660.25 534.64 L660.55 535.13 L660.85 535.52 L661.15 535.85 L661.45 536.11 L661.75 536.33 L662.06 536.50 L662.36 536.64 L662.66 536.75 L662.96 536.84 L663.26 536.91 L663.56 536.96 L663.86 537.01 L664.16 537.05 L664.47 537.08 L664.77 537.10 L665.07 537.12 L665.37 537.14 L665.67 537.15 L665.97 537.16 L666.27 537.17 L666.58 537.17 L666.88 537.18 L667.18 537.18 L667.48 537.19 L667.78 537.19 L668.08 537.19 L668.38 537.19 L668.68 537.19 Z" fill="#6a98d8" fill-opacity="0.36" stroke="#6a98d8" stroke-opacity="1.00" stroke-width="1.10"/>
<path d="M661.59 537.20 L661.59 537.17 L661.89 537.12 L662.19 537.01 L662.49 536.81 L662.79 536.42 L663.10 535.76 L663.39 534.69 L663.70 533.10 L664.00 530.89 L664.30 528.07 L664.60 524.75 L664.90 521.17 L665.20 517.70 L665.50 514.74 L665.80 512.65 L666.10 511.67 L666.20 511.60 L666.40 511.85 L666.70 513.09 L667.00 515.14 L667.30 517.68 L667.60 520.43 L667.90 523.13 L668.20 525.62 L668.50 527.79 L668.80 529.63 L669.11 531.15 L669.41 532.39 L669.71 533.37 L670.01 534.17 L670.31 534.79 L670.61 535.29 L670.91 535.69 L671.21 536.00 L671.51 536.25 L671.81 536.45 L672.11 536.60 L672.41 536.73 L672.71 536.83 L673.01 536.90 L673.31 536.97 L673.61 537.01 L673.91 537.05 L674.21 537.08 L674.51 537.11 L674.82 537.13 L675.12 537.14 L675.42 537.15 L675.72 537.16 L676.02 537.17 L676.32 537.18 L676.62 537.18 Z" fill="#a86cb8" fill-opacity="0.36" stroke="#a86cb8" stroke-opacity="1.00" stroke-width="1.10"/>
<path d="M661.59 537.20 L661.59 537.18 L661.89 537.16 L662.19 537.11 L662.49 537.00 L662.79 536.81 L663.10 536.47 L663.39 535.94 L663.70 535.13 L664.00 534.02 L664.30 532.60 L664.60 530.93 L664.90 529.12 L665.20 527.38 L665.50 525.88 L665.80 524.83 L666.10 524.33 L666.20 524.30 L666.40 524.43 L666.70 525.05 L667.00 526.08 L667.30 527.37 L667.60 528.75 L667.90 530.11 L668.20 531.36 L668.50 532.46 L668.80 533.39 L669.11 534.15 L669.41 534.77 L669.71 535.27 L670.01 535.67 L670.31 535.99 L670.61 536.24 L670.91 536.44 L671.21 536.60 L671.51 536.72 L671.81 536.82 L672.11 536.90 L672.41 536.96 L672.71 537.01 L673.01 537.05 L673.31 537.08 L673.61 537.11 L673.91 537.13 L674.21 537.14 L674.51 537.15 L674.82 537.16 L675.12 537.17 L675.42 537.18 L675.72 537.18 L676.02 537.19 L676.32 537.19 L676.62 537.19 Z" fill="#ee6070" fill-opacity="0.36" stroke="#ee6070" stroke-opacity="1.00" stroke-width="1.10"/>
<path d="M668.37 537.20 L668.37 536.77 L668.67 536.03 L668.98 534.27 L669.29 530.48 L669.59 523.05 L669.90 509.90 L670.21 488.71 L670.51 458.05 L670.82 417.95 L671.13 371.48 L671.43 323.80 L671.74 282.23 L672.05 253.22 L672.35 241.24 L672.40 241.00 L672.66 246.99 L672.97 267.72 L673.27 298.65 L673.58 334.14 L673.88 369.78 L674.19 402.26 L674.50 430.27 L674.80 453.26 L675.11 471.76 L675.42 486.31 L675.72 497.71 L676.03 506.56 L676.34 513.45 L676.64 518.77 L676.95 522.92 L677.26 526.12 L677.56 528.61 L677.87 530.54 L678.18 532.04 L678.48 533.20 L678.79 534.10 L679.10 534.79 L679.40 535.33 L679.71 535.75 L680.01 536.08 L680.32 536.33 L680.63 536.53 L680.93 536.68 L681.24 536.79 L681.55 536.89 L681.85 536.96 Z" fill="#6676be" fill-opacity="0.36" stroke="#6676be" stroke-opacity="1.00" stroke-width="1.10"/>
<path d="M668.97 537.20 L668.97 536.86 L669.27 536.28 L669.58 534.91 L669.89 531.94 L670.19 526.13 L670.50 515.85 L670.81 499.27 L671.11 475.29 L671.42 443.92 L671.73 407.57 L672.03 370.27 L672.34 337.76 L672.65 315.06 L672.95 305.69 L673.00 305.50 L673.26 310.18 L673.57 326.40 L673.87 350.60 L674.18 378.36 L674.49 406.24 L674.79 431.65 L675.10 453.55 L675.40 471.54 L675.71 486.01 L676.02 497.39 L676.32 506.31 L676.63 513.23 L676.94 518.62 L677.24 522.79 L677.55 526.03 L677.86 528.53 L678.16 530.48 L678.47 531.99 L678.78 533.16 L679.08 534.07 L679.39 534.77 L679.70 535.32 L680.00 535.74 L680.31 536.07 L680.62 536.32 L680.92 536.52 L681.23 536.67 L681.53 536.79 L681.84 536.88 L682.15 536.95 L682.45 537.01 Z" fill="#6a4a90" fill-opacity="0.15" stroke="#6a4a90" stroke-opacity="1.00" stroke-width="1.10"/>
<path d="M667.99 537.20 L667.99 537.09 L668.29 536.93 L668.59 536.60 L668.89 535.93 L669.19 534.69 L669.50 532.54 L669.79 529.10 L670.10 523.94 L670.40 516.83 L670.70 507.70 L671.00 496.98 L671.30 485.41 L671.60 474.22 L671.90 464.64 L672.20 457.90 L672.50 454.71 L672.60 454.50 L672.80 455.30 L673.10 459.31 L673.40 465.93 L673.70 474.15 L674.00 483.04 L674.30 491.74 L674.60 499.78 L674.90 506.79 L675.21 512.75 L675.50 517.65 L675.81 521.65 L676.11 524.84 L676.41 527.40 L676.71 529.43 L677.01 531.04 L677.31 532.32 L677.61 533.33 L677.91 534.14 L678.21 534.77 L678.51 535.28 L678.81 535.68 L679.11 535.99 L679.41 536.24 L679.71 536.44 L680.01 536.60 L680.31 536.72 L680.61 536.82 L680.91 536.90 L681.22 536.96 L681.52 537.01 L681.82 537.05 L682.12 537.08 L682.42 537.11 L682.72 537.13 L683.02 537.14 Z" fill="#50a8a8" fill-opacity="0.36" stroke="#50a8a8" stroke-opacity="1.00" stroke-width="1.10"/>
<path d="M679.08 537.20 L679.08 536.72 L679.38 535.99 L679.69 534.32 L679.99 530.90 L680.29 524.38 L680.60 512.90 L680.90 494.46 L681.20 467.19 L681.51 430.18 L681.81 384.74 L682.11 334.16 L682.42 283.79 L682.72 240.53 L683.02 210.22 L683.33 196.76 L683.40 196.20 L683.63 201.05 L683.93 220.91 L684.24 252.05 L684.54 289.53 L684.84 328.42 L685.15 365.35 L685.45 398.34 L685.75 426.30 L686.06 449.34 L686.36 467.98 L686.66 482.77 L686.97 494.45 L687.27 503.68 L687.57 510.90 L687.88 516.57 L688.18 521.03 L688.48 524.52 L688.79 527.25 L689.09 529.40 L689.39 531.08 L689.70 532.40 L690.00 533.44 L690.30 534.25 L690.61 534.89 L690.91 535.38 L691.21 535.78 L691.52 536.08 L691.82 536.32 L692.12 536.51 L692.43 536.66 L692.73 536.78 L693.03 536.87 L693.34 536.94 Z" fill="#8db2e3" fill-opacity="0.36" stroke="#8db2e3" stroke-opacity="1.00" stroke-width="1.10"/>
<path d="M678.59 537.20 L678.59 537.18 L678.89 537.15 L679.19 537.08 L679.49 536.95 L679.79 536.71 L680.10 536.29 L680.39 535.61 L680.70 534.60 L681.00 533.21 L681.30 531.42 L681.60 529.32 L681.90 527.06 L682.20 524.86 L682.50 522.99 L682.80 521.67 L683.10 521.04 L683.20 521.00 L683.40 521.16 L683.70 521.94 L684.00 523.24 L684.30 524.85 L684.60 526.59 L684.90 528.30 L685.20 529.87 L685.50 531.24 L685.80 532.41 L686.11 533.37 L686.41 534.15 L686.71 534.78 L687.01 535.28 L687.31 535.68 L687.61 535.99 L687.91 536.24 L688.21 536.44 L688.51 536.60 L688.81 536.72 L689.11 536.82 L689.41 536.90 L689.71 536.96 L690.01 537.01 L690.31 537.05 L690.61 537.08 L690.91 537.11 L691.21 537.13 L691.51 537.14 L691.82 537.15 L692.12 537.16 L692.42 537.17 L692.72 537.18 L693.02 537.18 L693.32 537.19 L693.62 537.19 Z" fill="#f4a450" fill-opacity="0.36" stroke="#f4a450" stroke-opacity="1.00" stroke-width="1.10"/>
<path d="M688.09 537.20 L688.09 537.08 L688.39 536.92 L688.69 536.57 L688.99 535.87 L689.29 534.58 L689.60 532.34 L689.89 528.76 L690.20 523.38 L690.50 515.97 L690.80 506.45 L691.10 495.28 L691.40 483.22 L691.70 471.56 L692.00 461.57 L692.30 454.55 L692.60 451.22 L692.70 451.00 L692.90 451.84 L693.20 456.01 L693.50 462.92 L693.80 471.48 L694.10 480.75 L694.40 489.82 L694.70 498.19 L695.00 505.51 L695.30 511.72 L695.61 516.83 L695.91 520.99 L696.21 524.32 L696.51 526.99 L696.81 529.10 L697.11 530.78 L697.41 532.11 L697.71 533.17 L698.01 534.01 L698.31 534.67 L698.61 535.19 L698.91 535.61 L699.21 535.94 L699.51 536.20 L699.81 536.41 L700.11 536.57 L700.41 536.70 L700.71 536.81 L701.01 536.89 L701.32 536.95 L701.62 537.00 L701.92 537.05 L702.22 537.08 L702.52 537.10 L702.82 537.12 L703.12 537.14 Z" fill="#b0486a" fill-opacity="0.36" stroke="#b0486a" stroke-opacity="1.00" stroke-width="1.10"/>
<path d="M691.27 537.20 L691.27 536.63 L691.57 535.65 L691.88 533.31 L692.19 528.30 L692.49 518.45 L692.80 501.03 L693.11 472.94 L693.41 432.32 L693.72 379.18 L694.03 317.60 L694.33 254.42 L694.64 199.34 L694.95 160.89 L695.25 145.02 L695.30 144.70 L695.56 152.63 L695.87 180.11 L696.17 221.10 L696.48 268.12 L696.78 315.35 L697.09 358.39 L697.40 395.50 L697.70 425.97 L698.01 450.49 L698.32 469.76 L698.62 484.87 L698.93 496.59 L699.24 505.72 L699.54 512.78 L699.85 518.27 L700.16 522.52 L700.46 525.82 L700.77 528.37 L701.08 530.36 L701.38 531.89 L701.69 533.09 L702.00 534.01 L702.30 534.73 L702.61 535.28 L702.91 535.71 L703.22 536.05 L703.53 536.31 L703.83 536.51 L704.14 536.66 L704.45 536.78 L704.75 536.88 Z" fill="#6676be" fill-opacity="0.36" stroke="#6676be" stroke-opacity="1.00" stroke-width="1.10"/>
<path d="M691.57 537.20 L691.57 536.77 L691.87 536.02 L692.18 534.23 L692.49 530.40 L692.79 522.89 L693.10 509.59 L693.41 488.15 L693.71 457.14 L694.02 416.58 L694.33 369.58 L694.63 321.35 L694.94 279.31 L695.25 249.96 L695.55 237.85 L695.60 237.60 L695.86 243.65 L696.16 264.63 L696.47 295.91 L696.78 331.81 L697.09 367.86 L697.39 400.71 L697.70 429.04 L698.00 452.30 L698.31 471.01 L698.62 485.72 L698.92 497.26 L699.23 506.20 L699.54 513.17 L699.84 518.56 L700.15 522.75 L700.46 525.99 L700.76 528.51 L701.07 530.46 L701.38 531.98 L701.68 533.15 L701.99 534.06 L702.29 534.76 L702.60 535.31 L702.91 535.74 L703.22 536.07 L703.52 536.32 L703.83 536.52 L704.13 536.67 L704.44 536.79 L704.75 536.88 L705.05 536.95 Z" fill="#6a4a90" fill-opacity="0.20" stroke="#6a4a90" stroke-opacity="1.00" stroke-width="1.10"/>
<path d="M695.77 537.20 L695.77 536.58 L696.07 535.52 L696.38 532.99 L696.69 527.56 L696.99 516.89 L697.30 498.02 L697.61 467.59 L697.91 423.58 L698.22 366.02 L698.53 299.31 L698.83 230.86 L699.14 171.19 L699.45 129.54 L699.75 112.35 L699.80 112.00 L700.06 120.59 L700.37 150.35 L700.67 194.76 L700.98 245.71 L701.28 296.87 L701.59 343.50 L701.90 383.69 L702.20 416.71 L702.51 443.26 L702.82 464.14 L703.12 480.51 L703.43 493.21 L703.74 503.10 L704.04 510.75 L704.35 516.70 L704.66 521.30 L704.96 524.87 L705.27 527.64 L705.58 529.79 L705.88 531.45 L706.19 532.74 L706.50 533.74 L706.80 534.52 L707.11 535.12 L707.41 535.59 L707.72 535.95 L708.03 536.23 L708.33 536.45 L708.64 536.62 L708.95 536.75 L709.25 536.85 Z" fill="#6a6a70" fill-opacity="0.36" stroke="#6a6a70" stroke-opacity="1.00" stroke-width="1.10"/>
<path d="M695.48 537.20 L695.48 536.69 L695.78 535.91 L696.09 534.15 L696.39 530.53 L696.69 523.62 L697.00 511.46 L697.30 491.92 L697.60 463.04 L697.91 423.84 L698.21 375.71 L698.51 322.14 L698.82 268.78 L699.12 222.96 L699.42 190.85 L699.73 176.59 L699.80 176.00 L700.03 181.14 L700.33 202.18 L700.64 235.16 L700.94 274.86 L701.24 316.05 L701.55 355.17 L701.85 390.12 L702.15 419.73 L702.46 444.13 L702.76 463.88 L703.06 479.54 L703.37 491.92 L703.67 501.70 L703.97 509.34 L704.28 515.35 L704.58 520.07 L704.88 523.76 L705.19 526.66 L705.49 528.94 L705.79 530.72 L706.10 532.12 L706.40 533.21 L706.70 534.07 L707.01 534.75 L707.31 535.28 L707.61 535.69 L707.92 536.02 L708.22 536.27 L708.52 536.47 L708.83 536.63 L709.13 536.75 L709.43 536.85 L709.74 536.92 Z" fill="#b0486a" fill-opacity="0.36" stroke="#b0486a" stroke-opacity="1.00" stroke-width="1.10"/>
<path d="M694.39 537.20 L694.39 537.08 L694.69 536.90 L694.99 536.53 L695.29 535.80 L695.59 534.43 L695.89 532.06 L696.20 528.27 L696.50 522.58 L696.80 514.74 L697.10 504.67 L697.40 492.85 L697.70 480.09 L698.00 467.75 L698.30 457.19 L698.60 449.75 L698.90 446.24 L699.00 446.00 L699.20 446.89 L699.50 451.30 L699.80 458.61 L700.10 467.67 L700.40 477.47 L700.70 487.07 L701.00 495.93 L701.30 503.67 L701.61 510.24 L701.90 515.64 L702.21 520.05 L702.51 523.57 L702.81 526.39 L703.11 528.63 L703.41 530.41 L703.71 531.82 L704.01 532.94 L704.31 533.82 L704.61 534.52 L704.91 535.08 L705.21 535.52 L705.51 535.87 L705.81 536.14 L706.11 536.36 L706.41 536.54 L706.71 536.68 L707.01 536.78 L707.32 536.87 L707.62 536.94 L707.92 536.99 L708.22 537.04 L708.52 537.07 L708.82 537.10 L709.12 537.12 L709.42 537.14 Z" fill="#e8844c" fill-opacity="0.36" stroke="#e8844c" stroke-opacity="1.00" stroke-width="1.10"/>
<path d="M690.97 537.20 L690.97 537.19 L691.27 537.16 L691.58 537.10 L691.89 536.97 L692.19 536.71 L692.50 536.26 L692.81 535.53 L693.11 534.47 L693.42 533.09 L693.73 531.49 L694.03 529.85 L694.34 528.42 L694.65 527.42 L694.95 527.01 L695.00 527.00 L695.26 527.21 L695.57 527.92 L695.87 528.99 L696.18 530.21 L696.49 531.43 L696.79 532.55 L697.10 533.52 L697.40 534.31 L697.71 534.95 L698.02 535.45 L698.32 535.84 L698.63 536.14 L698.94 536.38 L699.24 536.57 L699.55 536.71 L699.86 536.82 L700.16 536.90 L700.47 536.97 L700.78 537.02 L701.08 537.06 L701.39 537.09 L701.70 537.12 L702.00 537.14 L702.31 537.15 L702.62 537.16 L702.92 537.17 L703.23 537.18 L703.53 537.18 L703.84 537.19 L704.15 537.19 L704.45 537.19 Z" fill="#62bc78" fill-opacity="0.36" stroke="#62bc78" stroke-opacity="1.00" stroke-width="1.10"/>
<path d="M705.48 537.20 L705.48 536.84 L705.78 536.27 L706.09 535.01 L706.39 532.39 L706.69 527.42 L707.00 518.66 L707.30 504.58 L707.60 483.78 L707.91 455.54 L708.21 420.86 L708.51 382.27 L708.82 343.84 L709.12 310.83 L709.42 287.70 L709.73 277.43 L709.80 277.00 L710.03 280.70 L710.33 295.86 L710.64 319.62 L710.94 348.22 L711.24 377.89 L711.55 406.07 L711.85 431.24 L712.15 452.58 L712.46 470.16 L712.76 484.38 L713.06 495.66 L713.37 504.58 L713.67 511.62 L713.97 517.13 L714.28 521.46 L714.58 524.86 L714.88 527.52 L715.19 529.61 L715.49 531.25 L715.79 532.53 L716.10 533.54 L716.40 534.33 L716.70 534.95 L717.01 535.43 L717.31 535.81 L717.61 536.11 L717.92 536.35 L718.22 536.53 L718.52 536.68 L718.83 536.79 L719.13 536.88 L719.43 536.95 L719.74 537.00 Z" fill="#8db2e3" fill-opacity="0.36" stroke="#8db2e3" stroke-opacity="1.00" stroke-width="1.10"/>
<path d="M705.98 537.20 L705.98 537.07 L706.28 536.88 L706.59 536.44 L706.89 535.53 L707.19 533.81 L707.50 530.77 L707.80 525.89 L708.10 518.68 L708.41 508.89 L708.71 496.87 L709.01 483.49 L709.32 470.17 L709.62 458.73 L709.92 450.71 L710.23 447.15 L710.30 447.00 L710.53 448.28 L710.83 453.54 L711.14 461.77 L711.44 471.69 L711.74 481.97 L712.05 491.74 L712.35 500.47 L712.65 507.87 L712.96 513.96 L713.26 518.89 L713.56 522.80 L713.87 525.89 L714.17 528.33 L714.47 530.24 L714.78 531.74 L715.08 532.92 L715.38 533.84 L715.69 534.57 L715.99 535.14 L716.29 535.58 L716.60 535.93 L716.90 536.20 L717.20 536.42 L717.51 536.59 L717.81 536.72 L718.11 536.82 L718.42 536.90 L718.72 536.97 L719.02 537.02 L719.33 537.06 L719.63 537.09 L719.93 537.11 L720.24 537.13 Z" fill="#6676be" fill-opacity="0.36" stroke="#6676be" stroke-opacity="1.00" stroke-width="1.10"/>
<path d="M705.69 537.20 L705.69 537.12 L705.99 537.01 L706.29 536.77 L706.59 536.29 L706.89 535.40 L707.20 533.85 L707.50 531.38 L707.80 527.68 L708.10 522.57 L708.40 516.01 L708.70 508.31 L709.00 500.00 L709.30 491.97 L709.60 485.09 L709.90 480.24 L710.20 477.95 L710.30 477.80 L710.50 478.38 L710.80 481.25 L711.10 486.01 L711.40 491.91 L711.70 498.30 L712.00 504.55 L712.30 510.32 L712.60 515.36 L712.90 519.64 L713.21 523.16 L713.51 526.03 L713.81 528.32 L714.11 530.16 L714.41 531.62 L714.71 532.78 L715.01 533.69 L715.31 534.42 L715.61 535.00 L715.91 535.46 L716.21 535.82 L716.51 536.11 L716.81 536.33 L717.11 536.51 L717.41 536.66 L717.71 536.77 L718.01 536.86 L718.31 536.93 L718.62 536.99 L718.91 537.03 L719.22 537.07 L719.52 537.09 L719.82 537.12 L720.12 537.13 L720.42 537.15 L720.72 537.16 Z" fill="#3a9a78" fill-opacity="0.36" stroke="#3a9a78" stroke-opacity="1.00" stroke-width="1.10"/>
<path d="M710.39 537.20 L710.39 537.14 L710.69 537.05 L710.99 536.87 L711.29 536.50 L711.59 535.81 L711.89 534.63 L712.20 532.72 L712.50 529.88 L712.80 525.94 L713.10 520.90 L713.40 514.97 L713.70 508.58 L714.00 502.40 L714.30 497.11 L714.60 493.38 L714.90 491.62 L715.00 491.50 L715.20 491.94 L715.50 494.16 L715.80 497.82 L716.10 502.36 L716.40 507.27 L716.70 512.08 L717.00 516.52 L717.30 520.40 L717.61 523.69 L717.90 526.40 L718.21 528.60 L718.51 530.37 L718.81 531.79 L719.11 532.91 L719.41 533.80 L719.71 534.50 L720.01 535.06 L720.31 535.51 L720.61 535.86 L720.91 536.14 L721.21 536.36 L721.51 536.53 L721.81 536.67 L722.11 536.78 L722.41 536.87 L722.71 536.94 L723.01 536.99 L723.32 537.03 L723.62 537.07 L723.92 537.10 L724.22 537.12 L724.52 537.13 L724.82 537.15 L725.12 537.16 L725.42 537.17 Z" fill="#8db2e3" fill-opacity="0.36" stroke="#8db2e3" stroke-opacity="1.00" stroke-width="1.10"/>
<path d="M709.98 537.20 L709.98 537.19 L710.28 537.17 L710.59 537.12 L710.89 537.02 L711.19 536.84 L711.50 536.51 L711.80 535.98 L712.10 535.21 L712.41 534.16 L712.71 532.86 L713.01 531.42 L713.32 529.99 L713.62 528.76 L713.92 527.90 L714.23 527.52 L714.30 527.50 L714.53 527.64 L714.83 528.20 L715.14 529.09 L715.44 530.15 L715.74 531.26 L716.05 532.31 L716.35 533.25 L716.65 534.05 L716.96 534.70 L717.26 535.23 L717.56 535.65 L717.87 535.98 L718.17 536.25 L718.47 536.45 L718.78 536.61 L719.08 536.74 L719.38 536.84 L719.69 536.92 L719.99 536.98 L720.29 537.03 L720.60 537.06 L720.90 537.09 L721.20 537.12 L721.51 537.13 L721.81 537.15 L722.11 537.16 L722.42 537.17 L722.72 537.18 L723.02 537.18 L723.33 537.18 L723.63 537.19 L723.93 537.19 L724.24 537.19 Z" fill="#f4a450" fill-opacity="0.36" stroke="#f4a450" stroke-opacity="1.00" stroke-width="1.10"/>
<path d="M723.08 537.20 L723.08 536.55 L723.38 535.54 L723.69 533.28 L723.99 528.61 L724.29 519.71 L724.60 504.05 L724.90 478.89 L725.20 441.69 L725.51 391.20 L725.81 329.21 L726.11 260.21 L726.42 191.50 L726.72 132.48 L727.02 91.13 L727.33 72.76 L727.40 72.00 L727.63 78.62 L727.93 105.72 L728.24 148.20 L728.54 199.32 L728.84 252.38 L729.15 302.76 L729.45 347.77 L729.75 385.91 L730.06 417.34 L730.36 442.77 L730.66 462.94 L730.97 478.89 L731.27 491.47 L731.57 501.32 L731.88 509.06 L732.18 515.14 L732.48 519.89 L732.79 523.63 L733.09 526.56 L733.39 528.85 L733.70 530.65 L734.00 532.06 L734.30 533.17 L734.61 534.04 L734.91 534.72 L735.21 535.26 L735.52 535.68 L735.82 536.01 L736.12 536.26 L736.43 536.47 L736.73 536.62 L737.03 536.75 L737.34 536.85 Z" fill="#ee6070" fill-opacity="0.36" stroke="#ee6070" stroke-opacity="1.00" stroke-width="1.10"/>
<path d="M722.79 537.20 L722.79 536.91 L723.09 536.51 L723.39 535.65 L723.69 533.93 L723.99 530.76 L724.29 525.25 L724.60 516.42 L724.90 503.19 L725.20 484.94 L725.50 461.50 L725.80 434.00 L726.10 404.31 L726.40 375.60 L726.70 351.03 L727.00 333.73 L727.30 325.55 L727.40 325.00 L727.60 327.06 L727.90 337.33 L728.20 354.33 L728.50 375.42 L728.80 398.23 L729.10 420.56 L729.40 441.17 L729.70 459.18 L730.00 474.46 L730.30 487.04 L730.61 497.29 L730.91 505.49 L731.21 512.06 L731.51 517.26 L731.81 521.40 L732.11 524.68 L732.41 527.28 L732.71 529.34 L733.01 530.97 L733.31 532.26 L733.61 533.29 L733.91 534.10 L734.21 534.75 L734.51 535.26 L734.81 535.66 L735.11 535.98 L735.41 536.23 L735.72 536.43 L736.01 536.59 L736.32 536.72 L736.62 536.82 L736.92 536.90 L737.22 536.96 L737.52 537.01 L737.82 537.05 Z" fill="#e08aa8" fill-opacity="0.36" stroke="#e08aa8" stroke-opacity="1.00" stroke-width="1.10"/>
<path d="M722.79 537.20 L722.79 537.00 L723.09 536.71 L723.39 536.10 L723.69 534.88 L723.99 532.62 L724.29 528.71 L724.60 522.44 L724.90 513.05 L725.20 500.08 L725.50 483.44 L725.80 463.91 L726.10 442.83 L726.40 422.44 L726.70 404.98 L727.00 392.70 L727.30 386.89 L727.40 386.50 L727.60 387.96 L727.90 395.26 L728.20 407.33 L728.50 422.31 L728.80 438.51 L729.10 454.37 L729.40 469.00 L729.70 481.79 L730.00 492.65 L730.30 501.58 L730.61 508.86 L730.91 514.68 L731.21 519.34 L731.51 523.04 L731.81 525.98 L732.11 528.31 L732.41 530.16 L732.71 531.62 L733.01 532.78 L733.31 533.69 L733.61 534.42 L733.91 535.00 L734.21 535.46 L734.51 535.82 L734.81 536.11 L735.11 536.33 L735.41 536.51 L735.72 536.66 L736.01 536.77 L736.32 536.86 L736.62 536.93 L736.92 536.99 L737.22 537.03 L737.52 537.07 L737.82 537.09 Z" fill="#b0486a" fill-opacity="0.36" stroke="#b0486a" stroke-opacity="1.00" stroke-width="1.10"/>
<path d="M722.99 537.20 L722.99 537.12 L723.29 537.01 L723.59 536.78 L723.89 536.32 L724.19 535.46 L724.50 533.98 L724.79 531.60 L725.10 528.03 L725.40 523.11 L725.70 516.80 L726.00 509.38 L726.30 501.38 L726.60 493.64 L726.90 487.02 L727.20 482.35 L727.50 480.15 L727.60 480.00 L727.80 480.56 L728.10 483.32 L728.40 487.91 L728.70 493.59 L729.00 499.74 L729.30 505.76 L729.60 511.31 L729.90 516.17 L730.21 520.29 L730.50 523.68 L730.81 526.44 L731.11 528.65 L731.41 530.42 L731.71 531.83 L732.01 532.94 L732.31 533.82 L732.61 534.53 L732.91 535.08 L733.21 535.52 L733.51 535.87 L733.81 536.15 L734.11 536.37 L734.41 536.54 L734.71 536.68 L735.01 536.78 L735.31 536.87 L735.61 536.94 L735.91 536.99 L736.22 537.04 L736.52 537.07 L736.82 537.10 L737.12 537.12 L737.42 537.14 L737.72 537.15 L738.02 537.16 Z" fill="#e89070" fill-opacity="0.36" stroke="#e89070" stroke-opacity="1.00" stroke-width="1.10"/>
<path d="M739.69 537.20 L739.69 536.94 L739.99 536.57 L740.29 535.79 L740.59 534.24 L740.89 531.36 L741.20 526.36 L741.50 518.36 L741.80 506.36 L742.10 489.81 L742.40 468.57 L742.70 443.63 L743.00 416.71 L743.30 390.68 L743.60 368.40 L743.90 352.71 L744.20 345.30 L744.30 344.80 L744.50 346.67 L744.80 355.98 L745.10 371.40 L745.40 390.52 L745.70 411.20 L746.00 431.45 L746.30 450.13 L746.60 466.46 L746.90 480.32 L747.21 491.72 L747.51 501.01 L747.81 508.45 L748.11 514.40 L748.41 519.12 L748.71 522.88 L749.01 525.85 L749.31 528.21 L749.61 530.07 L749.91 531.55 L750.21 532.72 L750.51 533.65 L750.81 534.39 L751.11 534.97 L751.41 535.44 L751.71 535.80 L752.01 536.09 L752.31 536.32 L752.62 536.51 L752.91 536.65 L753.22 536.76 L753.52 536.85 L753.82 536.93 L754.12 536.98 L754.42 537.03 L754.72 537.06 Z" fill="#b0486a" fill-opacity="0.36" stroke="#b0486a" stroke-opacity="1.00" stroke-width="1.10"/>
<path d="M740.39 537.20 L740.39 537.05 L740.69 536.85 L740.99 536.40 L741.29 535.52 L741.59 533.90 L741.89 531.07 L742.20 526.54 L742.50 519.76 L742.80 510.40 L743.10 498.39 L743.40 484.29 L743.70 469.07 L744.00 454.35 L744.30 441.75 L744.60 432.88 L744.90 428.68 L745.00 428.40 L745.20 429.46 L745.50 434.72 L745.80 443.44 L746.10 454.25 L746.40 465.95 L746.70 477.40 L747.00 487.96 L747.30 497.20 L747.61 505.03 L747.90 511.48 L748.21 516.74 L748.51 520.94 L748.81 524.31 L749.11 526.98 L749.41 529.10 L749.71 530.78 L750.01 532.11 L750.31 533.17 L750.61 534.01 L750.91 534.67 L751.21 535.20 L751.51 535.61 L751.81 535.94 L752.11 536.20 L752.41 536.41 L752.71 536.57 L753.01 536.70 L753.32 536.81 L753.62 536.89 L753.92 536.95 L754.22 537.00 L754.52 537.05 L754.82 537.08 L755.12 537.10 L755.42 537.12 Z" fill="#b0486a" fill-opacity="0.36" stroke="#b0486a" stroke-opacity="1.00" stroke-width="1.10"/>
<path d="M740.39 537.20 L740.39 537.13 L740.69 537.02 L740.99 536.80 L741.29 536.37 L741.59 535.55 L741.89 534.15 L742.20 531.89 L742.50 528.51 L742.80 523.85 L743.10 517.87 L743.40 510.84 L743.70 503.26 L744.00 495.93 L744.30 489.65 L744.60 485.23 L744.90 483.14 L745.00 483.00 L745.20 483.53 L745.50 486.15 L745.80 490.49 L746.10 495.88 L746.40 501.70 L746.70 507.41 L747.00 512.67 L747.30 517.27 L747.61 521.18 L747.90 524.39 L748.21 527.01 L748.51 529.10 L748.81 530.78 L749.11 532.11 L749.41 533.17 L749.71 534.00 L750.01 534.67 L750.31 535.19 L750.61 535.61 L750.91 535.94 L751.21 536.20 L751.51 536.41 L751.81 536.57 L752.11 536.70 L752.41 536.81 L752.71 536.89 L753.01 536.95 L753.32 537.00 L753.62 537.04 L753.92 537.08 L754.22 537.10 L754.52 537.12 L754.82 537.14 L755.12 537.15 L755.42 537.16 Z" fill="#8a7848" fill-opacity="0.36" stroke="#8a7848" stroke-opacity="1.00" stroke-width="1.10"/>
<path d="M751.47 537.20 L751.47 537.18 L751.77 537.13 L752.08 537.03 L752.39 536.81 L752.69 536.38 L753.00 535.61 L753.31 534.38 L753.61 532.60 L753.92 530.28 L754.23 527.58 L754.53 524.81 L754.84 522.39 L755.15 520.71 L755.45 520.01 L755.50 520.00 L755.76 520.35 L756.07 521.55 L756.37 523.35 L756.68 525.41 L756.99 527.48 L757.29 529.36 L757.60 530.99 L757.90 532.33 L758.21 533.40 L758.52 534.24 L758.82 534.91 L759.13 535.42 L759.44 535.82 L759.74 536.13 L760.05 536.37 L760.36 536.56 L760.66 536.70 L760.97 536.81 L761.28 536.90 L761.58 536.97 L761.89 537.02 L762.20 537.06 L762.50 537.09 L762.81 537.12 L763.12 537.13 L763.42 537.15 L763.73 537.16 L764.03 537.17 L764.34 537.18 L764.65 537.18 L764.95 537.19 Z" fill="#62bc78" fill-opacity="0.36" stroke="#62bc78" stroke-opacity="1.00" stroke-width="1.10"/>
<path d="M754.17 537.20 L754.17 537.18 L754.47 537.14 L754.78 537.06 L755.09 536.87 L755.39 536.51 L755.70 535.86 L756.01 534.83 L756.31 533.33 L756.62 531.36 L756.93 529.09 L757.23 526.75 L757.54 524.72 L757.85 523.30 L758.15 522.71 L758.20 522.70 L758.46 522.99 L758.76 524.01 L759.07 525.52 L759.38 527.26 L759.68 529.00 L759.99 530.59 L760.30 531.97 L760.60 533.09 L760.91 534.00 L761.22 534.71 L761.52 535.27 L761.83 535.70 L762.14 536.04 L762.44 536.30 L762.75 536.50 L763.06 536.66 L763.36 536.78 L763.67 536.87 L763.98 536.95 L764.28 537.00 L764.59 537.05 L764.89 537.08 L765.20 537.11 L765.51 537.13 L765.82 537.15 L766.12 537.16 L766.43 537.17 L766.73 537.17 L767.04 537.18 L767.35 537.18 L767.65 537.19 Z" fill="#a86cb8" fill-opacity="0.36" stroke="#a86cb8" stroke-opacity="1.00" stroke-width="1.10"/>
<path d="M756.18 537.20 L756.18 537.16 L756.48 537.10 L756.79 536.97 L757.09 536.70 L757.39 536.18 L757.70 535.26 L758.00 533.79 L758.30 531.62 L758.61 528.66 L758.91 525.04 L759.21 521.00 L759.52 516.99 L759.82 513.54 L760.12 511.12 L760.43 510.04 L760.50 510.00 L760.73 510.39 L761.03 511.97 L761.34 514.46 L761.64 517.44 L761.94 520.55 L762.25 523.49 L762.55 526.12 L762.85 528.35 L763.16 530.19 L763.46 531.68 L763.76 532.86 L764.07 533.79 L764.37 534.53 L764.67 535.10 L764.98 535.55 L765.28 535.91 L765.58 536.19 L765.89 536.41 L766.19 536.58 L766.49 536.71 L766.80 536.82 L767.10 536.90 L767.40 536.96 L767.71 537.02 L768.01 537.06 L768.31 537.09 L768.62 537.11 L768.92 537.13 L769.22 537.15 L769.53 537.16 L769.83 537.17 L770.13 537.17 L770.44 537.18 Z" fill="#6a6a70" fill-opacity="0.36" stroke="#6a6a70" stroke-opacity="1.00" stroke-width="1.10"/>
<path d="M757.68 537.20 L757.68 537.15 L757.98 537.07 L758.29 536.90 L758.59 536.54 L758.89 535.86 L759.20 534.66 L759.50 532.74 L759.80 529.89 L760.11 526.03 L760.41 521.28 L760.71 516.00 L761.02 510.74 L761.32 506.23 L761.62 503.06 L761.93 501.66 L762.00 501.60 L762.23 502.11 L762.53 504.18 L762.84 507.43 L763.14 511.34 L763.44 515.40 L763.75 519.26 L764.05 522.70 L764.35 525.62 L764.66 528.03 L764.96 529.97 L765.26 531.52 L765.57 532.74 L765.87 533.70 L766.17 534.45 L766.48 535.05 L766.78 535.51 L767.08 535.88 L767.39 536.16 L767.69 536.39 L767.99 536.56 L768.30 536.70 L768.60 536.81 L768.90 536.89 L769.21 536.96 L769.51 537.01 L769.81 537.05 L770.12 537.08 L770.42 537.11 L770.72 537.13 L771.03 537.14 L771.33 537.16 L771.63 537.17 L771.94 537.17 Z" fill="#a86cb8" fill-opacity="0.36" stroke="#a86cb8" stroke-opacity="1.00" stroke-width="1.10"/>
<path d="M766.67 537.20 L766.67 537.18 L766.97 537.14 L767.28 537.05 L767.59 536.86 L767.89 536.49 L768.20 535.83 L768.51 534.76 L768.81 533.22 L769.12 531.20 L769.43 528.86 L769.73 526.46 L770.04 524.37 L770.35 522.91 L770.65 522.31 L770.70 522.30 L770.96 522.60 L771.26 523.64 L771.57 525.20 L771.88 526.99 L772.18 528.78 L772.49 530.41 L772.80 531.82 L773.10 532.98 L773.41 533.91 L773.72 534.64 L774.02 535.21 L774.33 535.66 L774.64 536.01 L774.94 536.27 L775.25 536.48 L775.56 536.64 L775.86 536.77 L776.17 536.86 L776.48 536.94 L776.78 537.00 L777.09 537.04 L777.39 537.08 L777.70 537.11 L778.01 537.13 L778.32 537.14 L778.62 537.16 L778.93 537.17 L779.23 537.17 L779.54 537.18 L779.85 537.18 L780.15 537.19 Z" fill="#ee6070" fill-opacity="0.36" stroke="#ee6070" stroke-opacity="1.00" stroke-width="1.10"/>
<path d="M771.38 537.20 L771.38 537.17 L771.68 537.13 L771.99 537.04 L772.29 536.86 L772.59 536.50 L772.90 535.87 L773.20 534.87 L773.50 533.38 L773.81 531.36 L774.11 528.88 L774.41 526.13 L774.72 523.38 L775.02 521.02 L775.32 519.36 L775.63 518.63 L775.70 518.60 L775.93 518.86 L776.23 519.95 L776.54 521.65 L776.84 523.69 L777.14 525.81 L777.45 527.83 L777.75 529.63 L778.05 531.15 L778.36 532.41 L778.66 533.42 L778.96 534.23 L779.27 534.87 L779.57 535.37 L779.87 535.77 L780.18 536.07 L780.48 536.32 L780.78 536.51 L781.09 536.66 L781.39 536.77 L781.69 536.87 L782.00 536.94 L782.30 536.99 L782.60 537.04 L782.91 537.07 L783.21 537.10 L783.51 537.12 L783.82 537.14 L784.12 537.15 L784.42 537.16 L784.73 537.17 L785.03 537.18 L785.33 537.18 L785.64 537.19 Z" fill="#6a98d8" fill-opacity="0.36" stroke="#6a98d8" stroke-opacity="1.00" stroke-width="1.10"/>
<path d="M776.98 537.20 L776.98 536.67 L777.28 535.85 L777.59 534.00 L777.89 530.19 L778.19 522.94 L778.50 510.17 L778.80 489.66 L779.10 459.33 L779.41 418.16 L779.71 367.61 L780.01 311.36 L780.32 255.33 L780.62 207.21 L780.92 173.50 L781.23 158.52 L781.30 157.90 L781.53 163.30 L781.83 185.39 L782.14 220.03 L782.44 261.71 L782.74 304.97 L783.05 346.05 L783.35 382.75 L783.65 413.84 L783.96 439.47 L784.26 460.20 L784.56 476.65 L784.87 489.65 L785.17 499.92 L785.47 507.95 L785.78 514.25 L786.08 519.21 L786.38 523.09 L786.69 526.13 L786.99 528.52 L787.29 530.39 L787.60 531.86 L787.90 533.01 L788.20 533.92 L788.51 534.63 L788.81 535.18 L789.11 535.62 L789.42 535.96 L789.72 536.23 L790.02 536.44 L790.33 536.60 L790.63 536.73 L790.93 536.83 L791.24 536.91 Z" fill="#ee6070" fill-opacity="0.36" stroke="#ee6070" stroke-opacity="1.00" stroke-width="1.10"/>
<path d="M776.99 537.20 L776.99 537.13 L777.29 537.04 L777.59 536.84 L777.89 536.43 L778.19 535.69 L778.50 534.40 L778.79 532.33 L779.10 529.23 L779.40 524.96 L779.70 519.47 L780.00 513.03 L780.30 506.08 L780.60 499.35 L780.90 493.60 L781.20 489.54 L781.50 487.63 L781.60 487.50 L781.80 487.98 L782.10 490.39 L782.40 494.37 L782.70 499.31 L783.00 504.65 L783.30 509.88 L783.60 514.71 L783.90 518.93 L784.21 522.51 L784.50 525.45 L784.81 527.85 L785.11 529.77 L785.41 531.31 L785.71 532.53 L786.01 533.50 L786.31 534.27 L786.61 534.88 L786.91 535.36 L787.21 535.74 L787.51 536.04 L787.81 536.28 L788.11 536.47 L788.41 536.63 L788.71 536.74 L789.01 536.84 L789.31 536.91 L789.61 536.97 L789.91 537.02 L790.22 537.06 L790.52 537.09 L790.82 537.11 L791.12 537.13 L791.42 537.14 L791.72 537.16 L792.02 537.16 Z" fill="#6676be" fill-opacity="0.36" stroke="#6676be" stroke-opacity="1.00" stroke-width="1.10"/>
<path d="M779.88 537.20 L779.88 536.92 L780.18 536.50 L780.49 535.54 L780.79 533.57 L781.09 529.81 L781.40 523.19 L781.70 512.56 L782.00 496.84 L782.31 475.50 L782.61 449.30 L782.91 420.14 L783.22 391.10 L783.52 366.16 L783.82 348.68 L784.13 340.92 L784.20 340.60 L784.43 343.40 L784.73 354.85 L785.04 372.80 L785.34 394.41 L785.64 416.83 L785.95 438.12 L786.25 457.14 L786.55 473.26 L786.86 486.54 L787.16 497.29 L787.46 505.82 L787.77 512.56 L788.07 517.87 L788.37 522.04 L788.68 525.31 L788.98 527.88 L789.28 529.89 L789.59 531.46 L789.89 532.70 L790.19 533.67 L790.50 534.43 L790.80 535.03 L791.10 535.50 L791.41 535.87 L791.71 536.15 L792.01 536.38 L792.32 536.56 L792.62 536.70 L792.92 536.80 L793.23 536.89 L793.53 536.96 L793.83 537.01 L794.14 537.05 Z" fill="#6a98d8" fill-opacity="0.36" stroke="#6a98d8" stroke-opacity="1.00" stroke-width="1.10"/>
<path d="M779.98 537.20 L779.98 537.07 L780.28 536.87 L780.59 536.43 L780.89 535.51 L781.19 533.75 L781.50 530.67 L781.80 525.71 L782.10 518.37 L782.41 508.42 L782.71 496.20 L783.01 482.60 L783.32 469.06 L783.62 457.42 L783.92 449.27 L784.23 445.65 L784.30 445.50 L784.53 446.81 L784.83 452.15 L785.14 460.52 L785.44 470.60 L785.74 481.06 L786.05 490.99 L786.35 499.86 L786.65 507.38 L786.96 513.57 L787.26 518.59 L787.56 522.56 L787.87 525.71 L788.17 528.19 L788.47 530.13 L788.78 531.65 L789.08 532.85 L789.38 533.79 L789.69 534.52 L789.99 535.10 L790.29 535.55 L790.60 535.91 L790.90 536.19 L791.20 536.41 L791.51 536.58 L791.81 536.71 L792.11 536.82 L792.42 536.90 L792.72 536.96 L793.02 537.02 L793.33 537.06 L793.63 537.09 L793.93 537.11 L794.24 537.13 Z" fill="#62bc78" fill-opacity="0.36" stroke="#62bc78" stroke-opacity="1.00" stroke-width="1.10"/>
<path d="M788.18 537.20 L788.18 536.85 L788.48 536.30 L788.79 535.07 L789.09 532.53 L789.39 527.70 L789.70 519.19 L790.00 505.52 L790.30 485.32 L790.61 457.89 L790.91 424.22 L791.21 386.74 L791.52 349.41 L791.82 317.35 L792.12 294.89 L792.43 284.92 L792.50 284.50 L792.73 288.10 L793.03 302.81 L793.34 325.89 L793.64 353.66 L793.94 382.48 L794.25 409.85 L794.55 434.30 L794.85 455.02 L795.16 472.09 L795.46 485.90 L795.76 496.86 L796.07 505.52 L796.37 512.36 L796.67 517.71 L796.98 521.91 L797.28 525.22 L797.58 527.80 L797.89 529.83 L798.19 531.42 L798.49 532.67 L798.80 533.64 L799.10 534.41 L799.40 535.01 L799.71 535.48 L800.01 535.85 L800.31 536.15 L800.62 536.37 L800.92 536.55 L801.22 536.69 L801.53 536.80 L801.83 536.89 L802.13 536.95 L802.44 537.01 Z" fill="#f4a450" fill-opacity="0.36" stroke="#f4a450" stroke-opacity="1.00" stroke-width="1.10"/>
<path d="M788.18 537.20 L788.18 537.18 L788.48 537.14 L788.79 537.07 L789.09 536.91 L789.39 536.61 L789.70 536.09 L790.00 535.24 L790.30 534.00 L790.61 532.30 L790.91 530.23 L791.21 527.91 L791.52 525.61 L791.82 523.63 L792.12 522.24 L792.43 521.63 L792.50 521.60 L792.73 521.82 L793.03 522.73 L793.34 524.16 L793.64 525.87 L793.94 527.65 L794.25 529.34 L794.55 530.85 L794.85 532.13 L795.16 533.18 L795.46 534.03 L795.76 534.71 L796.07 535.24 L796.37 535.67 L796.67 536.00 L796.98 536.26 L797.28 536.46 L797.58 536.62 L797.89 536.74 L798.19 536.84 L798.49 536.92 L798.80 536.98 L799.10 537.03 L799.40 537.07 L799.71 537.09 L800.01 537.12 L800.31 537.13 L800.62 537.15 L800.92 537.16 L801.22 537.17 L801.53 537.18 L801.83 537.18 L802.13 537.18 L802.44 537.19 Z" fill="#e08aa8" fill-opacity="0.36" stroke="#e08aa8" stroke-opacity="1.00" stroke-width="1.10"/>
<path d="M794.66 537.20 L794.66 537.19 L794.96 537.16 L795.26 537.11 L795.56 536.98 L795.87 536.72 L796.17 536.27 L796.47 535.54 L796.77 534.51 L797.08 533.23 L797.38 531.82 L797.68 530.51 L797.99 529.53 L798.29 529.04 L798.40 529.00 L798.59 529.10 L798.89 529.65 L799.20 530.53 L799.50 531.55 L799.80 532.58 L800.11 533.51 L800.41 534.30 L800.71 534.95 L801.01 535.46 L801.32 535.85 L801.62 536.16 L801.92 536.40 L802.23 536.58 L802.53 536.72 L802.83 536.83 L803.13 536.92 L803.44 536.98 L803.74 537.03 L804.04 537.07 L804.34 537.10 L804.65 537.12 L804.95 537.14 L805.25 537.15 L805.55 537.16 L805.86 537.17 L806.16 537.18 L806.46 537.18 L806.77 537.19 L807.07 537.19 L807.37 537.19 Z" fill="#6a98d8" fill-opacity="0.36" stroke="#6a98d8" stroke-opacity="1.00" stroke-width="1.10"/>
<path d="M799.58 537.20 L799.58 536.99 L799.88 536.66 L800.19 535.92 L800.49 534.39 L800.79 531.49 L801.10 526.37 L801.40 518.15 L801.70 505.99 L802.01 489.49 L802.31 469.24 L802.61 446.70 L802.92 424.25 L803.22 404.96 L803.52 391.45 L803.83 385.45 L803.90 385.20 L804.13 387.36 L804.43 396.22 L804.74 410.10 L805.04 426.80 L805.34 444.14 L805.65 460.60 L805.95 475.30 L806.25 487.77 L806.56 498.04 L806.86 506.34 L807.16 512.94 L807.47 518.15 L807.77 522.26 L808.07 525.48 L808.38 528.00 L808.68 529.99 L808.98 531.55 L809.29 532.76 L809.59 533.72 L809.89 534.47 L810.20 535.06 L810.50 535.52 L810.80 535.88 L811.11 536.17 L811.41 536.39 L811.71 536.57 L812.02 536.70 L812.32 536.81 L812.62 536.89 L812.93 536.96 L813.23 537.01 L813.53 537.05 L813.84 537.08 Z" fill="#ee6070" fill-opacity="0.36" stroke="#ee6070" stroke-opacity="1.00" stroke-width="1.10"/>
<path d="M799.58 537.20 L799.58 537.07 L799.88 536.87 L800.19 536.43 L800.49 535.51 L800.79 533.75 L801.10 530.67 L801.40 525.71 L801.70 518.37 L802.01 508.42 L802.31 496.20 L802.61 482.60 L802.92 469.06 L803.22 457.42 L803.52 449.27 L803.83 445.65 L803.90 445.50 L804.13 446.81 L804.43 452.15 L804.74 460.52 L805.04 470.60 L805.34 481.06 L805.65 490.99 L805.95 499.86 L806.25 507.38 L806.56 513.57 L806.86 518.59 L807.16 522.56 L807.47 525.71 L807.77 528.19 L808.07 530.13 L808.38 531.65 L808.68 532.85 L808.98 533.79 L809.29 534.52 L809.59 535.10 L809.89 535.55 L810.20 535.91 L810.50 536.19 L810.80 536.41 L811.11 536.58 L811.41 536.71 L811.71 536.82 L812.02 536.90 L812.32 536.96 L812.62 537.02 L812.93 537.06 L813.23 537.09 L813.53 537.11 L813.84 537.13 Z" fill="#b0486a" fill-opacity="0.36" stroke="#b0486a" stroke-opacity="1.00" stroke-width="1.10"/>
<path d="M811.28 537.20 L811.28 536.58 L811.58 535.63 L811.89 533.48 L812.19 529.04 L812.49 520.60 L812.80 505.73 L813.10 481.83 L813.40 446.51 L813.71 398.57 L814.01 339.71 L814.31 274.20 L814.62 208.96 L814.92 152.93 L815.22 113.66 L815.53 96.23 L815.60 95.50 L815.83 101.79 L816.13 127.51 L816.44 167.85 L816.74 216.39 L817.04 266.77 L817.35 314.61 L817.65 357.34 L817.95 393.55 L818.26 423.39 L818.56 447.54 L818.86 466.69 L819.17 481.83 L819.47 493.78 L819.77 503.14 L820.08 510.48 L820.38 516.25 L820.68 520.77 L820.99 524.31 L821.29 527.10 L821.59 529.28 L821.90 530.98 L822.20 532.32 L822.50 533.38 L822.81 534.20 L823.11 534.85 L823.41 535.36 L823.72 535.75 L824.02 536.07 L824.32 536.31 L824.63 536.50 L824.93 536.65 L825.23 536.77 L825.54 536.86 Z" fill="#c86478" fill-opacity="0.36" stroke="#c86478" stroke-opacity="1.00" stroke-width="1.10"/>
<path d="M811.19 537.20 L811.19 536.87 L811.49 536.40 L811.79 535.41 L812.09 533.42 L812.39 529.74 L812.70 523.36 L813.00 513.15 L813.30 497.84 L813.60 476.71 L813.90 449.59 L814.20 417.76 L814.50 383.40 L814.80 350.17 L815.10 321.72 L815.40 301.70 L815.70 292.24 L815.80 291.60 L816.00 293.98 L816.30 305.87 L816.60 325.55 L816.90 349.96 L817.20 376.36 L817.50 402.20 L817.80 426.06 L818.10 446.90 L818.40 464.59 L818.71 479.15 L819.01 491.01 L819.31 500.50 L819.61 508.10 L819.91 514.12 L820.21 518.92 L820.51 522.71 L820.81 525.72 L821.11 528.10 L821.41 529.99 L821.71 531.49 L822.01 532.67 L822.31 533.62 L822.61 534.36 L822.91 534.95 L823.21 535.42 L823.51 535.79 L823.81 536.08 L824.12 536.31 L824.41 536.50 L824.72 536.64 L825.02 536.76 L825.32 536.85 L825.62 536.92 L825.92 536.98 L826.22 537.03 Z" fill="#b0486a" fill-opacity="0.36" stroke="#b0486a" stroke-opacity="1.00" stroke-width="1.10"/>
<path d="M818.18 537.20 L818.18 537.12 L818.48 537.00 L818.79 536.72 L819.09 536.16 L819.39 535.08 L819.70 533.17 L820.00 530.12 L820.30 525.60 L820.61 519.47 L820.91 511.94 L821.21 503.56 L821.52 495.21 L821.82 488.05 L822.12 483.02 L822.43 480.79 L822.50 480.70 L822.73 481.50 L823.03 484.79 L823.34 489.95 L823.64 496.16 L823.94 502.61 L824.25 508.73 L824.55 514.19 L824.85 518.83 L825.16 522.64 L825.46 525.73 L825.76 528.18 L826.07 530.12 L826.37 531.65 L826.67 532.84 L826.98 533.78 L827.28 534.52 L827.58 535.10 L827.89 535.55 L828.19 535.91 L828.49 536.19 L828.80 536.40 L829.10 536.58 L829.40 536.71 L829.71 536.82 L830.01 536.90 L830.31 536.96 L830.62 537.02 L830.92 537.05 L831.22 537.09 L831.53 537.11 L831.83 537.13 L832.13 537.15 L832.44 537.16 Z" fill="#ee6070" fill-opacity="0.36" stroke="#ee6070" stroke-opacity="1.00" stroke-width="1.10"/>
<path d="M821.68 537.20 L821.68 537.10 L821.98 536.93 L822.29 536.57 L822.59 535.82 L822.89 534.39 L823.20 531.88 L823.50 527.84 L823.80 521.86 L824.11 513.76 L824.41 503.80 L824.71 492.72 L825.02 481.69 L825.32 472.21 L825.62 465.57 L825.93 462.62 L826.00 462.50 L826.23 463.56 L826.53 467.91 L826.84 474.74 L827.14 482.95 L827.44 491.46 L827.75 499.56 L828.05 506.78 L828.35 512.91 L828.66 517.95 L828.96 522.04 L829.26 525.28 L829.57 527.84 L829.87 529.86 L830.17 531.44 L830.48 532.68 L830.78 533.66 L831.08 534.42 L831.39 535.02 L831.69 535.49 L831.99 535.86 L832.30 536.15 L832.60 536.38 L832.90 536.55 L833.21 536.69 L833.51 536.80 L833.81 536.89 L834.12 536.96 L834.42 537.01 L834.72 537.05 L835.03 537.08 L835.33 537.11 L835.63 537.13 L835.94 537.14 Z" fill="#62bc78" fill-opacity="0.36" stroke="#62bc78" stroke-opacity="1.00" stroke-width="1.10"/>
<path d="M823.68 537.20 L823.68 537.13 L823.98 537.03 L824.29 536.80 L824.59 536.32 L824.89 535.42 L825.20 533.82 L825.50 531.26 L825.80 527.47 L826.11 522.32 L826.41 516.01 L826.71 508.98 L827.02 501.98 L827.32 495.96 L827.62 491.75 L827.93 489.88 L828.00 489.80 L828.23 490.47 L828.53 493.24 L828.84 497.56 L829.14 502.77 L829.44 508.18 L829.75 513.31 L830.05 517.90 L830.35 521.78 L830.66 524.99 L830.96 527.58 L831.26 529.63 L831.57 531.26 L831.87 532.54 L832.17 533.54 L832.48 534.33 L832.78 534.95 L833.08 535.44 L833.39 535.82 L833.69 536.12 L833.99 536.35 L834.30 536.53 L834.60 536.68 L834.90 536.79 L835.21 536.88 L835.51 536.95 L835.81 537.00 L836.12 537.04 L836.42 537.08 L836.72 537.10 L837.03 537.13 L837.33 537.14 L837.63 537.15 L837.94 537.16 Z" fill="#ee6070" fill-opacity="0.36" stroke="#ee6070" stroke-opacity="1.00" stroke-width="1.10"/>
<path d="M830.48 537.20 L830.48 537.09 L830.78 536.93 L831.09 536.56 L831.39 535.79 L831.69 534.34 L832.00 531.77 L832.30 527.65 L832.60 521.56 L832.91 513.28 L833.21 503.13 L833.51 491.83 L833.82 480.57 L834.12 470.91 L834.42 464.13 L834.73 461.13 L834.80 461.00 L835.03 462.08 L835.33 466.52 L835.64 473.48 L835.94 481.86 L836.24 490.55 L836.55 498.80 L836.85 506.17 L837.15 512.42 L837.46 517.57 L837.76 521.73 L838.06 525.04 L838.37 527.65 L838.67 529.71 L838.97 531.32 L839.28 532.59 L839.58 533.59 L839.88 534.37 L840.19 534.98 L840.49 535.46 L840.79 535.83 L841.10 536.13 L841.40 536.36 L841.70 536.54 L842.01 536.68 L842.31 536.79 L842.61 536.88 L842.92 536.95 L843.22 537.00 L843.52 537.05 L843.83 537.08 L844.13 537.11 L844.43 537.13 L844.74 537.14 Z" fill="#f4a450" fill-opacity="0.36" stroke="#f4a450" stroke-opacity="1.00" stroke-width="1.10"/>
<path d="M830.48 537.20 L830.48 537.15 L830.78 537.08 L831.09 536.92 L831.39 536.60 L831.69 535.97 L832.00 534.87 L832.30 533.10 L832.60 530.49 L832.91 526.94 L833.21 522.58 L833.51 517.73 L833.82 512.90 L834.12 508.75 L834.42 505.84 L834.73 504.55 L834.80 504.50 L835.03 504.97 L835.33 506.87 L835.64 509.86 L835.94 513.45 L836.24 517.18 L836.55 520.72 L836.85 523.88 L837.15 526.57 L837.46 528.77 L837.76 530.56 L838.06 531.98 L838.37 533.10 L838.67 533.99 L838.97 534.68 L839.28 535.22 L839.58 535.65 L839.88 535.98 L840.19 536.25 L840.49 536.45 L840.79 536.61 L841.10 536.74 L841.40 536.84 L841.70 536.92 L842.01 536.98 L842.31 537.03 L842.61 537.06 L842.92 537.09 L843.22 537.12 L843.52 537.13 L843.83 537.15 L844.13 537.16 L844.43 537.17 L844.74 537.18 Z" fill="#e08aa8" fill-opacity="0.36" stroke="#e08aa8" stroke-opacity="1.00" stroke-width="1.10"/>
<path d="M839.28 537.20 L839.28 537.11 L839.58 536.97 L839.89 536.66 L840.19 536.01 L840.49 534.79 L840.80 532.63 L841.10 529.15 L841.40 524.02 L841.71 517.05 L842.01 508.50 L842.31 498.97 L842.62 489.49 L842.92 481.35 L843.22 475.64 L843.53 473.11 L843.60 473.00 L843.83 473.91 L844.13 477.65 L844.44 483.52 L844.74 490.57 L845.04 497.89 L845.35 504.85 L845.65 511.06 L845.95 516.32 L846.26 520.66 L846.56 524.17 L846.86 526.95 L847.17 529.15 L847.47 530.89 L847.77 532.25 L848.08 533.32 L848.38 534.16 L848.68 534.81 L848.99 535.33 L849.29 535.73 L849.59 536.05 L849.90 536.30 L850.20 536.49 L850.50 536.64 L850.81 536.76 L851.11 536.86 L851.41 536.93 L851.72 536.99 L852.02 537.04 L852.32 537.07 L852.63 537.10 L852.93 537.12 L853.23 537.14 L853.54 537.15 Z" fill="#62bc78" fill-opacity="0.36" stroke="#62bc78" stroke-opacity="1.00" stroke-width="1.10"/>
<path d="M839.08 537.20 L839.08 537.14 L839.38 537.04 L839.69 536.81 L839.99 536.35 L840.29 535.46 L840.60 533.91 L840.90 531.41 L841.20 527.71 L841.51 522.70 L841.81 516.54 L842.11 509.69 L842.42 502.87 L842.72 497.01 L843.02 492.90 L843.33 491.08 L843.40 491.00 L843.63 491.66 L843.93 494.35 L844.24 498.57 L844.54 503.64 L844.84 508.91 L845.15 513.92 L845.45 518.39 L845.75 522.17 L846.06 525.30 L846.36 527.82 L846.66 529.83 L846.97 531.41 L847.27 532.66 L847.57 533.64 L847.88 534.40 L848.18 535.01 L848.48 535.48 L848.79 535.85 L849.09 536.14 L849.39 536.37 L849.70 536.55 L850.00 536.69 L850.30 536.80 L850.61 536.89 L850.91 536.95 L851.21 537.01 L851.52 537.05 L851.82 537.08 L852.12 537.11 L852.43 537.13 L852.73 537.14 L853.03 537.16 L853.34 537.16 Z" fill="#6676be" fill-opacity="0.36" stroke="#6676be" stroke-opacity="1.00" stroke-width="1.10"/>
<path d="M842.08 537.20 L842.08 537.07 L842.38 536.86 L842.69 536.39 L842.99 535.43 L843.29 533.60 L843.60 530.37 L843.90 525.19 L844.20 517.53 L844.51 507.13 L844.81 494.37 L845.11 480.16 L845.42 466.01 L845.72 453.86 L846.02 445.34 L846.33 441.56 L846.40 441.40 L846.63 442.76 L846.93 448.34 L847.24 457.09 L847.54 467.62 L847.84 478.55 L848.15 488.92 L848.45 498.19 L848.75 506.04 L849.06 512.52 L849.36 517.75 L849.66 521.91 L849.97 525.19 L850.27 527.78 L850.57 529.81 L850.88 531.40 L851.18 532.66 L851.48 533.64 L851.79 534.40 L852.09 535.01 L852.39 535.48 L852.70 535.85 L853.00 536.14 L853.30 536.37 L853.61 536.55 L853.91 536.69 L854.21 536.80 L854.52 536.89 L854.82 536.95 L855.12 537.01 L855.43 537.05 L855.73 537.08 L856.03 537.11 L856.34 537.13 Z" fill="#a86cb8" fill-opacity="0.36" stroke="#a86cb8" stroke-opacity="1.00" stroke-width="1.10"/>
<path d="M846.18 537.20 L846.18 537.08 L846.48 536.89 L846.79 536.46 L847.09 535.59 L847.39 533.92 L847.70 530.99 L848.00 526.27 L848.30 519.30 L848.61 509.83 L848.91 498.21 L849.21 485.28 L849.52 472.40 L849.82 461.34 L850.12 453.59 L850.43 450.14 L850.50 450.00 L850.73 451.24 L851.03 456.32 L851.34 464.28 L851.64 473.87 L851.94 483.81 L852.25 493.26 L852.55 501.69 L852.85 508.84 L853.16 514.73 L853.46 519.50 L853.76 523.28 L854.07 526.27 L854.37 528.63 L854.67 530.48 L854.98 531.92 L855.28 533.06 L855.58 533.96 L855.89 534.66 L856.19 535.21 L856.49 535.64 L856.80 535.97 L857.10 536.24 L857.40 536.45 L857.71 536.61 L858.01 536.74 L858.31 536.84 L858.62 536.91 L858.92 536.98 L859.22 537.02 L859.53 537.06 L859.83 537.09 L860.13 537.12 L860.44 537.13 Z" fill="#ee6070" fill-opacity="0.36" stroke="#ee6070" stroke-opacity="1.00" stroke-width="1.10"/>
<path d="M848.18 537.20 L848.18 537.08 L848.48 536.89 L848.79 536.46 L849.09 535.58 L849.39 533.90 L849.70 530.95 L850.00 526.21 L850.30 519.19 L850.61 509.68 L850.91 497.99 L851.21 484.98 L851.52 472.03 L851.82 460.90 L852.12 453.11 L852.43 449.64 L852.50 449.50 L852.73 450.75 L853.03 455.86 L853.34 463.87 L853.64 473.50 L853.94 483.51 L854.25 493.00 L854.55 501.49 L854.85 508.68 L855.16 514.60 L855.46 519.40 L855.76 523.20 L856.07 526.21 L856.37 528.58 L856.67 530.44 L856.98 531.89 L857.28 533.04 L857.58 533.94 L857.89 534.64 L858.19 535.19 L858.49 535.63 L858.80 535.97 L859.10 536.23 L859.40 536.44 L859.71 536.60 L860.01 536.73 L860.31 536.83 L860.62 536.91 L860.92 536.97 L861.22 537.02 L861.53 537.06 L861.83 537.09 L862.13 537.11 L862.44 537.13 Z" fill="#f4a450" fill-opacity="0.36" stroke="#f4a450" stroke-opacity="1.00" stroke-width="1.10"/>
<path d="M852.28 537.20 L852.28 536.72 L852.58 535.99 L852.89 534.34 L853.19 530.93 L853.49 524.45 L853.80 513.03 L854.10 494.68 L854.40 467.56 L854.71 430.74 L855.01 385.54 L855.31 335.24 L855.62 285.13 L855.92 242.10 L856.22 211.95 L856.53 198.56 L856.60 198.00 L856.83 202.83 L857.13 222.58 L857.44 253.56 L857.74 290.84 L858.04 329.52 L858.35 366.26 L858.65 399.07 L858.95 426.89 L859.26 449.80 L859.56 468.34 L859.86 483.05 L860.17 494.68 L860.47 503.86 L860.77 511.04 L861.08 516.68 L861.38 521.11 L861.68 524.58 L861.99 527.30 L862.29 529.44 L862.59 531.11 L862.90 532.43 L863.20 533.46 L863.50 534.26 L863.81 534.90 L864.11 535.39 L864.41 535.78 L864.72 536.09 L865.02 536.33 L865.32 536.52 L865.63 536.66 L865.93 536.78 L866.23 536.87 L866.54 536.94 Z" fill="#ee6070" fill-opacity="0.36" stroke="#ee6070" stroke-opacity="1.00" stroke-width="1.10"/>
<path d="M852.28 537.20 L852.28 536.93 L852.58 536.50 L852.89 535.55 L853.19 533.58 L853.49 529.82 L853.80 523.22 L854.10 512.61 L854.40 496.92 L854.71 475.62 L855.01 449.48 L855.31 420.38 L855.62 391.40 L855.92 366.51 L856.22 349.07 L856.53 341.32 L856.60 341.00 L856.83 343.79 L857.13 355.22 L857.44 373.14 L857.74 394.70 L858.04 417.08 L858.35 438.33 L858.65 457.31 L858.95 473.39 L859.26 486.65 L859.56 497.37 L859.86 505.88 L860.17 512.61 L860.47 517.91 L860.77 522.07 L861.08 525.33 L861.38 527.90 L861.68 529.90 L861.99 531.47 L862.29 532.71 L862.59 533.68 L862.90 534.44 L863.20 535.03 L863.50 535.50 L863.81 535.87 L864.11 536.16 L864.41 536.38 L864.72 536.56 L865.02 536.70 L865.32 536.81 L865.63 536.89 L865.93 536.96 L866.23 537.01 L866.54 537.05 Z" fill="#b0486a" fill-opacity="0.36" stroke="#b0486a" stroke-opacity="1.00" stroke-width="1.10"/>
<path d="M854.98 537.20 L854.98 537.03 L855.28 536.76 L855.59 536.16 L855.89 534.92 L856.19 532.55 L856.50 528.39 L856.80 521.71 L857.10 511.82 L857.41 498.41 L857.71 481.94 L858.01 463.61 L858.32 445.35 L858.62 429.67 L858.92 418.68 L859.23 413.80 L859.30 413.60 L859.53 415.36 L859.83 422.56 L860.14 433.85 L860.44 447.43 L860.74 461.53 L861.05 474.91 L861.35 486.87 L861.65 497.00 L861.96 505.35 L862.26 512.11 L862.56 517.47 L862.87 521.71 L863.17 525.05 L863.47 527.67 L863.78 529.72 L864.08 531.34 L864.38 532.60 L864.69 533.59 L864.99 534.37 L865.29 534.98 L865.60 535.46 L865.90 535.84 L866.20 536.13 L866.51 536.36 L866.81 536.54 L867.11 536.68 L867.42 536.80 L867.72 536.88 L868.02 536.95 L868.33 537.00 L868.63 537.05 L868.93 537.08 L869.24 537.11 Z" fill="#ee6070" fill-opacity="0.36" stroke="#ee6070" stroke-opacity="1.00" stroke-width="1.10"/>
<path d="M854.58 537.20 L854.58 537.08 L854.88 536.90 L855.19 536.50 L855.49 535.66 L855.79 534.07 L856.10 531.26 L856.40 526.76 L856.70 520.10 L857.01 511.06 L857.31 499.96 L857.61 487.60 L857.92 475.30 L858.22 464.73 L858.52 457.33 L858.83 454.04 L858.90 453.90 L859.13 455.09 L859.43 459.94 L859.74 467.54 L860.04 476.70 L860.34 486.20 L860.65 495.22 L860.95 503.28 L861.25 510.11 L861.56 515.74 L861.86 520.29 L862.16 523.90 L862.47 526.76 L862.77 529.01 L863.07 530.78 L863.38 532.16 L863.68 533.25 L863.98 534.10 L864.29 534.77 L864.59 535.29 L864.89 535.71 L865.20 536.03 L865.50 536.28 L865.80 536.48 L866.11 536.63 L866.41 536.76 L866.71 536.85 L867.02 536.93 L867.32 536.99 L867.62 537.03 L867.93 537.07 L868.23 537.10 L868.53 537.12 L868.84 537.14 Z" fill="#3a8a58" fill-opacity="0.36" stroke="#3a8a58" stroke-opacity="1.00" stroke-width="1.10"/>
<path d="M860.59 537.20 L860.59 537.15 L860.89 537.09 L861.19 536.95 L861.49 536.67 L861.79 536.15 L862.10 535.26 L862.39 533.82 L862.70 531.67 L863.00 528.70 L863.30 524.89 L863.60 520.42 L863.90 515.59 L864.20 510.93 L864.50 506.93 L864.80 504.12 L865.10 502.79 L865.20 502.70 L865.40 503.03 L865.70 504.70 L866.00 507.47 L866.30 510.90 L866.60 514.61 L866.90 518.24 L867.20 521.59 L867.50 524.51 L867.80 527.00 L868.11 529.05 L868.41 530.71 L868.71 532.04 L869.01 533.11 L869.31 533.96 L869.61 534.63 L869.91 535.16 L870.21 535.59 L870.51 535.92 L870.81 536.19 L871.11 536.40 L871.41 536.56 L871.71 536.70 L872.01 536.80 L872.31 536.88 L872.61 536.95 L872.91 537.00 L873.21 537.04 L873.51 537.08 L873.82 537.10 L874.12 537.12 L874.42 537.14 L874.72 537.15 L875.02 537.16 L875.32 537.17 L875.62 537.18 Z" fill="#f4a450" fill-opacity="0.36" stroke="#f4a450" stroke-opacity="1.00" stroke-width="1.10"/>
<path d="M863.18 537.20 L863.18 537.16 L863.48 537.10 L863.79 536.97 L864.09 536.70 L864.39 536.18 L864.70 535.26 L865.00 533.79 L865.30 531.62 L865.61 528.66 L865.91 525.04 L866.21 521.00 L866.52 516.99 L866.82 513.54 L867.12 511.12 L867.43 510.04 L867.50 510.00 L867.73 510.39 L868.03 511.97 L868.34 514.46 L868.64 517.44 L868.94 520.55 L869.25 523.49 L869.55 526.12 L869.85 528.35 L870.16 530.19 L870.46 531.68 L870.76 532.86 L871.07 533.79 L871.37 534.53 L871.67 535.10 L871.98 535.55 L872.28 535.91 L872.58 536.19 L872.89 536.41 L873.19 536.58 L873.49 536.71 L873.80 536.82 L874.10 536.90 L874.40 536.96 L874.71 537.02 L875.01 537.06 L875.31 537.09 L875.62 537.11 L875.92 537.13 L876.22 537.15 L876.53 537.16 L876.83 537.17 L877.13 537.17 L877.44 537.18 Z" fill="#6a98d8" fill-opacity="0.36" stroke="#6a98d8" stroke-opacity="1.00" stroke-width="1.10"/>
<path d="M869.68 537.20 L869.68 537.08 L869.98 536.88 L870.29 536.45 L870.59 535.56 L870.89 533.85 L871.20 530.86 L871.50 526.04 L871.80 518.93 L872.11 509.27 L872.41 497.41 L872.71 484.21 L873.02 471.06 L873.32 459.77 L873.62 451.86 L873.93 448.35 L874.00 448.20 L874.23 449.47 L874.53 454.65 L874.84 462.78 L875.14 472.56 L875.44 482.71 L875.75 492.35 L876.05 500.96 L876.35 508.26 L876.66 514.27 L876.96 519.13 L877.26 522.99 L877.57 526.04 L877.87 528.45 L878.17 530.34 L878.48 531.82 L878.78 532.98 L879.08 533.89 L879.39 534.60 L879.69 535.16 L879.99 535.60 L880.30 535.95 L880.60 536.22 L880.90 536.43 L881.21 536.60 L881.51 536.73 L881.81 536.83 L882.12 536.91 L882.42 536.97 L882.72 537.02 L883.03 537.06 L883.33 537.09 L883.63 537.11 L883.94 537.13 Z" fill="#62bc78" fill-opacity="0.36" stroke="#62bc78" stroke-opacity="1.00" stroke-width="1.10"/>
<path d="M869.59 537.20 L869.59 537.11 L869.89 536.97 L870.19 536.69 L870.49 536.13 L870.79 535.10 L871.10 533.30 L871.39 530.42 L871.70 526.11 L872.00 520.16 L872.30 512.51 L872.60 503.55 L872.90 493.86 L873.20 484.50 L873.50 476.49 L873.80 470.85 L874.10 468.18 L874.20 468.00 L874.40 468.67 L874.70 472.02 L875.00 477.57 L875.30 484.44 L875.60 491.88 L875.90 499.16 L876.20 505.88 L876.50 511.76 L876.80 516.74 L877.11 520.84 L877.41 524.19 L877.71 526.86 L878.01 529.00 L878.31 530.70 L878.61 532.05 L878.91 533.12 L879.21 533.97 L879.51 534.64 L879.81 535.17 L880.11 535.59 L880.41 535.92 L880.71 536.19 L881.01 536.40 L881.31 536.57 L881.61 536.70 L881.91 536.80 L882.21 536.88 L882.51 536.95 L882.82 537.00 L883.12 537.04 L883.42 537.08 L883.72 537.10 L884.02 537.12 L884.32 537.14 L884.62 537.15 Z" fill="#3a8a8a" fill-opacity="0.36" stroke="#3a8a8a" stroke-opacity="1.00" stroke-width="1.10"/>
<path d="M876.68 537.20 L876.68 537.11 L876.98 536.97 L877.29 536.67 L877.59 536.03 L877.89 534.82 L878.20 532.69 L878.50 529.27 L878.80 524.20 L879.11 517.33 L879.41 508.90 L879.71 499.51 L880.02 490.16 L880.32 482.13 L880.62 476.50 L880.93 474.00 L881.00 473.90 L881.23 474.80 L881.53 478.49 L881.84 484.27 L882.14 491.23 L882.44 498.44 L882.75 505.30 L883.05 511.42 L883.35 516.61 L883.66 520.89 L883.96 524.35 L884.26 527.10 L884.57 529.27 L884.87 530.98 L885.17 532.32 L885.48 533.37 L885.78 534.20 L886.08 534.85 L886.39 535.35 L886.69 535.75 L886.99 536.06 L887.30 536.31 L887.60 536.50 L887.90 536.65 L888.21 536.77 L888.51 536.86 L888.81 536.94 L889.12 536.99 L889.42 537.04 L889.72 537.07 L890.03 537.10 L890.33 537.12 L890.63 537.14 L890.94 537.15 Z" fill="#62bc78" fill-opacity="0.36" stroke="#62bc78" stroke-opacity="1.00" stroke-width="1.10"/>
<path d="M880.18 537.20 L880.18 537.12 L880.48 537.01 L880.79 536.75 L881.09 536.21 L881.39 535.18 L881.70 533.37 L882.00 530.46 L882.30 526.15 L882.61 520.31 L882.91 513.15 L883.21 505.17 L883.52 497.22 L883.82 490.39 L884.12 485.61 L884.43 483.49 L884.50 483.40 L884.73 484.17 L885.03 487.30 L885.34 492.21 L885.64 498.12 L885.94 504.26 L886.25 510.09 L886.55 515.29 L886.85 519.70 L887.16 523.34 L887.46 526.28 L887.76 528.61 L888.07 530.46 L888.37 531.91 L888.67 533.05 L888.98 533.95 L889.28 534.65 L889.58 535.20 L889.89 535.63 L890.19 535.97 L890.49 536.23 L890.80 536.44 L891.10 536.61 L891.40 536.73 L891.71 536.83 L892.01 536.91 L892.31 536.98 L892.62 537.02 L892.92 537.06 L893.22 537.09 L893.53 537.12 L893.83 537.13 L894.13 537.15 L894.44 537.16 Z" fill="#ee6070" fill-opacity="0.36" stroke="#ee6070" stroke-opacity="1.00" stroke-width="1.10"/>
<path d="M883.38 537.20 L883.38 537.08 L883.68 536.89 L883.99 536.46 L884.29 535.59 L884.59 533.92 L884.90 530.99 L885.20 526.27 L885.50 519.30 L885.81 509.83 L886.11 498.21 L886.41 485.28 L886.72 472.40 L887.02 461.34 L887.32 453.59 L887.63 450.14 L887.70 450.00 L887.93 451.24 L888.23 456.32 L888.54 464.28 L888.84 473.87 L889.14 483.81 L889.45 493.26 L889.75 501.69 L890.05 508.84 L890.36 514.73 L890.66 519.50 L890.96 523.28 L891.27 526.27 L891.57 528.63 L891.87 530.48 L892.18 531.92 L892.48 533.06 L892.78 533.96 L893.09 534.66 L893.39 535.21 L893.69 535.64 L894.00 535.97 L894.30 536.24 L894.60 536.45 L894.91 536.61 L895.21 536.74 L895.51 536.84 L895.82 536.91 L896.12 536.98 L896.42 537.02 L896.73 537.06 L897.03 537.09 L897.33 537.12 L897.64 537.13 Z" fill="#6676be" fill-opacity="0.36" stroke="#6676be" stroke-opacity="1.00" stroke-width="1.10"/>
<path d="M886.18 537.20 L886.18 537.14 L886.48 537.04 L886.79 536.81 L887.09 536.35 L887.39 535.48 L887.70 533.94 L888.00 531.46 L888.30 527.80 L888.61 522.83 L888.91 516.72 L889.21 509.93 L889.52 503.16 L889.82 497.35 L890.12 493.28 L890.43 491.48 L890.50 491.40 L890.73 492.05 L891.03 494.72 L891.34 498.90 L891.64 503.94 L891.94 509.16 L892.25 514.12 L892.55 518.55 L892.85 522.30 L893.16 525.40 L893.46 527.90 L893.76 529.89 L894.07 531.46 L894.37 532.70 L894.67 533.67 L894.98 534.43 L895.28 535.03 L895.58 535.50 L895.89 535.86 L896.19 536.15 L896.49 536.38 L896.80 536.56 L897.10 536.69 L897.40 536.80 L897.71 536.89 L898.01 536.96 L898.31 537.01 L898.62 537.05 L898.92 537.08 L899.22 537.11 L899.53 537.13 L899.83 537.14 L900.13 537.16 L900.44 537.17 Z" fill="#b0486a" fill-opacity="0.36" stroke="#b0486a" stroke-opacity="1.00" stroke-width="1.10"/>
<path d="M889.39 537.20 L889.39 537.04 L889.69 536.82 L889.99 536.34 L890.29 535.40 L890.59 533.64 L890.89 530.60 L891.20 525.72 L891.50 518.42 L891.80 508.33 L892.10 495.39 L892.40 480.20 L892.70 463.81 L893.00 447.95 L893.30 434.38 L893.60 424.82 L893.90 420.30 L894.00 420.00 L894.20 421.14 L894.50 426.81 L894.80 436.20 L895.10 447.85 L895.40 460.45 L895.70 472.78 L896.00 484.16 L896.30 494.11 L896.61 502.55 L896.90 509.50 L897.21 515.16 L897.51 519.69 L897.81 523.31 L898.11 526.19 L898.41 528.48 L898.71 530.28 L899.01 531.72 L899.31 532.86 L899.61 533.76 L899.91 534.47 L900.21 535.04 L900.51 535.49 L900.81 535.84 L901.11 536.13 L901.41 536.35 L901.71 536.53 L902.01 536.67 L902.32 536.78 L902.62 536.86 L902.92 536.93 L903.22 536.99 L903.52 537.03 L903.82 537.07 L904.12 537.10 L904.42 537.12 Z" fill="#6a98d8" fill-opacity="0.36" stroke="#6a98d8" stroke-opacity="1.00" stroke-width="1.10"/>
<path d="M891.18 537.20 L891.18 536.90 L891.48 536.45 L891.79 535.42 L892.09 533.30 L892.39 529.26 L892.70 522.15 L893.00 510.73 L893.30 493.84 L893.61 470.91 L893.91 442.77 L894.21 411.45 L894.52 380.25 L894.82 353.46 L895.12 334.68 L895.43 326.35 L895.50 326.00 L895.73 329.01 L896.03 341.31 L896.34 360.59 L896.64 383.80 L896.94 407.89 L897.25 430.77 L897.55 451.20 L897.85 468.51 L898.16 482.78 L898.46 494.33 L898.76 503.49 L899.07 510.73 L899.37 516.44 L899.67 520.91 L899.98 524.42 L900.28 527.18 L900.58 529.34 L900.89 531.04 L901.19 532.37 L901.49 533.41 L901.80 534.23 L902.10 534.87 L902.40 535.37 L902.71 535.77 L903.01 536.08 L903.31 536.32 L903.62 536.51 L903.92 536.66 L904.22 536.77 L904.53 536.87 L904.83 536.94 L905.13 536.99 L905.44 537.04 Z" fill="#62bc78" fill-opacity="0.36" stroke="#62bc78" stroke-opacity="1.00" stroke-width="1.10"/>
<path d="M891.18 537.20 L891.18 536.97 L891.48 536.61 L891.79 535.81 L892.09 534.16 L892.39 531.01 L892.70 525.46 L893.00 516.56 L893.30 503.39 L893.61 485.51 L893.91 463.56 L894.21 439.14 L894.52 414.81 L894.82 393.91 L895.12 379.27 L895.43 372.77 L895.50 372.50 L895.73 374.84 L896.03 384.44 L896.34 399.48 L896.64 417.58 L896.94 436.36 L897.25 454.20 L897.55 470.13 L897.85 483.64 L898.16 494.76 L898.46 503.77 L898.76 510.91 L899.07 516.55 L899.37 521.01 L899.67 524.50 L899.98 527.24 L900.28 529.39 L900.58 531.07 L900.89 532.39 L901.19 533.43 L901.49 534.25 L901.80 534.88 L902.10 535.38 L902.40 535.77 L902.71 536.08 L903.01 536.32 L903.31 536.51 L903.62 536.66 L903.92 536.78 L904.22 536.87 L904.53 536.94 L904.83 537.00 L905.13 537.04 L905.44 537.07 Z" fill="#8a7848" fill-opacity="0.36" stroke="#8a7848" stroke-opacity="1.00" stroke-width="1.10"/>
<path d="M893.18 537.20 L893.18 537.07 L893.48 536.88 L893.79 536.44 L894.09 535.53 L894.39 533.79 L894.70 530.74 L895.00 525.84 L895.30 518.60 L895.61 508.77 L895.91 496.69 L896.21 483.26 L896.52 469.87 L896.82 458.38 L897.12 450.33 L897.43 446.75 L897.50 446.60 L897.73 447.89 L898.03 453.17 L898.34 461.44 L898.64 471.40 L898.94 481.73 L899.25 491.54 L899.55 500.31 L899.85 507.74 L900.16 513.86 L900.46 518.81 L900.76 522.74 L901.07 525.84 L901.37 528.29 L901.67 530.21 L901.98 531.72 L902.28 532.90 L902.58 533.83 L902.89 534.56 L903.19 535.13 L903.49 535.57 L903.80 535.92 L904.10 536.20 L904.40 536.42 L904.71 536.59 L905.01 536.72 L905.31 536.82 L905.62 536.90 L905.92 536.97 L906.22 537.02 L906.53 537.06 L906.83 537.09 L907.13 537.11 L907.44 537.13 Z" fill="#62bc78" fill-opacity="0.36" stroke="#62bc78" stroke-opacity="1.00" stroke-width="1.10"/>
<path d="M890.18 537.20 L890.18 537.15 L890.48 537.07 L890.79 536.89 L891.09 536.53 L891.39 535.84 L891.70 534.62 L892.00 532.66 L892.30 529.77 L892.61 525.84 L892.91 521.01 L893.21 515.65 L893.52 510.30 L893.82 505.71 L894.12 502.49 L894.43 501.06 L894.50 501.00 L894.73 501.52 L895.03 503.62 L895.34 506.93 L895.64 510.91 L895.94 515.04 L896.25 518.96 L896.55 522.46 L896.85 525.43 L897.16 527.87 L897.46 529.85 L897.76 531.42 L898.07 532.66 L898.37 533.64 L898.67 534.41 L898.98 535.01 L899.28 535.48 L899.58 535.85 L899.89 536.14 L900.19 536.37 L900.49 536.55 L900.80 536.69 L901.10 536.80 L901.40 536.89 L901.71 536.95 L902.01 537.01 L902.31 537.05 L902.62 537.08 L902.92 537.11 L903.22 537.13 L903.53 537.14 L903.83 537.16 L904.13 537.16 L904.44 537.17 Z" fill="#f4a450" fill-opacity="0.36" stroke="#f4a450" stroke-opacity="1.00" stroke-width="1.10"/>
<path d="M916.58 537.20 L916.58 537.16 L916.88 537.09 L917.19 536.95 L917.49 536.65 L917.79 536.08 L918.10 535.07 L918.40 533.45 L918.70 531.06 L919.01 527.82 L919.31 523.83 L919.61 519.40 L919.92 514.98 L920.22 511.19 L920.52 508.53 L920.83 507.35 L920.90 507.30 L921.13 507.73 L921.43 509.47 L921.74 512.20 L922.04 515.48 L922.34 518.89 L922.65 522.13 L922.95 525.02 L923.25 527.48 L923.56 529.50 L923.86 531.13 L924.16 532.43 L924.47 533.45 L924.77 534.26 L925.07 534.89 L925.38 535.39 L925.68 535.78 L925.98 536.09 L926.29 536.33 L926.59 536.52 L926.89 536.66 L927.20 536.78 L927.50 536.87 L927.80 536.94 L928.11 537.00 L928.41 537.04 L928.71 537.08 L929.02 537.10 L929.32 537.12 L929.62 537.14 L929.93 537.15 L930.23 537.16 L930.53 537.17 L930.84 537.18 Z" fill="#f4a450" fill-opacity="0.36" stroke="#f4a450" stroke-opacity="1.00" stroke-width="1.10"/>
<path d="M916.58 537.20 L916.58 537.17 L916.88 537.12 L917.19 537.01 L917.49 536.79 L917.79 536.37 L918.10 535.62 L918.40 534.42 L918.70 532.64 L919.01 530.23 L919.31 527.27 L919.61 523.98 L919.92 520.70 L920.22 517.89 L920.52 515.91 L920.83 515.04 L920.90 515.00 L921.13 515.32 L921.43 516.61 L921.74 518.64 L922.04 521.08 L922.34 523.61 L922.65 526.01 L922.95 528.16 L923.25 529.98 L923.56 531.48 L923.86 532.69 L924.16 533.66 L924.47 534.42 L924.77 535.02 L925.07 535.49 L925.38 535.86 L925.68 536.15 L925.98 536.37 L926.29 536.55 L926.59 536.69 L926.89 536.80 L927.20 536.89 L927.50 536.95 L927.80 537.01 L928.11 537.05 L928.41 537.08 L928.71 537.11 L929.02 537.13 L929.32 537.14 L929.62 537.16 L929.93 537.16 L930.23 537.17 L930.53 537.18 L930.84 537.18 Z" fill="#e08aa8" fill-opacity="0.36" stroke="#e08aa8" stroke-opacity="1.00" stroke-width="1.10"/>
<path d="M935.18 537.20 L935.18 537.19 L935.48 537.18 L935.79 537.15 L936.09 537.09 L936.39 536.98 L936.70 536.79 L937.00 536.47 L937.30 536.01 L937.61 535.38 L937.91 534.61 L938.21 533.75 L938.52 532.89 L938.82 532.15 L939.12 531.64 L939.43 531.41 L939.50 531.40 L939.73 531.48 L940.03 531.82 L940.34 532.35 L940.64 532.99 L940.94 533.65 L941.25 534.28 L941.55 534.84 L941.85 535.31 L942.16 535.71 L942.46 536.02 L942.76 536.27 L943.07 536.47 L943.37 536.63 L943.67 536.75 L943.98 536.85 L944.28 536.92 L944.58 536.98 L944.89 537.03 L945.19 537.07 L945.49 537.10 L945.80 537.12 L946.10 537.14 L946.40 537.15 L946.71 537.16 L947.01 537.17 L947.31 537.18 L947.62 537.18 L947.92 537.19 L948.22 537.19 L948.53 537.19 L948.83 537.19 L949.13 537.19 L949.44 537.20 Z" fill="#50a8a8" fill-opacity="0.36" stroke="#50a8a8" stroke-opacity="1.00" stroke-width="1.10"/>
<path d="M942.47 537.20 L942.47 536.79 L942.77 536.07 L943.08 534.37 L943.39 530.72 L943.69 523.54 L944.00 510.85 L944.31 490.39 L944.61 460.80 L944.92 422.10 L945.23 377.24 L945.53 331.22 L945.84 291.10 L946.15 263.09 L946.45 251.53 L946.50 251.30 L946.76 257.08 L947.07 277.09 L947.37 306.95 L947.68 341.20 L947.99 375.60 L948.29 406.96 L948.60 433.98 L948.90 456.18 L949.21 474.04 L949.52 488.08 L949.82 499.08 L950.13 507.62 L950.44 514.27 L950.74 519.41 L951.05 523.41 L951.36 526.51 L951.66 528.91 L951.97 530.77 L952.28 532.22 L952.58 533.33 L952.89 534.20 L953.20 534.88 L953.50 535.40 L953.81 535.80 L954.12 536.12 L954.42 536.36 L954.73 536.55 L955.03 536.69 L955.34 536.81 L955.65 536.90 L955.95 536.96 Z" fill="#8a6cb4" fill-opacity="0.36" stroke="#8a6cb4" stroke-opacity="1.00" stroke-width="1.10"/>
<path d="M942.52 537.20 L942.52 536.95 L942.83 536.55 L943.13 535.64 L943.43 533.72 L943.73 530.04 L944.03 523.55 L944.33 513.12 L944.63 497.74 L944.94 477.26 L945.24 452.41 L945.54 425.57 L945.84 399.86 L946.14 379.09 L946.44 366.15 L946.70 362.60 L946.75 362.70 L947.05 368.49 L947.35 381.81 L947.65 399.91 L947.95 420.14 L948.25 440.11 L948.55 458.41 L948.86 474.17 L949.16 487.31 L949.46 497.92 L949.76 506.40 L950.06 513.07 L950.36 518.32 L950.67 522.44 L950.97 525.65 L951.27 528.17 L951.57 530.14 L951.87 531.68 L952.17 532.88 L952.48 533.82 L952.78 534.56 L953.08 535.13 L953.38 535.58 L953.68 535.94 L953.98 536.21 L954.28 536.43 L954.59 536.60 L954.89 536.73 L955.19 536.83 L955.49 536.91 L955.79 536.97 L956.09 537.02 L956.39 537.06 Z" fill="#6a4a90" fill-opacity="0.36" stroke="#6a4a90" stroke-opacity="1.00" stroke-width="1.10"/>
<path d="M954.32 537.20 L954.32 537.16 L954.62 537.10 L954.92 537.00 L955.22 536.80 L955.52 536.45 L955.82 535.86 L956.12 534.92 L956.42 533.51 L956.73 531.53 L957.03 528.88 L957.33 525.58 L957.63 521.72 L957.93 517.50 L958.23 513.27 L958.53 509.39 L958.83 506.24 L959.14 504.12 L959.44 503.23 L959.50 503.20 L959.74 503.59 L960.04 505.08 L960.34 507.46 L960.64 510.46 L960.94 513.75 L961.24 517.07 L961.54 520.23 L961.85 523.10 L962.15 525.61 L962.45 527.75 L962.75 529.54 L963.05 531.01 L963.35 532.21 L963.65 533.19 L963.96 533.97 L964.26 534.60 L964.56 535.11 L964.86 535.52 L965.16 535.85 L965.46 536.12 L965.76 536.33 L966.06 536.50 L966.37 536.64 L966.67 536.75 L966.97 536.84 L967.27 536.91 L967.57 536.97 L967.87 537.01 L968.17 537.05 L968.47 537.08 L968.77 537.10 L969.08 537.12 L969.38 537.14 L969.68 537.15 L969.98 537.16 L970.28 537.17 L970.58 537.17 L970.88 537.18 Z" fill="#ee6070" fill-opacity="0.36" stroke="#ee6070" stroke-opacity="1.00" stroke-width="1.10"/>
<path d="M954.32 537.20 L954.32 537.17 L954.62 537.13 L954.92 537.06 L955.22 536.92 L955.52 536.67 L955.82 536.25 L956.12 535.59 L956.42 534.60 L956.73 533.19 L957.03 531.33 L957.33 529.00 L957.63 526.27 L957.93 523.30 L958.23 520.31 L958.53 517.57 L958.83 515.34 L959.14 513.85 L959.44 513.22 L959.50 513.20 L959.74 513.47 L960.04 514.52 L960.34 516.21 L960.64 518.32 L960.94 520.64 L961.24 522.99 L961.54 525.22 L961.85 527.25 L962.15 529.02 L962.45 530.53 L962.75 531.79 L963.05 532.83 L963.35 533.68 L963.65 534.37 L963.96 534.92 L964.26 535.37 L964.56 535.73 L964.86 536.02 L965.16 536.25 L965.46 536.44 L965.76 536.59 L966.06 536.71 L966.37 536.80 L966.67 536.88 L966.97 536.94 L967.27 536.99 L967.57 537.03 L967.87 537.07 L968.17 537.09 L968.47 537.11 L968.77 537.13 L969.08 537.14 L969.38 537.16 L969.68 537.16 L969.98 537.17 L970.28 537.18 L970.58 537.18 L970.88 537.19 Z" fill="#b0486a" fill-opacity="0.36" stroke="#b0486a" stroke-opacity="1.00" stroke-width="1.10"/>
<path d="M969.38 537.20 L969.38 537.19 L969.68 537.18 L969.99 537.14 L970.29 537.07 L970.59 536.94 L970.90 536.70 L971.20 536.32 L971.50 535.76 L971.81 535.00 L972.11 534.07 L972.41 533.03 L972.72 532.00 L973.02 531.11 L973.32 530.49 L973.63 530.21 L973.70 530.20 L973.93 530.30 L974.23 530.71 L974.54 531.35 L974.84 532.12 L975.14 532.91 L975.45 533.67 L975.75 534.35 L976.05 534.92 L976.36 535.40 L976.66 535.78 L976.96 536.08 L977.27 536.32 L977.57 536.51 L977.87 536.66 L978.18 536.78 L978.48 536.87 L978.78 536.94 L979.09 537.00 L979.39 537.04 L979.69 537.07 L980.00 537.10 L980.30 537.12 L980.60 537.14 L980.91 537.15 L981.21 537.16 L981.51 537.17 L981.82 537.18 L982.12 537.18 L982.42 537.19 L982.73 537.19 L983.03 537.19 L983.33 537.19 L983.64 537.19 Z" fill="#6a6a70" fill-opacity="0.36" stroke="#6a6a70" stroke-opacity="1.00" stroke-width="1.10"/>
<path d="M969.38 537.20 L969.38 537.20 L969.68 537.19 L969.99 537.17 L970.29 537.14 L970.59 537.07 L970.90 536.96 L971.20 536.77 L971.50 536.50 L971.81 536.13 L972.11 535.68 L972.41 535.18 L972.72 534.67 L973.02 534.24 L973.32 533.94 L973.63 533.81 L973.70 533.80 L973.93 533.85 L974.23 534.05 L974.54 534.36 L974.84 534.73 L975.14 535.12 L975.45 535.49 L975.75 535.82 L976.05 536.09 L976.36 536.32 L976.66 536.51 L976.96 536.66 L977.27 536.77 L977.57 536.87 L977.87 536.94 L978.18 536.99 L978.48 537.04 L978.78 537.07 L979.09 537.10 L979.39 537.12 L979.69 537.14 L980.00 537.15 L980.30 537.16 L980.60 537.17 L980.91 537.18 L981.21 537.18 L981.51 537.19 L981.82 537.19 L982.12 537.19 L982.42 537.19 L982.73 537.19 L983.03 537.20 L983.33 537.20 L983.64 537.20 Z" fill="#ee6070" fill-opacity="0.36" stroke="#ee6070" stroke-opacity="1.00" stroke-width="1.10"/>
<path d="M980.39 537.20 L980.39 537.18 L980.69 537.14 L980.99 537.07 L981.29 536.93 L981.59 536.66 L981.89 536.20 L982.20 535.47 L982.50 534.36 L982.80 532.84 L983.10 530.89 L983.40 528.59 L983.70 526.12 L984.00 523.72 L984.30 521.67 L984.60 520.23 L984.90 519.55 L985.00 519.50 L985.20 519.67 L985.50 520.53 L985.80 521.95 L986.10 523.71 L986.40 525.61 L986.70 527.47 L987.00 529.19 L987.30 530.69 L987.61 531.97 L987.90 533.02 L988.21 533.87 L988.51 534.56 L988.81 535.10 L989.11 535.54 L989.41 535.88 L989.71 536.16 L990.01 536.37 L990.31 536.54 L990.61 536.68 L990.91 536.79 L991.21 536.87 L991.51 536.94 L991.81 537.00 L992.11 537.04 L992.41 537.07 L992.71 537.10 L993.01 537.12 L993.32 537.14 L993.62 537.15 L993.92 537.16 L994.22 537.17 L994.52 537.17 L994.82 537.18 L995.12 537.18 L995.42 537.19 Z" fill="#6a6a70" fill-opacity="0.36" stroke="#6a6a70" stroke-opacity="1.00" stroke-width="1.10"/>
<path d="M980.39 537.20 L980.39 537.19 L980.69 537.18 L980.99 537.16 L981.29 537.12 L981.59 537.04 L981.89 536.90 L982.20 536.67 L982.50 536.33 L982.80 535.87 L983.10 535.27 L983.40 534.57 L983.70 533.82 L984.00 533.09 L984.30 532.46 L984.60 532.02 L984.90 531.81 L985.00 531.80 L985.20 531.85 L985.50 532.11 L985.80 532.55 L986.10 533.08 L986.40 533.66 L986.70 534.23 L987.00 534.76 L987.30 535.21 L987.61 535.60 L987.90 535.92 L988.21 536.18 L988.51 536.39 L988.81 536.56 L989.11 536.69 L989.41 536.80 L989.71 536.88 L990.01 536.95 L990.31 537.00 L990.61 537.04 L990.91 537.07 L991.21 537.10 L991.51 537.12 L991.81 537.14 L992.11 537.15 L992.41 537.16 L992.71 537.17 L993.01 537.18 L993.32 537.18 L993.62 537.18 L993.92 537.19 L994.22 537.19 L994.52 537.19 L994.82 537.19 L995.12 537.20 L995.42 537.20 Z" fill="#a86cb8" fill-opacity="0.36" stroke="#a86cb8" stroke-opacity="1.00" stroke-width="1.10"/>
<path d="M996.79 537.20 L996.79 537.19 L997.09 537.19 L997.39 537.17 L997.69 537.13 L997.99 537.07 L998.29 536.95 L998.60 536.77 L998.90 536.49 L999.20 536.12 L999.50 535.63 L999.80 535.06 L1000.10 534.44 L1000.40 533.85 L1000.70 533.34 L1001.00 532.98 L1001.30 532.81 L1001.40 532.80 L1001.60 532.84 L1001.90 533.06 L1002.20 533.41 L1002.50 533.85 L1002.80 534.32 L1003.10 534.78 L1003.40 535.21 L1003.70 535.58 L1004.00 535.90 L1004.30 536.16 L1004.61 536.37 L1004.91 536.54 L1005.21 536.68 L1005.51 536.79 L1005.81 536.87 L1006.11 536.94 L1006.41 536.99 L1006.71 537.04 L1007.01 537.07 L1007.31 537.10 L1007.61 537.12 L1007.91 537.14 L1008.21 537.15 L1008.51 537.16 L1008.81 537.17 L1009.11 537.17 L1009.41 537.18 L1009.72 537.18 L1010.01 537.19 L1010.32 537.19 L1010.62 537.19 L1010.92 537.19 L1011.22 537.20 L1011.52 537.20 L1011.82 537.20 Z" fill="#62bc78" fill-opacity="0.00" stroke="#62bc78" stroke-opacity="1.00" stroke-width="1.10"/>
<path d="M348.08 537.20 L348.08 537.15 L348.38 537.09 L348.69 536.93 L348.99 536.61 L349.29 535.99 L349.60 534.91 L349.90 533.16 L350.20 530.59 L350.51 527.09 L350.81 522.80 L351.11 518.03 L351.42 513.27 L351.72 509.19 L352.02 506.32 L352.33 505.05 L352.40 505.00 L352.63 505.46 L352.93 507.33 L353.24 510.27 L353.54 513.81 L353.84 517.49 L354.15 520.97 L354.45 524.09 L354.75 526.73 L355.06 528.90 L355.36 530.66 L355.66 532.06 L355.97 533.16 L356.27 534.03 L356.57 534.72 L356.88 535.25 L357.18 535.67 L357.48 536.00 L357.79 536.26 L358.09 536.46 L358.39 536.62 L358.70 536.75 L359.00 536.84 L359.30 536.92 L359.61 536.98 L359.91 537.03 L360.21 537.07 L360.52 537.09 L360.82 537.12 L361.12 537.14 L361.43 537.15 L361.73 537.16 L362.03 537.17 L362.34 537.18 Z" fill="#8a7848" fill-opacity="0.36" stroke="#8a7848" stroke-opacity="1.00" stroke-width="1.10"/>
<path d="M816.97 537.20 L816.97 537.14 L817.27 537.03 L817.58 536.78 L817.89 536.24 L818.19 535.18 L818.50 533.31 L818.81 530.29 L819.11 525.92 L819.42 520.21 L819.73 513.59 L820.03 506.80 L820.34 500.87 L820.65 496.74 L820.95 495.03 L821.00 495.00 L821.26 495.85 L821.57 498.81 L821.87 503.21 L822.18 508.27 L822.49 513.35 L822.79 517.98 L823.10 521.96 L823.40 525.24 L823.71 527.88 L824.02 529.95 L824.32 531.57 L824.63 532.83 L824.94 533.82 L825.24 534.57 L825.55 535.17 L825.86 535.62 L826.16 535.98 L826.47 536.25 L826.78 536.46 L827.08 536.63 L827.39 536.76 L827.70 536.86 L828.00 536.93 L828.31 536.99 L828.62 537.04 L828.92 537.08 L829.23 537.10 L829.53 537.13 L829.84 537.14 L830.15 537.16 L830.45 537.17 Z" fill="#6676be" fill-opacity="0.36" stroke="#6676be" stroke-opacity="1.00" stroke-width="1.10"/>
<path d="M819.47 537.20 L819.47 537.15 L819.77 537.05 L820.08 536.83 L820.39 536.36 L820.69 535.42 L821.00 533.77 L821.31 531.11 L821.61 527.26 L821.92 522.22 L822.23 516.39 L822.53 510.40 L822.84 505.18 L823.15 501.53 L823.45 500.03 L823.50 500.00 L823.76 500.75 L824.07 503.36 L824.37 507.24 L824.68 511.70 L824.99 516.17 L825.29 520.25 L825.60 523.77 L825.90 526.66 L826.21 528.98 L826.52 530.81 L826.82 532.24 L827.13 533.35 L827.44 534.22 L827.74 534.89 L828.05 535.41 L828.36 535.81 L828.66 536.12 L828.97 536.36 L829.28 536.55 L829.58 536.70 L829.89 536.81 L830.20 536.90 L830.50 536.97 L830.81 537.02 L831.12 537.06 L831.42 537.09 L831.73 537.12 L832.03 537.13 L832.34 537.15 L832.65 537.16 L832.95 537.17 Z" fill="#6a4a90" fill-opacity="0.36" stroke="#6a4a90" stroke-opacity="1.00" stroke-width="1.10"/>
<path d="M826.47 537.20 L826.47 537.17 L826.77 537.11 L827.08 536.98 L827.39 536.70 L827.69 536.14 L828.00 535.15 L828.31 533.57 L828.61 531.27 L828.92 528.26 L829.23 524.78 L829.53 521.21 L829.84 518.09 L830.15 515.92 L830.45 515.02 L830.50 515.00 L830.76 515.45 L831.07 517.00 L831.37 519.32 L831.68 521.98 L831.99 524.65 L832.29 527.09 L832.60 529.19 L832.90 530.91 L833.21 532.30 L833.52 533.39 L833.82 534.24 L834.13 534.90 L834.44 535.42 L834.74 535.82 L835.05 536.13 L835.36 536.37 L835.66 536.56 L835.97 536.70 L836.28 536.81 L836.58 536.90 L836.89 536.97 L837.20 537.02 L837.50 537.06 L837.81 537.09 L838.12 537.12 L838.42 537.13 L838.73 537.15 L839.03 537.16 L839.34 537.17 L839.65 537.18 L839.95 537.18 Z" fill="#b0486a" fill-opacity="0.36" stroke="#b0486a" stroke-opacity="1.00" stroke-width="1.10"/>
<path d="M834.97 537.20 L834.97 537.19 L835.27 537.17 L835.58 537.13 L835.89 537.04 L836.19 536.86 L836.50 536.54 L836.81 536.02 L837.11 535.28 L837.42 534.30 L837.73 533.17 L838.03 532.01 L838.34 531.00 L838.65 530.30 L838.95 530.01 L839.00 530.00 L839.26 530.15 L839.57 530.65 L839.87 531.40 L840.18 532.26 L840.49 533.13 L840.79 533.92 L841.10 534.60 L841.40 535.16 L841.71 535.61 L842.02 535.96 L842.32 536.24 L842.63 536.46 L842.94 536.62 L843.24 536.75 L843.55 536.85 L843.86 536.93 L844.16 536.99 L844.47 537.04 L844.78 537.07 L845.08 537.10 L845.39 537.12 L845.70 537.14 L846.00 537.15 L846.31 537.16 L846.62 537.17 L846.92 537.18 L847.23 537.18 L847.53 537.19 L847.84 537.19 L848.15 537.19 L848.45 537.19 Z" fill="#ee6070" fill-opacity="0.36" stroke="#ee6070" stroke-opacity="1.00" stroke-width="1.10"/>
<path d="M843.39 537.20 L843.39 537.16 L843.69 537.10 L843.99 536.96 L844.29 536.70 L844.59 536.22 L844.89 535.39 L845.20 534.05 L845.50 532.04 L845.80 529.27 L846.10 525.71 L846.40 521.54 L846.70 517.04 L847.00 512.68 L847.30 508.95 L847.60 506.32 L847.90 505.08 L848.00 505.00 L848.20 505.31 L848.50 506.87 L848.80 509.45 L849.10 512.65 L849.40 516.11 L849.70 519.50 L850.00 522.63 L850.30 525.36 L850.61 527.68 L850.90 529.59 L851.21 531.14 L851.51 532.39 L851.81 533.38 L852.11 534.17 L852.41 534.80 L852.71 535.30 L853.01 535.69 L853.31 536.01 L853.61 536.26 L853.91 536.45 L854.21 536.61 L854.51 536.73 L854.81 536.83 L855.11 536.90 L855.41 536.97 L855.71 537.01 L856.01 537.05 L856.32 537.08 L856.62 537.11 L856.92 537.13 L857.22 537.14 L857.52 537.15 L857.82 537.16 L858.12 537.17 L858.42 537.18 Z" fill="#6676be" fill-opacity="0.36" stroke="#6676be" stroke-opacity="1.00" stroke-width="1.10"/>
<path d="M847.68 537.20 L847.68 537.14 L847.98 537.04 L848.29 536.82 L848.59 536.37 L848.89 535.50 L849.20 533.98 L849.50 531.53 L849.80 527.92 L850.11 523.01 L850.41 516.99 L850.71 510.29 L851.02 503.61 L851.32 497.88 L851.62 493.86 L851.93 492.07 L852.00 492.00 L852.23 492.64 L852.53 495.28 L852.84 499.40 L853.14 504.37 L853.44 509.53 L853.75 514.42 L854.05 518.79 L854.35 522.50 L854.66 525.55 L854.96 528.02 L855.26 529.98 L855.57 531.53 L855.87 532.76 L856.17 533.71 L856.48 534.47 L856.78 535.06 L857.08 535.52 L857.39 535.88 L857.69 536.17 L857.99 536.39 L858.30 536.56 L858.60 536.70 L858.90 536.81 L859.21 536.89 L859.51 536.96 L859.81 537.01 L860.12 537.05 L860.42 537.08 L860.72 537.11 L861.03 537.13 L861.33 537.14 L861.63 537.16 L861.94 537.17 Z" fill="#6676be" fill-opacity="0.36" stroke="#6676be" stroke-opacity="1.00" stroke-width="1.10"/>
<path d="M882.82 537.20 L882.82 537.16 L883.12 537.11 L883.42 537.01 L883.72 536.82 L884.02 536.49 L884.32 535.93 L884.62 535.04 L884.92 533.71 L885.23 531.83 L885.53 529.32 L885.83 526.20 L886.13 522.54 L886.43 518.55 L886.73 514.54 L887.03 510.86 L887.33 507.88 L887.64 505.87 L887.94 505.02 L888.00 505.00 L888.24 505.37 L888.54 506.78 L888.84 509.04 L889.14 511.88 L889.44 514.99 L889.74 518.14 L890.04 521.13 L890.35 523.85 L890.65 526.23 L890.95 528.25 L891.25 529.94 L891.55 531.34 L891.85 532.48 L892.15 533.40 L892.46 534.14 L892.76 534.74 L893.06 535.23 L893.36 535.61 L893.66 535.92 L893.96 536.17 L894.26 536.38 L894.56 536.54 L894.87 536.67 L895.17 536.77 L895.47 536.86 L895.77 536.92 L896.07 536.98 L896.37 537.02 L896.67 537.06 L896.97 537.08 L897.27 537.11 L897.58 537.13 L897.88 537.14 L898.18 537.15 L898.48 537.16 L898.78 537.17 L899.08 537.18 L899.38 537.18 Z" fill="#b0486a" fill-opacity="0.36" stroke="#b0486a" stroke-opacity="1.00" stroke-width="1.10"/>
<path d="M874.68 537.20 L874.68 537.18 L874.98 537.14 L875.29 537.05 L875.59 536.88 L875.89 536.55 L876.20 535.97 L876.50 535.04 L876.80 533.67 L877.11 531.80 L877.41 529.51 L877.71 526.96 L878.02 524.42 L878.32 522.24 L878.62 520.71 L878.93 520.03 L879.00 520.00 L879.23 520.24 L879.53 521.25 L879.84 522.82 L880.14 524.71 L880.44 526.67 L880.75 528.53 L881.05 530.20 L881.35 531.61 L881.66 532.77 L881.96 533.71 L882.26 534.45 L882.57 535.04 L882.87 535.51 L883.17 535.87 L883.48 536.16 L883.78 536.38 L884.08 536.56 L884.39 536.70 L884.69 536.81 L884.99 536.89 L885.30 536.96 L885.60 537.01 L885.90 537.05 L886.21 537.08 L886.51 537.11 L886.81 537.13 L887.12 537.14 L887.42 537.16 L887.72 537.17 L888.03 537.17 L888.33 537.18 L888.63 537.18 L888.94 537.19 Z" fill="#b0486a" fill-opacity="0.36" stroke="#b0486a" stroke-opacity="1.00" stroke-width="1.10"/>
<path d="M337.97 537.20 L337.97 537.17 L338.27 537.11 L338.58 536.97 L338.89 536.66 L339.19 536.07 L339.50 535.02 L339.81 533.32 L340.11 530.87 L340.42 527.66 L340.73 523.94 L341.03 520.12 L341.34 516.80 L341.65 514.48 L341.95 513.52 L342.00 513.50 L342.26 513.98 L342.56 515.64 L342.87 518.11 L343.18 520.95 L343.49 523.80 L343.79 526.40 L344.10 528.64 L344.40 530.48 L344.71 531.96 L345.02 533.13 L345.32 534.04 L345.63 534.75 L345.94 535.30 L346.24 535.73 L346.55 536.06 L346.86 536.31 L347.16 536.51 L347.47 536.67 L347.78 536.79 L348.08 536.88 L348.39 536.95 L348.69 537.01 L349.00 537.05 L349.31 537.08 L349.62 537.11 L349.92 537.13 L350.23 537.15 L350.53 537.16 L350.84 537.17 L351.15 537.17 L351.45 537.18 Z" fill="#6a98d8" fill-opacity="0.36" stroke="#6a98d8" stroke-opacity="1.00" stroke-width="1.10"/>
<path d="M344.97 537.20 L344.97 537.18 L345.27 537.15 L345.58 537.08 L345.89 536.92 L346.19 536.62 L346.50 536.08 L346.81 535.20 L347.11 533.94 L347.42 532.29 L347.73 530.37 L348.03 528.41 L348.34 526.70 L348.65 525.50 L348.95 525.01 L349.00 525.00 L349.26 525.25 L349.56 526.10 L349.87 527.37 L350.18 528.84 L350.49 530.30 L350.79 531.64 L351.10 532.80 L351.40 533.74 L351.71 534.50 L352.02 535.10 L352.32 535.57 L352.63 535.94 L352.94 536.22 L353.24 536.44 L353.55 536.61 L353.86 536.74 L354.16 536.85 L354.47 536.93 L354.78 536.99 L355.08 537.04 L355.39 537.07 L355.69 537.10 L356.00 537.12 L356.31 537.14 L356.62 537.15 L356.92 537.16 L357.23 537.17 L357.53 537.18 L357.84 537.18 L358.15 537.19 L358.45 537.19 Z" fill="#3a8a58" fill-opacity="0.36" stroke="#3a8a58" stroke-opacity="1.00" stroke-width="1.10"/>
<path d="M397.09 537.20 L397.09 537.17 L397.39 537.14 L397.69 537.10 L398.00 537.03 L398.30 536.91 L398.60 536.73 L398.90 536.45 L399.21 536.05 L399.51 535.48 L399.81 534.70 L400.12 533.67 L400.42 532.35 L400.72 530.73 L401.02 528.80 L401.33 526.59 L401.63 524.15 L401.93 521.58 L402.23 518.97 L402.54 516.48 L402.84 514.25 L403.14 512.39 L403.44 511.02 L403.75 510.22 L404.00 510.00 L404.05 510.01 L404.35 510.38 L404.66 511.30 L404.96 512.66 L405.26 514.38 L405.56 516.34 L405.87 518.42 L406.17 520.53 L406.47 522.59 L406.77 524.53 L407.08 526.32 L407.38 527.93 L407.68 529.35 L407.99 530.59 L408.29 531.65 L408.59 532.56 L408.89 533.32 L409.20 533.97 L409.50 534.51 L409.80 534.96 L410.10 535.34 L410.41 535.65 L410.71 535.91 L411.01 536.13 L411.31 536.31 L411.62 536.46 L411.92 536.59 L412.22 536.69 L412.53 536.78 L412.83 536.85 L413.13 536.91 L413.43 536.96 L413.74 537.00 L414.04 537.03 L414.34 537.06 L414.64 537.08 L414.95 537.10 L415.25 537.12 L415.55 537.13 L415.86 537.14 L416.16 537.15 L416.46 537.16 L416.76 537.17 L417.07 537.17 L417.37 537.18 L417.67 537.18 L417.98 537.18 L418.28 537.19 Z" fill="#f4a450" fill-opacity="0.36" stroke="#f4a450" stroke-opacity="1.00" stroke-width="1.10"/>
<path d="M394.39 537.20 L394.39 537.19 L394.69 537.18 L394.99 537.16 L395.29 537.12 L395.59 537.04 L395.89 536.91 L396.19 536.69 L396.50 536.37 L396.80 535.92 L397.10 535.35 L397.40 534.67 L397.70 533.94 L398.00 533.24 L398.30 532.64 L398.60 532.21 L398.90 532.01 L399.00 532.00 L399.20 532.05 L399.50 532.30 L399.80 532.72 L400.10 533.24 L400.40 533.79 L400.70 534.34 L401.00 534.85 L401.30 535.29 L401.61 535.66 L401.90 535.97 L402.21 536.22 L402.51 536.42 L402.81 536.58 L403.11 536.71 L403.41 536.81 L403.71 536.89 L404.01 536.96 L404.31 537.01 L404.61 537.05 L404.91 537.08 L405.21 537.10 L405.51 537.12 L405.81 537.14 L406.11 537.15 L406.41 537.16 L406.71 537.17 L407.01 537.18 L407.31 537.18 L407.62 537.19 L407.92 537.19 L408.22 537.19 L408.52 537.19 L408.82 537.19 L409.12 537.20 L409.42 537.20 Z" fill="#6a4a90" fill-opacity="0.36" stroke="#6a4a90" stroke-opacity="1.00" stroke-width="1.10"/>
<path d="M404.82 537.20 L404.82 537.19 L405.12 537.17 L405.42 537.15 L405.72 537.09 L406.02 537.00 L406.32 536.84 L406.62 536.58 L406.93 536.20 L407.23 535.66 L407.53 534.95 L407.83 534.06 L408.13 533.01 L408.43 531.87 L408.73 530.72 L409.03 529.67 L409.33 528.82 L409.64 528.25 L409.94 528.01 L410.00 528.00 L410.24 528.10 L410.54 528.51 L410.84 529.15 L411.14 529.96 L411.44 530.85 L411.74 531.75 L412.05 532.61 L412.35 533.39 L412.65 534.06 L412.95 534.64 L413.25 535.13 L413.55 535.52 L413.85 535.85 L414.15 536.11 L414.45 536.33 L414.76 536.50 L415.06 536.64 L415.36 536.75 L415.66 536.84 L415.96 536.91 L416.26 536.96 L416.56 537.01 L416.87 537.05 L417.17 537.08 L417.47 537.10 L417.77 537.12 L418.07 537.14 L418.37 537.15 L418.67 537.16 L418.97 537.17 L419.27 537.17 L419.58 537.18 L419.88 537.18 L420.18 537.19 L420.48 537.19 L420.78 537.19 L421.08 537.19 L421.38 537.19 Z" fill="#a86cb8" fill-opacity="0.36" stroke="#a86cb8" stroke-opacity="1.00" stroke-width="1.10"/>
<path d="M408.82 537.20 L408.82 537.18 L409.12 537.16 L409.42 537.11 L409.72 537.02 L410.02 536.87 L410.32 536.60 L410.62 536.18 L410.93 535.55 L411.23 534.66 L411.53 533.48 L411.83 532.01 L412.13 530.28 L412.43 528.39 L412.73 526.50 L413.03 524.77 L413.33 523.36 L413.64 522.41 L413.94 522.01 L414.00 522.00 L414.24 522.17 L414.54 522.84 L414.84 523.91 L415.14 525.25 L415.44 526.72 L415.74 528.20 L416.05 529.61 L416.35 530.90 L416.65 532.02 L416.95 532.98 L417.25 533.77 L417.55 534.43 L417.85 534.97 L418.15 535.41 L418.45 535.76 L418.76 536.04 L419.06 536.27 L419.36 536.45 L419.66 536.60 L419.96 536.72 L420.26 536.81 L420.56 536.89 L420.87 536.95 L421.17 537.00 L421.47 537.04 L421.77 537.07 L422.07 537.10 L422.37 537.12 L422.67 537.13 L422.97 537.15 L423.27 537.16 L423.58 537.16 L423.88 537.17 L424.18 537.18 L424.48 537.18 L424.78 537.19 L425.08 537.19 L425.38 537.19 Z" fill="#f4a450" fill-opacity="0.36" stroke="#f4a450" stroke-opacity="1.00" stroke-width="1.10"/>
<path d="M427.32 537.20 L427.32 537.16 L427.62 537.11 L427.92 537.02 L428.22 536.83 L428.52 536.51 L428.82 535.97 L429.12 535.11 L429.43 533.82 L429.73 531.99 L430.03 529.57 L430.33 526.54 L430.63 523.00 L430.93 519.12 L431.23 515.24 L431.53 511.68 L431.83 508.79 L432.14 506.84 L432.44 506.02 L432.50 506.00 L432.74 506.35 L433.04 507.72 L433.34 509.91 L433.64 512.66 L433.94 515.68 L434.24 518.73 L434.55 521.63 L434.85 524.26 L435.15 526.57 L435.45 528.53 L435.75 530.17 L436.05 531.52 L436.35 532.62 L436.65 533.52 L436.95 534.24 L437.26 534.82 L437.56 535.29 L437.86 535.66 L438.16 535.96 L438.46 536.21 L438.76 536.40 L439.06 536.56 L439.37 536.68 L439.67 536.79 L439.97 536.87 L440.27 536.93 L440.57 536.99 L440.87 537.03 L441.17 537.06 L441.47 537.09 L441.77 537.11 L442.08 537.13 L442.38 537.14 L442.68 537.15 L442.98 537.16 L443.28 537.17 L443.58 537.18 L443.88 537.18 Z" fill="#6a98d8" fill-opacity="0.36" stroke="#6a98d8" stroke-opacity="1.00" stroke-width="1.10"/>
<path d="M439.24 537.20 L439.24 537.17 L439.54 537.14 L439.84 537.09 L440.14 536.99 L440.45 536.83 L440.75 536.55 L441.05 536.13 L441.35 535.49 L441.65 534.59 L441.96 533.37 L442.26 531.79 L442.56 529.86 L442.86 527.63 L443.16 525.18 L443.46 522.65 L443.77 520.23 L444.07 518.10 L444.37 516.45 L444.67 515.39 L444.97 515.00 L445.00 515.00 L445.28 515.29 L445.58 516.18 L445.88 517.57 L446.18 519.31 L446.48 521.25 L446.79 523.25 L447.09 525.21 L447.39 527.03 L447.69 528.67 L447.99 530.12 L448.29 531.36 L448.60 532.40 L448.90 533.27 L449.20 533.99 L449.50 534.59 L449.80 535.07 L450.11 535.47 L450.41 535.79 L450.71 536.05 L451.01 536.27 L451.31 536.44 L451.61 536.58 L451.92 536.70 L452.22 536.79 L452.52 536.87 L452.82 536.93 L453.12 536.98 L453.43 537.02 L453.73 537.05 L454.03 537.08 L454.33 537.10 L454.63 537.12 L454.93 537.14 L455.24 537.15 L455.54 537.16 L455.84 537.17 L456.14 537.17 L456.44 537.18 L456.74 537.18 L457.05 537.18 L457.35 537.19 Z" fill="#b0486a" fill-opacity="0.36" stroke="#b0486a" stroke-opacity="1.00" stroke-width="1.10"/>
<path d="M453.32 537.20 L453.32 537.15 L453.62 537.09 L453.92 536.98 L454.22 536.76 L454.52 536.38 L454.82 535.73 L455.12 534.71 L455.43 533.17 L455.73 530.99 L456.03 528.10 L456.33 524.49 L456.63 520.26 L456.93 515.65 L457.23 511.02 L457.53 506.77 L457.83 503.32 L458.14 501.00 L458.44 500.03 L458.50 500.00 L458.74 500.42 L459.04 502.05 L459.34 504.66 L459.64 507.94 L459.94 511.54 L460.24 515.17 L460.55 518.63 L460.85 521.78 L461.15 524.52 L461.45 526.86 L461.75 528.82 L462.05 530.43 L462.35 531.74 L462.65 532.81 L462.95 533.67 L463.26 534.36 L463.56 534.92 L463.86 535.37 L464.16 535.73 L464.46 536.02 L464.76 536.25 L465.06 536.44 L465.37 536.59 L465.67 536.71 L465.97 536.80 L466.27 536.88 L466.57 536.94 L466.87 536.99 L467.17 537.03 L467.47 537.07 L467.77 537.09 L468.08 537.11 L468.38 537.13 L468.68 537.14 L468.98 537.16 L469.28 537.16 L469.58 537.17 L469.88 537.18 Z" fill="#50a8a8" fill-opacity="0.36" stroke="#50a8a8" stroke-opacity="1.00" stroke-width="1.10"/>
<path d="M456.82 537.20 L456.82 537.16 L457.12 537.11 L457.42 537.01 L457.72 536.82 L458.02 536.49 L458.32 535.93 L458.62 535.04 L458.93 533.71 L459.23 531.83 L459.53 529.32 L459.83 526.20 L460.13 522.54 L460.43 518.55 L460.73 514.54 L461.03 510.86 L461.33 507.88 L461.64 505.87 L461.94 505.02 L462.00 505.00 L462.24 505.37 L462.54 506.78 L462.84 509.04 L463.14 511.88 L463.44 514.99 L463.74 518.14 L464.05 521.13 L464.35 523.85 L464.65 526.23 L464.95 528.25 L465.25 529.94 L465.55 531.34 L465.85 532.48 L466.15 533.40 L466.45 534.14 L466.76 534.74 L467.06 535.23 L467.36 535.61 L467.66 535.92 L467.96 536.17 L468.26 536.38 L468.56 536.54 L468.87 536.67 L469.17 536.77 L469.47 536.86 L469.77 536.92 L470.07 536.98 L470.37 537.02 L470.67 537.06 L470.97 537.08 L471.27 537.11 L471.58 537.13 L471.88 537.14 L472.18 537.15 L472.48 537.16 L472.78 537.17 L473.08 537.18 L473.38 537.18 Z" fill="#b0486a" fill-opacity="0.36" stroke="#b0486a" stroke-opacity="1.00" stroke-width="1.10"/>
<path d="M289.16 537.20 L289.16 537.17 L289.46 537.15 L289.76 537.11 L290.06 537.06 L290.36 536.99 L290.66 536.88 L290.96 536.73 L291.26 536.51 L291.56 536.22 L291.86 535.82 L292.16 535.29 L292.46 534.62 L292.76 533.77 L293.06 532.71 L293.36 531.44 L293.66 529.94 L293.96 528.20 L294.26 526.24 L294.56 524.07 L294.86 521.75 L295.16 519.32 L295.46 516.86 L295.76 514.44 L296.06 512.14 L296.36 510.05 L296.66 508.24 L296.96 506.79 L297.26 505.75 L297.56 505.15 L297.80 505.00 L297.86 505.01 L298.16 505.32 L298.46 506.05 L298.76 507.16 L299.06 508.59 L299.37 510.28 L299.67 512.15 L299.96 514.13 L300.26 516.17 L300.56 518.20 L300.87 520.18 L301.17 522.08 L301.47 523.85 L301.77 525.48 L302.07 526.97 L302.37 528.31 L302.67 529.50 L302.97 530.55 L303.27 531.48 L303.57 532.29 L303.87 532.99 L304.17 533.59 L304.47 534.11 L304.77 534.56 L305.07 534.94 L305.37 535.27 L305.67 535.56 L305.97 535.80 L306.27 536.00 L306.57 536.18 L306.87 536.33 L307.17 536.45 L307.47 536.56 L307.77 536.66 L308.07 536.74 L308.37 536.80 L308.67 536.86 L308.97 536.91 L309.27 536.95 L309.57 536.99 L309.87 537.02 L310.17 537.05 L310.47 537.07 L310.77 537.09 L311.07 537.10 L311.37 537.12 L311.67 537.13 L311.97 537.14 L312.27 537.15 L312.57 537.16 L312.87 537.16 L313.17 537.17 L313.47 537.17 L313.77 537.18 L314.07 537.18 L314.37 537.18 L314.67 537.19 L314.97 537.19 Z" fill="#b0486a" fill-opacity="0.36" stroke="#b0486a" stroke-opacity="1.00" stroke-width="1.10"/>
<line x1="87.0" y1="537.2" x2="117.0" y2="537.2" stroke="#c85878" stroke-width="1.2"/>
<line x1="117.0" y1="537.2" x2="133.0" y2="537.2" stroke="#b01830" stroke-width="2.0"/>
<line x1="133.0" y1="537.2" x2="139.0" y2="537.2" stroke="#d08890" stroke-width="1.5"/>
<line x1="139.0" y1="537.2" x2="207.0" y2="537.2" stroke="#b01830" stroke-width="2.2"/>
<line x1="207.0" y1="537.2" x2="214.0" y2="537.2" stroke="#a0a070" stroke-width="1.5"/>
<line x1="214.0" y1="537.2" x2="226.0" y2="537.2" stroke="#e02828" stroke-width="2.0"/>
<line x1="226.0" y1="537.2" x2="231.0" y2="537.2" stroke="#d0a0a0" stroke-width="1.5"/>
<line x1="231.0" y1="537.2" x2="245.0" y2="537.2" stroke="#f08a20" stroke-width="2.2"/>
<line x1="245.0" y1="537.2" x2="250.0" y2="537.2" stroke="#c08080" stroke-width="1.5"/>
<line x1="250.0" y1="537.2" x2="256.0" y2="537.2" stroke="#e02828" stroke-width="2.0"/>
<line x1="256.0" y1="537.2" x2="262.0" y2="537.2" stroke="#f08a20" stroke-width="2.0"/>
<line x1="262.0" y1="537.2" x2="265.0" y2="537.2" stroke="#c08080" stroke-width="1.5"/>
<line x1="265.0" y1="537.2" x2="315.0" y2="537.2" stroke="#e02020" stroke-width="2.4"/>
<line x1="315.0" y1="537.2" x2="320.0" y2="537.2" stroke="#402030" stroke-width="2.0"/>
<line x1="320.0" y1="537.2" x2="400.0" y2="537.2" stroke="#4a80d0" stroke-width="2.0"/>
<line x1="400.0" y1="537.2" x2="455.0" y2="537.2" stroke="#4a80d0" stroke-width="2.2"/>
<line x1="455.0" y1="537.2" x2="470.0" y2="537.2" stroke="#50a060" stroke-width="2.0"/>
<line x1="470.0" y1="537.2" x2="479.0" y2="537.2" stroke="#f08a20" stroke-width="2.2"/>
<line x1="479.0" y1="537.2" x2="500.0" y2="537.2" stroke="#c02030" stroke-width="2.2"/>
<line x1="500.0" y1="537.2" x2="507.0" y2="537.2" stroke="#401828" stroke-width="2.2"/>
<line x1="507.0" y1="537.2" x2="530.0" y2="537.2" stroke="#d02030" stroke-width="2.2"/>
<line x1="530.0" y1="537.2" x2="570.0" y2="537.2" stroke="#a01828" stroke-width="2.2"/>
<line x1="570.0" y1="537.2" x2="602.0" y2="537.2" stroke="#c83090" stroke-width="2.2"/>
<line x1="602.0" y1="537.2" x2="620.0" y2="537.2" stroke="#c02838" stroke-width="2.0"/>
<line x1="620.0" y1="537.2" x2="650.0" y2="537.2" stroke="#2a8050" stroke-width="2.2"/>
<line x1="650.0" y1="537.2" x2="692.0" y2="537.2" stroke="#2838a0" stroke-width="2.4"/>
<line x1="692.0" y1="537.2" x2="740.0" y2="537.2" stroke="#a02040" stroke-width="2.2"/>
<line x1="740.0" y1="537.2" x2="765.0" y2="537.2" stroke="#a01828" stroke-width="2.2"/>
<line x1="765.0" y1="537.2" x2="790.0" y2="537.2" stroke="#e02020" stroke-width="2.4"/>
<line x1="790.0" y1="537.2" x2="810.0" y2="537.2" stroke="#4a80d0" stroke-width="2.0"/>
<line x1="810.0" y1="537.2" x2="855.0" y2="537.2" stroke="#2838a0" stroke-width="2.4"/>
<line x1="855.0" y1="537.2" x2="915.0" y2="537.2" stroke="#b01830" stroke-width="2.2"/>
<line x1="915.0" y1="537.2" x2="922.0" y2="537.2" stroke="#8a8040" stroke-width="2.0"/>
<line x1="922.0" y1="537.2" x2="940.0" y2="537.2" stroke="#f08a20" stroke-width="2.2"/>
<line x1="940.0" y1="537.2" x2="971.0" y2="537.2" stroke="#802050" stroke-width="2.2"/>
<line x1="971.0" y1="537.2" x2="996.0" y2="537.2" stroke="#202020" stroke-width="2.2"/>
<line x1="996.0" y1="537.2" x2="1016.0" y2="537.2" stroke="#3a60b0" stroke-width="2.2"/>
<line x1="1016.0" y1="537.2" x2="1040.0" y2="537.2" stroke="#806080" stroke-width="1.3"/>
<line x1="1040.0" y1="537.2" x2="1058.5" y2="537.2" stroke="#60b8c0" stroke-width="1.3"/>
</g>
<line x1="83.8" y1="25" x2="83.8" y2="537.3" stroke="#6b6c71" stroke-width="2.1"/>
<line x1="72.2" y1="537.10" x2="84.8" y2="537.10" stroke="#6b6c71" stroke-width="2"/>
<text x="61.0" y="542.10" text-anchor="end" class="t">0</text>
<line x1="72.2" y1="502.57" x2="84.8" y2="502.57" stroke="#6b6c71" stroke-width="2"/>
<text x="61.0" y="507.57" text-anchor="end" class="t">0.1</text>
<line x1="72.2" y1="468.04" x2="84.8" y2="468.04" stroke="#6b6c71" stroke-width="2"/>
<text x="61.0" y="473.04" text-anchor="end" class="t">0.2</text>
<line x1="72.2" y1="433.51" x2="84.8" y2="433.51" stroke="#6b6c71" stroke-width="2"/>
<text x="61.0" y="438.51" text-anchor="end" class="t">0.3</text>
<line x1="72.2" y1="398.98" x2="84.8" y2="398.98" stroke="#6b6c71" stroke-width="2"/>
<text x="61.0" y="403.98" text-anchor="end" class="t">0.4</text>
<line x1="72.2" y1="364.45" x2="84.8" y2="364.45" stroke="#6b6c71" stroke-width="2"/>
<text x="61.0" y="369.45" text-anchor="end" class="t">0.5</text>
<line x1="72.2" y1="329.92" x2="84.8" y2="329.92" stroke="#6b6c71" stroke-width="2"/>
<text x="61.0" y="334.92" text-anchor="end" class="t">0.6</text>
<line x1="72.2" y1="295.39" x2="84.8" y2="295.39" stroke="#6b6c71" stroke-width="2"/>
<text x="61.0" y="300.39" text-anchor="end" class="t">0.7</text>
<line x1="72.2" y1="260.86" x2="84.8" y2="260.86" stroke="#6b6c71" stroke-width="2"/>
<text x="61.0" y="265.86" text-anchor="end" class="t">0.8</text>
<line x1="72.2" y1="226.33" x2="84.8" y2="226.33" stroke="#6b6c71" stroke-width="2"/>
<text x="61.0" y="231.33" text-anchor="end" class="t">0.9</text>
<line x1="72.2" y1="191.80" x2="84.8" y2="191.80" stroke="#6b6c71" stroke-width="2"/>
<text x="61.0" y="196.80" text-anchor="end" class="t">1</text>
<line x1="72.2" y1="157.27" x2="84.8" y2="157.27" stroke="#6b6c71" stroke-width="2"/>
<text x="61.0" y="162.27" text-anchor="end" class="t">1.1</text>
<line x1="72.2" y1="122.74" x2="84.8" y2="122.74" stroke="#6b6c71" stroke-width="2"/>
<text x="61.0" y="127.74" text-anchor="end" class="t">1.2</text>
<line x1="72.2" y1="88.21" x2="84.8" y2="88.21" stroke="#6b6c71" stroke-width="2"/>
<text x="61.0" y="93.21" text-anchor="end" class="t">1.3</text>
<line x1="72.2" y1="53.68" x2="84.8" y2="53.68" stroke="#6b6c71" stroke-width="2"/>
<text x="61.0" y="58.68" text-anchor="end" class="t">1.4</text>
<line x1="87" y1="545" x2="1058.8" y2="545" stroke="#6b6c71" stroke-width="2"/>
<line x1="111.90" y1="544" x2="111.90" y2="553" stroke="#6b6c71" stroke-width="2"/>
<text x="111.40" y="582.40" text-anchor="middle" class="t">2</text>
<line x1="158.25" y1="544" x2="158.25" y2="553" stroke="#6b6c71" stroke-width="2"/>
<text x="157.75" y="582.40" text-anchor="middle" class="t">3</text>
<line x1="204.60" y1="544" x2="204.60" y2="553" stroke="#6b6c71" stroke-width="2"/>
<text x="204.10" y="582.40" text-anchor="middle" class="t">4</text>
<line x1="250.95" y1="544" x2="250.95" y2="553" stroke="#6b6c71" stroke-width="2"/>
<text x="250.45" y="582.40" text-anchor="middle" class="t">5</text>
<line x1="297.30" y1="544" x2="297.30" y2="553" stroke="#6b6c71" stroke-width="2"/>
<text x="296.80" y="582.40" text-anchor="middle" class="t">6</text>
<line x1="343.65" y1="544" x2="343.65" y2="553" stroke="#6b6c71" stroke-width="2"/>
<text x="343.15" y="582.40" text-anchor="middle" class="t">7</text>
<line x1="390.00" y1="544" x2="390.00" y2="553" stroke="#6b6c71" stroke-width="2"/>
<text x="389.50" y="582.40" text-anchor="middle" class="t">8</text>
<line x1="436.35" y1="544" x2="436.35" y2="553" stroke="#6b6c71" stroke-width="2"/>
<text x="435.85" y="582.40" text-anchor="middle" class="t">9</text>
<line x1="482.70" y1="544" x2="482.70" y2="553" stroke="#6b6c71" stroke-width="2"/>
<text x="480.50" y="582.40" text-anchor="middle" class="t">10</text>
<line x1="529.05" y1="544" x2="529.05" y2="553" stroke="#6b6c71" stroke-width="2"/>
<text x="526.85" y="582.40" text-anchor="middle" class="t">11</text>
<line x1="575.40" y1="544" x2="575.40" y2="553" stroke="#6b6c71" stroke-width="2"/>
<text x="573.20" y="582.40" text-anchor="middle" class="t">12</text>
<line x1="621.75" y1="544" x2="621.75" y2="553" stroke="#6b6c71" stroke-width="2"/>
<text x="619.55" y="582.40" text-anchor="middle" class="t">13</text>
<line x1="668.10" y1="544" x2="668.10" y2="553" stroke="#6b6c71" stroke-width="2"/>
<text x="665.90" y="582.40" text-anchor="middle" class="t">14</text>
<line x1="714.45" y1="544" x2="714.45" y2="553" stroke="#6b6c71" stroke-width="2"/>
<text x="712.25" y="582.40" text-anchor="middle" class="t">15</text>
<line x1="760.80" y1="544" x2="760.80" y2="553" stroke="#6b6c71" stroke-width="2"/>
<text x="758.60" y="582.40" text-anchor="middle" class="t">16</text>
<line x1="807.15" y1="544" x2="807.15" y2="553" stroke="#6b6c71" stroke-width="2"/>
<text x="804.95" y="582.40" text-anchor="middle" class="t">17</text>
<line x1="853.50" y1="544" x2="853.50" y2="553" stroke="#6b6c71" stroke-width="2"/>
<text x="851.30" y="582.40" text-anchor="middle" class="t">18</text>
<line x1="899.85" y1="544" x2="899.85" y2="553" stroke="#6b6c71" stroke-width="2"/>
<text x="897.65" y="582.40" text-anchor="middle" class="t">19</text>
<line x1="946.20" y1="544" x2="946.20" y2="553" stroke="#6b6c71" stroke-width="2"/>
<text x="944.00" y="582.40" text-anchor="middle" class="t">20</text>
<line x1="992.55" y1="544" x2="992.55" y2="553" stroke="#6b6c71" stroke-width="2"/>
<text x="990.35" y="582.40" text-anchor="middle" class="t">21</text>
<line x1="1038.90" y1="544" x2="1038.90" y2="553" stroke="#6b6c71" stroke-width="2"/>
<text x="1036.70" y="582.40" text-anchor="middle" class="t">22</text>
<text x="12.5" y="35.2" class="t">×10<tspan class="sup" dx="-1.4" dy="-8.2">6</tspan></text>
<text x="448.5" y="614.0" class="t xl">响应 vs. 采集时间 (min)</text>
</svg>
</body></html>
